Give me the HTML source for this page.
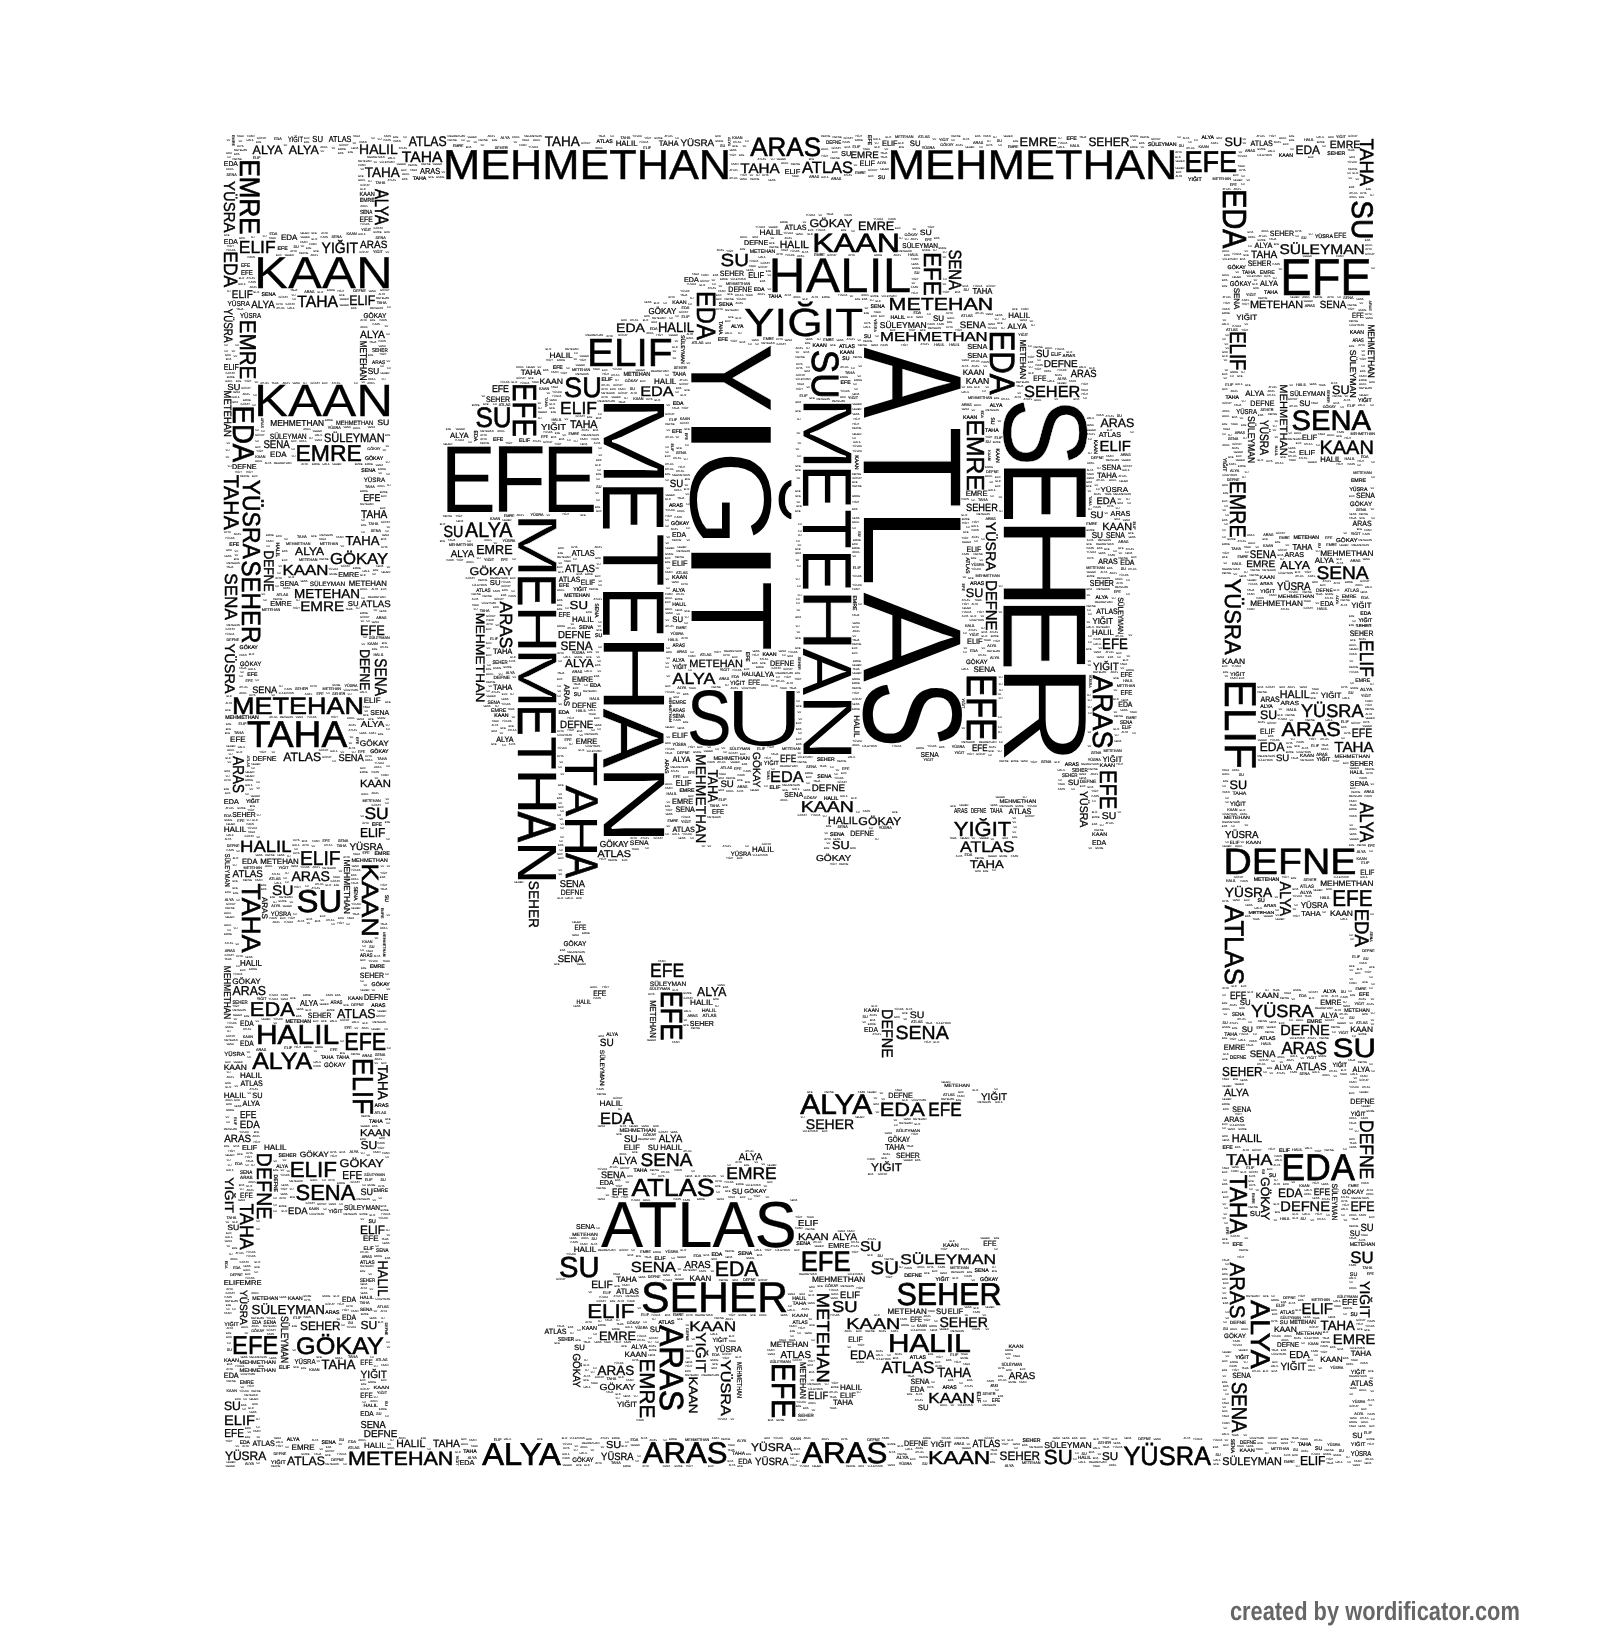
<!DOCTYPE html>
<html><head><meta charset="utf-8"><title>wordcloud</title>
<style>
html,body{margin:0;padding:0;background:#fff}
body{width:1600px;height:1640px;overflow:hidden;position:relative}
svg{position:absolute;left:0;top:0;will-change:transform}
text{font-family:"Liberation Sans",sans-serif;fill:#000;text-rendering:geometricPrecision}
.c{font-family:"Liberation Sans",sans-serif;font-weight:bold;fill:#666}
</style></head><body>
<svg width="1600" height="1640" viewBox="0 0 1600 1640">
<g stroke="#fff" stroke-linejoin="miter">
<text transform="translate(442.9,179.0) scale(1.070,1)" font-size="41.8" stroke="#000" stroke-width="0.46">MEHMETHAN</text>
<text transform="translate(254.1,287.9) scale(1.140,1)" font-size="44.7" stroke="#000" stroke-width="0.25">KAAN</text>
<text transform="translate(254.1,416.1) scale(1.131,1)" font-size="45.1" stroke="#000" stroke-width="0.25">KAAN</text>
<text transform="translate(295.4,461.0) scale(1.009,1)" font-size="22.8" stroke="#000" stroke-width="0.54">EMRE</text>
<text transform="translate(297.3,307.3) scale(0.954,1)" font-size="16.5" stroke="#000" stroke-width="0.40">TAHA</text>
<text transform="translate(238.8,253.0) scale(0.990,1)" font-size="17.6" stroke="#000" stroke-width="0.43">ELIF</text>
<text transform="translate(321.6,253.1) scale(0.928,1)" font-size="15.1" stroke="#000" stroke-width="0.37">YIĞIT</text>
<text transform="translate(360.1,248.1) scale(0.954,1)" font-size="10.5" stroke="#000" stroke-width="0.27">ARAS</text>
<text transform="translate(252.6,153.6) scale(1.009,1)" font-size="12.3" stroke="#000" stroke-width="0.31">ALYA</text>
<text transform="translate(288.8,153.6) scale(1.009,1)" font-size="12.3" stroke="#000" stroke-width="0.31">ALYA</text>
<text transform="translate(359.1,154.3) scale(0.992,1)" font-size="14.0" stroke="#000" stroke-width="0.35">HALIL</text>
<text transform="translate(408.8,146.1) scale(0.872,1)" font-size="14.0" stroke="#000" stroke-width="0.35">ATLAS</text>
<text transform="translate(401.8,161.8) scale(1.037,1)" font-size="15.1" stroke="#000" stroke-width="0.37">TAHA</text>
<text transform="translate(364.8,177.3) scale(0.963,1)" font-size="14.0" stroke="#000" stroke-width="0.35">TAHA</text>
<text transform="translate(544.8,146.1) scale(0.963,1)" font-size="14.0" stroke="#000" stroke-width="0.35">TAHA</text>
<text transform="translate(420.1,173.6) scale(0.849,1)" font-size="8.7" stroke="#000" stroke-width="0.24">ARAS</text>
<text transform="translate(475.4,427.2) scale(0.932,1)" font-size="28.1" stroke="#000" stroke-width="0.65">SU</text>
<text transform="translate(564.1,397.2) scale(0.966,1)" font-size="28.1" stroke="#000" stroke-width="0.65">SU</text>
<text transform="translate(560.1,413.5) scale(0.990,1)" font-size="17.6" stroke="#000" stroke-width="0.43">ELIF</text>
<text transform="translate(349.2,304.8) scale(0.885,1)" font-size="14.0" stroke="#000" stroke-width="0.35">ELIF</text>
<text transform="translate(323.9,442.3) scale(0.898,1)" font-size="12.3" stroke="#000" stroke-width="0.31">SÜLEYMAN</text>
<text transform="translate(263.4,447.9) scale(0.867,1)" font-size="11.2" stroke="#000" stroke-width="0.29">SENA</text>
<text transform="translate(270.2,426.1) scale(0.962,1)" font-size="8.7" stroke="#000" stroke-width="0.24">MEHMETHAN</text>
<text transform="translate(335.9,424.9) scale(0.916,1)" font-size="6.3" stroke="#000" stroke-width="0.18">MEHMETHAN</text>
<text transform="translate(269.8,438.6) scale(0.873,1)" font-size="7.7" stroke="#000" stroke-width="0.21">SÜLEYMAN</text>
<text transform="translate(360.1,338.1) scale(0.981,1)" font-size="10.5" stroke="#000" stroke-width="0.27">ALYA</text>
<text transform="translate(361.1,517.9) scale(0.904,1)" font-size="11.2" stroke="#000" stroke-width="0.29">TAHA</text>
<text transform="translate(363.2,501.1) scale(0.896,1)" font-size="9.8" stroke="#000" stroke-width="0.26">EFE</text>
<text transform="translate(363.7,482.4) scale(0.982,1)" font-size="6.3" stroke="#000" stroke-width="0.18">YÜSRA</text>
<text transform="translate(541.1,429.9) scale(1.104,1)" font-size="8.7" stroke="#000" stroke-width="0.24">YIĞIT</text>
<text transform="translate(569.9,427.9) scale(0.947,1)" font-size="11.2" stroke="#000" stroke-width="0.29">TAHA</text>
<text transform="translate(450.1,437.9) scale(1.005,1)" font-size="7.7" stroke="#000" stroke-width="0.21">ALYA</text>
<text transform="translate(491.9,391.9) scale(0.896,1)" font-size="9.8" stroke="#000" stroke-width="0.26">EFE</text>
<text transform="translate(486.0,401.9) scale(0.874,1)" font-size="8.0" stroke="#000" stroke-width="0.22">SEHER</text>
<text transform="translate(539.4,384.4) scale(1.082,1)" font-size="8.0" stroke="#000" stroke-width="0.22">KAAN</text>
<text transform="translate(520.7,375.4) scale(1.029,1)" font-size="7.7" stroke="#000" stroke-width="0.21">TAHA</text>
<text transform="translate(549.4,357.9) scale(1.086,1)" font-size="7.7" stroke="#000" stroke-width="0.21">HALIL</text>
<text transform="translate(240.3,159.5) rotate(90) scale(0.925,1)" font-size="28.1" stroke="#000" stroke-width="0.65">EMRE</text>
<text transform="translate(223.9,181.1) rotate(90) scale(0.942,1)" font-size="15.8" stroke="#000" stroke-width="0.39">YÜSRA</text>
<text transform="translate(224.0,251.3) rotate(90) scale(0.907,1)" font-size="19.3" stroke="#000" stroke-width="0.46">EDA</text>
<text transform="translate(240.3,319.8) rotate(90) scale(0.903,1)" font-size="22.8" stroke="#000" stroke-width="0.54">EMRE</text>
<text transform="translate(223.9,308.6) rotate(90) scale(0.799,1)" font-size="12.3" stroke="#000" stroke-width="0.31">YÜSRA</text>
<text transform="translate(232.8,405.6) rotate(90) scale(0.921,1)" font-size="29.9" stroke="#000" stroke-width="0.69">EDA</text>
<text transform="translate(223.9,390.6) rotate(90) scale(0.902,1)" font-size="10.5" stroke="#000" stroke-width="0.27">METEHAN</text>
<text transform="translate(375.2,188.9) rotate(90) scale(0.774,1)" font-size="19.3" stroke="#000" stroke-width="0.46">ALYA</text>
<text transform="translate(360.1,340.7) rotate(90) scale(0.832,1)" font-size="9.8" stroke="#000" stroke-width="0.26">METEHAN</text>
<text transform="translate(512.9,383.1) rotate(90) scale(0.830,1)" font-size="33.4" stroke="#000" stroke-width="0.76">EFE</text>
<text transform="translate(231.8,297.9) scale(0.885,1)" font-size="11.2" stroke="#000" stroke-width="0.29">ELIF</text>
<text transform="translate(251.3,307.9) scale(0.932,1)" font-size="10.5" stroke="#000" stroke-width="0.27">ALYA</text>
<text transform="translate(227.4,306.1) scale(0.935,1)" font-size="7.0" stroke="#000" stroke-width="0.20">YÜSRA</text>
<text transform="translate(239.9,317.9) scale(0.883,1)" font-size="7.0" stroke="#000" stroke-width="0.20">YÜSRA</text>
<text transform="translate(312.3,142.4) scale(0.886,1)" font-size="8.7" stroke="#000" stroke-width="0.24">SU</text>
<text transform="translate(287.9,142.4) scale(0.753,1)" font-size="7.7" stroke="#000" stroke-width="0.21">YIĞIT</text>
<text transform="translate(328.8,142.4) scale(0.839,1)" font-size="8.7" stroke="#000" stroke-width="0.24">ATLAS</text>
<text transform="translate(223.8,166.2) scale(0.984,1)" font-size="7.0" stroke="#000" stroke-width="0.20">EDA</text>
<text transform="translate(223.8,243.7) scale(0.984,1)" font-size="7.0" stroke="#000" stroke-width="0.20">EDA</text>
<text transform="translate(223.8,369.9) scale(0.823,1)" font-size="8.7" stroke="#000" stroke-width="0.24">ELIF</text>
<text transform="translate(227.2,389.9) scale(1.107,1)" font-size="8.7" stroke="#000" stroke-width="0.24">SU</text>
<text transform="translate(232.0,469.4) scale(1.034,1)" font-size="7.0" stroke="#000" stroke-width="0.20">DEFNE</text>
<text transform="translate(367.7,373.6) scale(0.952,1)" font-size="8.7" stroke="#000" stroke-width="0.24">SU</text>
<text transform="translate(377.2,425.4) scale(1.133,1)" font-size="7.7" stroke="#000" stroke-width="0.21">SU</text>
<text transform="translate(363.5,317.9) scale(0.938,1)" font-size="7.0" stroke="#000" stroke-width="0.20">GÖKAY</text>
<text transform="translate(359.6,221.9) scale(0.840,1)" font-size="8.0" stroke="#000" stroke-width="0.22">EFE</text>
<text transform="translate(359.6,196.2) scale(0.946,1)" font-size="5.9" stroke="#000" stroke-width="0.18">KAAN</text>
<text transform="translate(359.7,202.4) scale(0.876,1)" font-size="5.9" stroke="#000" stroke-width="0.18">EMRE</text>
<text transform="translate(359.9,214.2) scale(0.781,1)" font-size="5.9" stroke="#000" stroke-width="0.18">SENA</text>
<text transform="translate(371.9,351.9) scale(0.822,1)" font-size="5.6" stroke="#000" stroke-width="0.17">SEHER</text>
<text transform="translate(372.1,363.7) scale(0.923,1)" font-size="5.2" stroke="#000" stroke-width="0.16">ARAS</text>
<text transform="translate(240.9,275.4) scale(0.870,1)" font-size="7.0" stroke="#000" stroke-width="0.20">EFE</text>
<text transform="translate(240.9,267.4) scale(0.904,1)" font-size="5.2" stroke="#000" stroke-width="0.16">EFE</text>
<text transform="translate(750.2,155.9) scale(0.986,1)" font-size="26.4" stroke="#000" stroke-width="0.61">ARAS</text>
<text transform="translate(740.3,172.8) scale(1.087,1)" font-size="14.0" stroke="#000" stroke-width="0.35">TAHA</text>
<text transform="translate(802.1,172.8) scale(0.999,1)" font-size="16.5" stroke="#000" stroke-width="0.40">ATLAS</text>
<text transform="translate(850.6,157.9) scale(1.043,1)" font-size="9.4" stroke="#000" stroke-width="0.25">EMRE</text>
<text transform="translate(841.0,156.2) scale(1.053,1)" font-size="7.0" stroke="#000" stroke-width="0.20">SU</text>
<text transform="translate(784.5,173.7) scale(1.065,1)" font-size="7.0" stroke="#000" stroke-width="0.20">ELIF</text>
<text transform="translate(615.7,146.1) scale(0.980,1)" font-size="8.0" stroke="#000" stroke-width="0.22">HALIL</text>
<text transform="translate(658.7,146.1) scale(0.960,1)" font-size="8.0" stroke="#000" stroke-width="0.22">TAHA</text>
<text transform="translate(680.4,146.1) scale(1.045,1)" font-size="9.4" stroke="#000" stroke-width="0.25">YÜSRA</text>
<text transform="translate(882.0,146.1) scale(0.925,1)" font-size="8.0" stroke="#000" stroke-width="0.22">ELIF</text>
<text transform="translate(909.8,146.1) scale(0.963,1)" font-size="8.0" stroke="#000" stroke-width="0.22">SU</text>
<text transform="translate(859.5,166.1) scale(0.925,1)" font-size="8.0" stroke="#000" stroke-width="0.22">ELIF</text>
<text transform="translate(826.0,143.7) scale(0.873,1)" font-size="5.2" stroke="#000" stroke-width="0.16">DEFNE</text>
<text transform="translate(809.5,227.4) scale(1.104,1)" font-size="11.2" stroke="#000" stroke-width="0.29">GÖKAY</text>
<text transform="translate(857.9,229.8) scale(1.023,1)" font-size="12.3" stroke="#000" stroke-width="0.31">EMRE</text>
<text transform="translate(812.3,252.2) scale(1.219,1)" font-size="26.4" stroke="#000" stroke-width="0.61">KAAN</text>
<text transform="translate(768.6,292.3) scale(1.057,1)" font-size="48.6" stroke="#000" stroke-width="0.31">HALIL</text>
<text transform="translate(744.1,336.1) scale(1.157,1)" font-size="39.4" stroke="#000" stroke-width="0.36">YIĞIT</text>
<text transform="translate(888.6,310.3) scale(1.215,1)" font-size="17.6" stroke="#000" stroke-width="0.43">METEHAN</text>
<text transform="translate(880.1,341.1) scale(1.284,1)" font-size="13.0" stroke="#000" stroke-width="0.33">MEHMETHAN</text>
<text transform="translate(879.7,327.9) scale(1.021,1)" font-size="8.4" stroke="#000" stroke-width="0.23">SÜLEYMAN</text>
<text transform="translate(959.7,327.9) scale(1.029,1)" font-size="9.4" stroke="#000" stroke-width="0.25">SENA</text>
<text transform="translate(720.6,266.0) scale(1.160,1)" font-size="17.6" stroke="#000" stroke-width="0.43">SU</text>
<text transform="translate(719.8,276.1) scale(0.914,1)" font-size="7.7" stroke="#000" stroke-width="0.21">SEHER</text>
<text transform="translate(779.8,247.9) scale(0.998,1)" font-size="10.5" stroke="#000" stroke-width="0.27">HALIL</text>
<text transform="translate(744.0,245.4) scale(1.023,1)" font-size="7.0" stroke="#000" stroke-width="0.20">DEFNE</text>
<text transform="translate(759.4,235.4) scale(1.086,1)" font-size="7.7" stroke="#000" stroke-width="0.21">HALIL</text>
<text transform="translate(784.6,229.9) scale(0.923,1)" font-size="7.7" stroke="#000" stroke-width="0.21">ATLAS</text>
<text transform="translate(748.3,277.9) scale(0.887,1)" font-size="8.4" stroke="#000" stroke-width="0.23">ELIF</text>
<text transform="translate(728.3,291.9) scale(0.879,1)" font-size="8.0" stroke="#000" stroke-width="0.22">DEFNE</text>
<text transform="translate(749.7,253.2) scale(1.008,1)" font-size="5.2" stroke="#000" stroke-width="0.16">METEHAN</text>
<text transform="translate(902.3,247.9) scale(0.928,1)" font-size="7.0" stroke="#000" stroke-width="0.20">SÜLEYMAN</text>
<text transform="translate(919.7,235.4) scale(1.133,1)" font-size="7.7" stroke="#000" stroke-width="0.21">SU</text>
<text transform="translate(924.0,252.2) rotate(90) scale(0.907,1)" font-size="24.6" stroke="#000" stroke-width="0.58">EFE</text>
<text transform="translate(949.0,249.5) rotate(90) scale(0.844,1)" font-size="17.6" stroke="#000" stroke-width="0.43">SENA</text>
<text transform="translate(696.6,290.9) rotate(90) scale(0.902,1)" font-size="26.4" stroke="#000" stroke-width="0.61">EDA</text>
<text transform="translate(616.1,332.3) scale(1.141,1)" font-size="12.3" stroke="#000" stroke-width="0.31">EDA</text>
<text transform="translate(657.9,331.8) scale(0.926,1)" font-size="14.0" stroke="#000" stroke-width="0.35">HALIL</text>
<text transform="translate(587.1,366.0) scale(1.036,1)" font-size="39.1" stroke="#000" stroke-width="0.58">ELIF</text>
<text transform="translate(640.2,396.1) scale(1.159,1)" font-size="14.0" stroke="#000" stroke-width="0.35">EDA</text>
<text transform="translate(648.5,313.6) scale(0.916,1)" font-size="8.7" stroke="#000" stroke-width="0.24">GÖKAY</text>
<text transform="translate(684.0,281.9) scale(1.019,1)" font-size="7.0" stroke="#000" stroke-width="0.20">EDA</text>
<text transform="translate(623.4,376.2) scale(0.933,1)" font-size="5.9" stroke="#000" stroke-width="0.18">METEHAN</text>
<text transform="translate(672.4,376.2) scale(0.895,1)" font-size="5.9" stroke="#000" stroke-width="0.18">TAHA</text>
<text transform="translate(672.2,303.7) scale(1.018,1)" font-size="5.2" stroke="#000" stroke-width="0.16">KAAN</text>
<text transform="translate(972.4,294.1) scale(0.883,1)" font-size="8.7" stroke="#000" stroke-width="0.24">TAHA</text>
<text transform="translate(965.7,384.4) scale(0.995,1)" font-size="8.7" stroke="#000" stroke-width="0.24">KAAN</text>
<text transform="translate(967.3,349.4) scale(1.009,1)" font-size="7.3" stroke="#000" stroke-width="0.21">SENA</text>
<text transform="translate(967.3,357.6) scale(1.009,1)" font-size="7.3" stroke="#000" stroke-width="0.21">SENA</text>
<text transform="translate(966.5,419.6) rotate(90) scale(1.002,1)" font-size="24.6" stroke="#000" stroke-width="0.58">EMRE</text>
<text transform="translate(966.0,511.1) scale(0.880,1)" font-size="10.5" stroke="#000" stroke-width="0.27">SEHER</text>
<text transform="translate(965.7,496.1) scale(0.990,1)" font-size="7.7" stroke="#000" stroke-width="0.21">EMRE</text>
<text transform="translate(669.7,487.4) scale(0.922,1)" font-size="10.5" stroke="#000" stroke-width="0.27">SU</text>
<text transform="translate(1184.4,172.2) scale(0.905,1)" font-size="29.9" stroke="#000" stroke-width="0.69">EFE</text>
<text transform="translate(1019.6,146.1) scale(1.045,1)" font-size="12.3" stroke="#000" stroke-width="0.31">EMRE</text>
<text transform="translate(1088.4,146.1) scale(0.965,1)" font-size="12.3" stroke="#000" stroke-width="0.31">SEHER</text>
<text transform="translate(1224.6,146.1) scale(1.027,1)" font-size="12.3" stroke="#000" stroke-width="0.31">SU</text>
<text transform="translate(1250.6,146.1) scale(0.893,1)" font-size="8.0" stroke="#000" stroke-width="0.22">ATLAS</text>
<text transform="translate(1295.5,153.6) scale(0.968,1)" font-size="12.3" stroke="#000" stroke-width="0.31">EDA</text>
<text transform="translate(1329.8,147.9) scale(1.006,1)" font-size="10.5" stroke="#000" stroke-width="0.27">EMRE</text>
<text transform="translate(1360.2,138.5) rotate(90) scale(0.950,1)" font-size="19.3" stroke="#000" stroke-width="0.46">TAHA</text>
<text transform="translate(1351.6,200.3) rotate(90) scale(0.942,1)" font-size="29.9" stroke="#000" stroke-width="0.69">SU</text>
<text transform="translate(1222.9,189.3) rotate(90) scale(0.861,1)" font-size="33.4" stroke="#000" stroke-width="0.76">EDA</text>
<text transform="translate(1230.3,331.2) rotate(90) scale(0.815,1)" font-size="22.8" stroke="#000" stroke-width="0.54">ELIF</text>
<text transform="translate(1269.8,236.1) scale(0.914,1)" font-size="7.7" stroke="#000" stroke-width="0.21">SEHER</text>
<text transform="translate(1334.1,237.9) scale(0.825,1)" font-size="7.7" stroke="#000" stroke-width="0.21">EFE</text>
<text transform="translate(1254.6,247.9) scale(0.965,1)" font-size="7.7" stroke="#000" stroke-width="0.21">ALYA</text>
<text transform="translate(1251.1,257.9) scale(0.965,1)" font-size="10.5" stroke="#000" stroke-width="0.27">TAHA</text>
<text transform="translate(1279.5,253.6) scale(1.106,1)" font-size="14.0" stroke="#000" stroke-width="0.35">SÜLEYMAN</text>
<text transform="translate(1280.3,294.7) scale(0.906,1)" font-size="51.9" stroke="#000" stroke-width="0.58">EFE</text>
<text transform="translate(1247.8,266.1) scale(0.855,1)" font-size="8.0" stroke="#000" stroke-width="0.22">SEHER</text>
<text transform="translate(1242.0,273.7) scale(0.997,1)" font-size="5.2" stroke="#000" stroke-width="0.16">TAHA</text>
<text transform="translate(1259.7,273.7) scale(0.994,1)" font-size="5.2" stroke="#000" stroke-width="0.16">EMRE</text>
<text transform="translate(1229.8,286.1) scale(0.886,1)" font-size="7.0" stroke="#000" stroke-width="0.20">GÖKAY</text>
<text transform="translate(1260.1,286.1) scale(0.923,1)" font-size="8.0" stroke="#000" stroke-width="0.22">ALYA</text>
<text transform="translate(1250.0,307.9) scale(1.037,1)" font-size="10.5" stroke="#000" stroke-width="0.27">METEHAN</text>
<text transform="translate(1319.7,307.9) scale(0.925,1)" font-size="10.5" stroke="#000" stroke-width="0.27">SENA</text>
<text transform="translate(1236.2,319.9) scale(1.042,1)" font-size="7.7" stroke="#000" stroke-width="0.21">YIĞIT</text>
<text transform="translate(1352.1,317.9) scale(0.790,1)" font-size="7.7" stroke="#000" stroke-width="0.21">EFE</text>
<text transform="translate(1367.6,324.4) rotate(90) scale(0.881,1)" font-size="9.4" stroke="#000" stroke-width="0.25">MEHMETHAN</text>
<text transform="translate(1350.1,349.7) rotate(90) scale(1.006,1)" font-size="8.7" stroke="#000" stroke-width="0.24">SÜLEYMAN</text>
<text transform="translate(1332.1,393.6) scale(1.027,1)" font-size="12.3" stroke="#000" stroke-width="0.31">SU</text>
<text transform="translate(1289.8,396.1) scale(0.928,1)" font-size="7.0" stroke="#000" stroke-width="0.20">SÜLEYMAN</text>
<text transform="translate(1250.3,406.1) scale(0.888,1)" font-size="8.0" stroke="#000" stroke-width="0.22">DEFNE</text>
<text transform="translate(1299.2,406.1) scale(1.011,1)" font-size="8.0" stroke="#000" stroke-width="0.22">SU</text>
<text transform="translate(1279.6,384.3) rotate(90) scale(1.057,1)" font-size="10.5" stroke="#000" stroke-width="0.27">MEHMETHAN</text>
<text transform="translate(1291.5,429.7) scale(1.038,1)" font-size="28.1" stroke="#000" stroke-width="0.65">SENA</text>
<text transform="translate(1319.4,453.5) scale(1.037,1)" font-size="19.3" stroke="#000" stroke-width="0.46">KAAN</text>
<text transform="translate(1320.2,461.9) scale(0.946,1)" font-size="8.0" stroke="#000" stroke-width="0.22">HALIL</text>
<text transform="translate(1302.0,439.9) scale(0.935,1)" font-size="7.7" stroke="#000" stroke-width="0.21">ELIF</text>
<text transform="translate(1299.0,455.4) scale(1.101,1)" font-size="7.0" stroke="#000" stroke-width="0.20">ELIF</text>
<text transform="translate(1247.6,416.0) rotate(90) scale(0.874,1)" font-size="9.8" stroke="#000" stroke-width="0.26">SÜLEYMAN</text>
<text transform="translate(1260.2,419.9) rotate(90) scale(0.828,1)" font-size="12.3" stroke="#000" stroke-width="0.31">YÜSRA</text>
<text transform="translate(1236.2,413.6) scale(0.862,1)" font-size="7.0" stroke="#000" stroke-width="0.20">YÜSRA</text>
<text transform="translate(1356.0,497.9) scale(0.903,1)" font-size="7.7" stroke="#000" stroke-width="0.21">SENA</text>
<text transform="translate(1349.8,505.7) scale(1.020,1)" font-size="6.3" stroke="#000" stroke-width="0.18">GÖKAY</text>
<text transform="translate(1352.6,526.1) scale(0.905,1)" font-size="7.7" stroke="#000" stroke-width="0.21">ARAS</text>
<text transform="translate(1349.7,334.4) scale(0.953,1)" font-size="5.6" stroke="#000" stroke-width="0.17">KAAN</text>
<text transform="translate(1352.5,342.4) scale(0.799,1)" font-size="5.2" stroke="#000" stroke-width="0.16">ARAS</text>
<text transform="translate(1008.2,317.9) scale(1.025,1)" font-size="7.7" stroke="#000" stroke-width="0.21">HALIL</text>
<text transform="translate(990.4,330.4) rotate(90) scale(0.889,1)" font-size="35.2" stroke="#000" stroke-width="0.80">EDA</text>
<text transform="translate(1020.1,339.5) rotate(90) scale(0.933,1)" font-size="8.7" stroke="#000" stroke-width="0.24">METEHAN</text>
<text transform="translate(1035.9,357.4) scale(0.922,1)" font-size="10.5" stroke="#000" stroke-width="0.27">SU</text>
<text transform="translate(1043.8,367.4) scale(1.023,1)" font-size="9.8" stroke="#000" stroke-width="0.26">DEFNE</text>
<text transform="translate(1070.8,377.4) scale(0.901,1)" font-size="10.5" stroke="#000" stroke-width="0.27">ARAS</text>
<text transform="translate(1033.3,381.1) scale(0.840,1)" font-size="8.0" stroke="#000" stroke-width="0.22">EFE</text>
<text transform="translate(1024.0,396.8) scale(1.017,1)" font-size="16.1" stroke="#000" stroke-width="0.39">SEHER</text>
<text transform="translate(1100.6,427.3) scale(1.006,1)" font-size="12.3" stroke="#000" stroke-width="0.31">ARAS</text>
<text transform="translate(1098.8,437.4) scale(1.028,1)" font-size="7.0" stroke="#000" stroke-width="0.20">ATLAS</text>
<text transform="translate(1099.5,451.1) scale(1.011,1)" font-size="14.7" stroke="#000" stroke-width="0.36">ELIF</text>
<text transform="translate(1101.8,469.9) scale(0.927,1)" font-size="7.7" stroke="#000" stroke-width="0.21">SENA</text>
<text transform="translate(1096.9,477.9) scale(1.004,1)" font-size="7.7" stroke="#000" stroke-width="0.21">TAHA</text>
<text transform="translate(1100.4,491.9) scale(1.143,1)" font-size="7.0" stroke="#000" stroke-width="0.20">YÜSRA</text>
<text transform="translate(1096.4,503.6) scale(1.018,1)" font-size="9.4" stroke="#000" stroke-width="0.25">EDA</text>
<text transform="translate(1090.2,517.9) scale(1.025,1)" font-size="9.4" stroke="#000" stroke-width="0.25">SU</text>
<text transform="translate(1110.6,515.6) scale(0.986,1)" font-size="7.3" stroke="#000" stroke-width="0.21">ARAS</text>
<text transform="translate(1102.3,529.9) scale(1.040,1)" font-size="10.5" stroke="#000" stroke-width="0.27">KAAN</text>
<text transform="translate(1050.9,356.2) scale(0.949,1)" font-size="5.2" stroke="#000" stroke-width="0.16">ELIF</text>
<text transform="translate(1062.6,357.4) scale(1.112,1)" font-size="4.2" stroke="#000" stroke-width="0.14">ARAS</text>
<text transform="translate(242.8,479.7) rotate(90) scale(0.933,1)" font-size="24.6" stroke="#000" stroke-width="0.58">YÜSRA</text>
<text transform="translate(224.2,474.7) rotate(90) scale(1.008,1)" font-size="21.1" stroke="#000" stroke-width="0.50">TAHA</text>
<text transform="translate(465.1,537.2) scale(0.930,1)" font-size="21.1" stroke="#000" stroke-width="0.50">ALYA</text>
<text transform="translate(443.5,537.3) scale(0.889,1)" font-size="16.1" stroke="#000" stroke-width="0.39">SU</text>
<text transform="translate(241.6,560.4) rotate(90) scale(0.912,1)" font-size="26.4" stroke="#000" stroke-width="0.61">SEHER</text>
<text transform="translate(225.2,573.2) rotate(90) scale(0.976,1)" font-size="17.6" stroke="#000" stroke-width="0.43">SENA</text>
<text transform="translate(225.2,643.6) rotate(90) scale(1.035,1)" font-size="14.0" stroke="#000" stroke-width="0.35">YÜSRA</text>
<text transform="translate(263.9,550.4) rotate(90) scale(0.867,1)" font-size="14.0" stroke="#000" stroke-width="0.35">DEFNE</text>
<text transform="translate(345.6,545.3) scale(1.005,1)" font-size="13.0" stroke="#000" stroke-width="0.33">TAHA</text>
<text transform="translate(295.1,555.4) scale(1.076,1)" font-size="11.2" stroke="#000" stroke-width="0.29">ALYA</text>
<text transform="translate(329.9,563.6) scale(1.060,1)" font-size="15.8" stroke="#000" stroke-width="0.39">GÖKAY</text>
<text transform="translate(282.6,574.8) scale(1.149,1)" font-size="14.7" stroke="#000" stroke-width="0.36">KAAN</text>
<text transform="translate(338.3,577.4) scale(1.026,1)" font-size="7.0" stroke="#000" stroke-width="0.20">EMRE</text>
<text transform="translate(279.8,585.6) scale(0.994,1)" font-size="7.0" stroke="#000" stroke-width="0.20">SENA</text>
<text transform="translate(309.8,585.7) scale(1.018,1)" font-size="6.3" stroke="#000" stroke-width="0.18">SÜLEYMAN</text>
<text transform="translate(348.7,586.1) scale(1.013,1)" font-size="7.7" stroke="#000" stroke-width="0.21">METEHAN</text>
<text transform="translate(294.1,597.8) scale(1.035,1)" font-size="13.0" stroke="#000" stroke-width="0.33">METEHAN</text>
<text transform="translate(300.2,611.1) scale(1.086,1)" font-size="14.0" stroke="#000" stroke-width="0.35">EMRE</text>
<text transform="translate(270.3,606.1) scale(1.052,1)" font-size="7.0" stroke="#000" stroke-width="0.20">EMRE</text>
<text transform="translate(347.8,605.6) scale(1.108,1)" font-size="7.0" stroke="#000" stroke-width="0.20">SU</text>
<text transform="translate(360.8,607.4) scale(1.027,1)" font-size="9.4" stroke="#000" stroke-width="0.25">ATLAS</text>
<text transform="translate(359.9,634.8) scale(0.915,1)" font-size="14.0" stroke="#000" stroke-width="0.35">EFE</text>
<text transform="translate(360.2,649.2) rotate(90) scale(0.867,1)" font-size="14.0" stroke="#000" stroke-width="0.35">DEFNE</text>
<text transform="translate(375.2,658.3) rotate(90) scale(0.825,1)" font-size="16.8" stroke="#000" stroke-width="0.41">SENA</text>
<text transform="translate(252.2,692.9) scale(0.980,1)" font-size="9.4" stroke="#000" stroke-width="0.25">SENA</text>
<text transform="translate(231.9,714.2) scale(1.130,1)" font-size="23.9" stroke="#000" stroke-width="0.56">METEHAN</text>
<text transform="translate(246.9,747.2) scale(1.040,1)" font-size="37.2" stroke="#000" stroke-width="0.62">TAHA</text>
<text transform="translate(370.3,715.4) scale(0.994,1)" font-size="7.0" stroke="#000" stroke-width="0.20">SENA</text>
<text transform="translate(360.8,727.4) scale(1.120,1)" font-size="8.7" stroke="#000" stroke-width="0.24">ALYA</text>
<text transform="translate(359.7,746.1) scale(1.041,1)" font-size="8.0" stroke="#000" stroke-width="0.22">GÖKAY</text>
<text transform="translate(283.3,761.1) scale(0.997,1)" font-size="12.3" stroke="#000" stroke-width="0.31">ATLAS</text>
<text transform="translate(252.5,761.1) scale(1.012,1)" font-size="7.0" stroke="#000" stroke-width="0.20">DEFNE</text>
<text transform="translate(338.5,761.1) scale(0.945,1)" font-size="9.8" stroke="#000" stroke-width="0.26">SENA</text>
<text transform="translate(232.7,756.3) rotate(90) scale(0.852,1)" font-size="15.8" stroke="#000" stroke-width="0.39">ARAS</text>
<text transform="translate(360.0,787.4) scale(1.077,1)" font-size="10.5" stroke="#000" stroke-width="0.27">KAAN</text>
<text transform="translate(364.4,818.5) scale(1.058,1)" font-size="16.5" stroke="#000" stroke-width="0.40">SU</text>
<text transform="translate(359.9,837.3) scale(0.928,1)" font-size="13.0" stroke="#000" stroke-width="0.33">ELIF</text>
<text transform="translate(349.4,849.9) scale(1.000,1)" font-size="9.8" stroke="#000" stroke-width="0.26">YÜSRA</text>
<text transform="translate(223.8,803.6) scale(1.037,1)" font-size="7.0" stroke="#000" stroke-width="0.20">EDA</text>
<text transform="translate(232.3,817.4) scale(0.974,1)" font-size="7.0" stroke="#000" stroke-width="0.20">SEHER</text>
<text transform="translate(223.7,831.6) scale(1.062,1)" font-size="7.7" stroke="#000" stroke-width="0.21">HALIL</text>
<text transform="translate(240.0,852.3) scale(1.125,1)" font-size="16.5" stroke="#000" stroke-width="0.40">HALIL</text>
<text transform="translate(299.9,864.8) scale(0.961,1)" font-size="20.0" stroke="#000" stroke-width="0.48">ELIF</text>
<text transform="translate(242.0,863.6) scale(0.975,1)" font-size="7.7" stroke="#000" stroke-width="0.21">EDA</text>
<text transform="translate(260.2,863.6) scale(1.027,1)" font-size="7.7" stroke="#000" stroke-width="0.21">METEHAN</text>
<text transform="translate(232.6,877.4) scale(0.999,1)" font-size="9.8" stroke="#000" stroke-width="0.26">ATLAS</text>
<text transform="translate(291.4,881.1) scale(1.012,1)" font-size="14.0" stroke="#000" stroke-width="0.35">ARAS</text>
<text transform="translate(272.0,894.8) scale(1.105,1)" font-size="14.0" stroke="#000" stroke-width="0.35">SU</text>
<text transform="translate(296.4,912.1) scale(1.043,1)" font-size="31.6" stroke="#000" stroke-width="0.72">SU</text>
<text transform="translate(270.7,915.7) scale(0.948,1)" font-size="6.3" stroke="#000" stroke-width="0.18">YÜSRA</text>
<text transform="translate(343.9,859.4) rotate(90) scale(0.975,1)" font-size="8.7" stroke="#000" stroke-width="0.24">MEHMETHAN</text>
<text transform="translate(362.3,863.2) rotate(90) scale(1.151,1)" font-size="23.5" stroke="#000" stroke-width="0.55">KAAN</text>
<text transform="translate(351.4,861.9) scale(1.086,1)" font-size="5.2" stroke="#000" stroke-width="0.16">MEHMETHAN</text>
<text transform="translate(225.1,853.6) rotate(90) scale(0.862,1)" font-size="7.0" stroke="#000" stroke-width="0.20">SÜLEYMAN</text>
<text transform="translate(241.6,883.4) rotate(90) scale(1.008,1)" font-size="26.4" stroke="#000" stroke-width="0.61">TAHA</text>
<text transform="translate(239.8,665.7) scale(0.985,1)" font-size="6.3" stroke="#000" stroke-width="0.18">GÖKAY</text>
<text transform="translate(500.2,601.4) rotate(90) scale(0.978,1)" font-size="17.6" stroke="#000" stroke-width="0.43">ARAS</text>
<text transform="translate(476.4,612.8) rotate(90) scale(1.132,1)" font-size="12.3" stroke="#000" stroke-width="0.31">MEHMETHAN</text>
<text transform="translate(528.9,880.8) rotate(90) scale(0.976,1)" font-size="14.0" stroke="#000" stroke-width="0.35">SEHER</text>
<text transform="translate(476.2,554.1) scale(0.967,1)" font-size="13.0" stroke="#000" stroke-width="0.33">EMRE</text>
<text transform="translate(450.8,557.4) scale(0.999,1)" font-size="9.8" stroke="#000" stroke-width="0.26">ALYA</text>
<text transform="translate(469.5,575.4) scale(1.117,1)" font-size="11.2" stroke="#000" stroke-width="0.29">GÖKAY</text>
<text transform="translate(489.8,585.4) scale(1.108,1)" font-size="7.0" stroke="#000" stroke-width="0.20">SU</text>
<text transform="translate(476.3,591.7) scale(0.890,1)" font-size="5.2" stroke="#000" stroke-width="0.16">ATLAS</text>
<text transform="translate(492.9,653.6) scale(0.936,1)" font-size="8.0" stroke="#000" stroke-width="0.22">TAHA</text>
<text transform="translate(492.9,689.9) scale(0.936,1)" font-size="8.0" stroke="#000" stroke-width="0.22">TAHA</text>
<text transform="translate(496.3,741.9) scale(0.897,1)" font-size="8.0" stroke="#000" stroke-width="0.22">ALYA</text>
<text transform="translate(492.4,663.7) scale(0.850,1)" font-size="5.2" stroke="#000" stroke-width="0.16">SEHER</text>
<text transform="translate(493.4,679.4) scale(1.093,1)" font-size="4.5" stroke="#000" stroke-width="0.15">DEFNE</text>
<text transform="translate(487.4,703.9) scale(0.950,1)" font-size="4.9" stroke="#000" stroke-width="0.15">SENA</text>
<text transform="translate(490.9,711.7) scale(1.029,1)" font-size="5.2" stroke="#000" stroke-width="0.16">EMRE</text>
<text transform="translate(571.8,556.1) scale(0.849,1)" font-size="8.7" stroke="#000" stroke-width="0.24">ATLAS</text>
<text transform="translate(565.1,571.9) scale(0.916,1)" font-size="10.5" stroke="#000" stroke-width="0.27">ATLAS</text>
<text transform="translate(558.8,581.6) scale(0.902,1)" font-size="7.7" stroke="#000" stroke-width="0.21">ATLAS</text>
<text transform="translate(580.8,585.4) scale(0.887,1)" font-size="7.7" stroke="#000" stroke-width="0.21">ELIF</text>
<text transform="translate(569.6,609.4) scale(1.139,1)" font-size="11.6" stroke="#000" stroke-width="0.30">SU</text>
<text transform="translate(558.4,617.4) scale(0.870,1)" font-size="7.0" stroke="#000" stroke-width="0.20">EFE</text>
<text transform="translate(572.0,621.9) scale(0.980,1)" font-size="8.0" stroke="#000" stroke-width="0.22">HALIL</text>
<text transform="translate(558.1,637.9) scale(0.950,1)" font-size="10.1" stroke="#000" stroke-width="0.27">DEFNE</text>
<text transform="translate(560.4,649.8) scale(0.959,1)" font-size="12.3" stroke="#000" stroke-width="0.31">SENA</text>
<text transform="translate(565.1,667.4) scale(1.025,1)" font-size="11.6" stroke="#000" stroke-width="0.30">ALYA</text>
<text transform="translate(572.0,681.9) scale(0.914,1)" font-size="8.0" stroke="#000" stroke-width="0.22">EMRE</text>
<text transform="translate(572.0,707.9) scale(0.939,1)" font-size="7.7" stroke="#000" stroke-width="0.21">DEFNE</text>
<text transform="translate(560.1,727.9) scale(0.933,1)" font-size="10.5" stroke="#000" stroke-width="0.27">DEFNE</text>
<text transform="translate(575.8,743.6) scale(0.925,1)" font-size="8.0" stroke="#000" stroke-width="0.22">EMRE</text>
<text transform="translate(559.7,887.4) scale(0.945,1)" font-size="9.8" stroke="#000" stroke-width="0.26">SENA</text>
<text transform="translate(560.8,895.4) scale(0.889,1)" font-size="7.7" stroke="#000" stroke-width="0.21">DEFNE</text>
<text transform="translate(574.6,929.9) scale(0.790,1)" font-size="7.7" stroke="#000" stroke-width="0.21">EFE</text>
<text transform="translate(812.4,349.8) rotate(90) scale(0.919,1)" font-size="38.1" stroke="#000" stroke-width="0.80">SU</text>
<text transform="translate(986.2,521.8) rotate(90) scale(1.014,1)" font-size="14.0" stroke="#000" stroke-width="0.35">YÜSRA</text>
<text transform="translate(672.6,684.3) scale(1.099,1)" font-size="16.1" stroke="#000" stroke-width="0.39">ALYA</text>
<text transform="translate(689.3,667.4) scale(1.042,1)" font-size="10.5" stroke="#000" stroke-width="0.27">METEHAN</text>
<text transform="translate(770.0,665.6) scale(0.898,1)" font-size="8.0" stroke="#000" stroke-width="0.22">DEFNE</text>
<text transform="translate(755.6,677.4) scale(1.005,1)" font-size="7.7" stroke="#000" stroke-width="0.21">ALYA</text>
<text transform="translate(741.7,676.2) scale(0.892,1)" font-size="5.9" stroke="#000" stroke-width="0.18">HALIL</text>
<text transform="translate(729.9,685.4) scale(0.977,1)" font-size="5.9" stroke="#000" stroke-width="0.18">YIĞIT</text>
<text transform="translate(748.3,685.4) scale(0.790,1)" font-size="7.7" stroke="#000" stroke-width="0.21">EFE</text>
<text transform="translate(672.0,537.4) scale(0.984,1)" font-size="7.0" stroke="#000" stroke-width="0.20">EDA</text>
<text transform="translate(672.0,566.1) scale(0.925,1)" font-size="8.0" stroke="#000" stroke-width="0.22">ELIF</text>
<text transform="translate(672.1,579.4) scale(1.005,1)" font-size="5.6" stroke="#000" stroke-width="0.17">KAAN</text>
<text transform="translate(672.6,591.9) scale(0.924,1)" font-size="5.6" stroke="#000" stroke-width="0.17">ALYA</text>
<text transform="translate(672.2,606.2) scale(0.976,1)" font-size="5.2" stroke="#000" stroke-width="0.16">HALIL</text>
<text transform="translate(672.3,621.9) scale(0.963,1)" font-size="8.0" stroke="#000" stroke-width="0.22">SU</text>
<text transform="translate(672.5,647.4) scale(0.887,1)" font-size="5.2" stroke="#000" stroke-width="0.16">ARAS</text>
<text transform="translate(672.6,661.9) scale(0.887,1)" font-size="5.6" stroke="#000" stroke-width="0.17">ALYA</text>
<text transform="translate(672.4,669.4) scale(0.891,1)" font-size="6.3" stroke="#000" stroke-width="0.18">YIĞIT</text>
<text transform="translate(672.2,703.7) scale(0.943,1)" font-size="5.2" stroke="#000" stroke-width="0.16">EMRE</text>
<text transform="translate(672.5,711.7) scale(0.887,1)" font-size="5.2" stroke="#000" stroke-width="0.16">ARAS</text>
<text transform="translate(672.4,717.9) scale(0.781,1)" font-size="5.9" stroke="#000" stroke-width="0.18">SENA</text>
<text transform="translate(672.0,737.9) scale(0.968,1)" font-size="7.7" stroke="#000" stroke-width="0.21">ELIF</text>
<text transform="translate(672.5,745.7) scale(0.883,1)" font-size="4.5" stroke="#000" stroke-width="0.15">YÜSRA</text>
<text transform="translate(672.6,761.9) scale(0.923,1)" font-size="8.0" stroke="#000" stroke-width="0.22">ALYA</text>
<text transform="translate(966.7,673.9) rotate(90) scale(0.817,1)" font-size="42.3" stroke="#000" stroke-width="0.92">EFE</text>
<text transform="translate(986.4,580.2) rotate(90) scale(0.939,1)" font-size="15.8" stroke="#000" stroke-width="0.39">DEFNE</text>
<text transform="translate(965.8,597.3) scale(1.027,1)" font-size="12.3" stroke="#000" stroke-width="0.31">SU</text>
<text transform="translate(966.5,551.9) scale(0.879,1)" font-size="8.0" stroke="#000" stroke-width="0.22">ELIF</text>
<text transform="translate(967.0,643.6) scale(0.925,1)" font-size="8.0" stroke="#000" stroke-width="0.22">ELIF</text>
<text transform="translate(966.0,663.7) scale(0.985,1)" font-size="6.3" stroke="#000" stroke-width="0.18">GÖKAY</text>
<text transform="translate(972.0,751.1) scale(0.858,1)" font-size="9.4" stroke="#000" stroke-width="0.25">EFE</text>
<text transform="translate(920.5,757.4) scale(0.954,1)" font-size="7.0" stroke="#000" stroke-width="0.20">SENA</text>
<text transform="translate(696.4,754.1) rotate(90) scale(0.989,1)" font-size="14.0" stroke="#000" stroke-width="0.35">MEHMETHAN</text>
<text transform="translate(707.7,769.8) rotate(90) scale(0.895,1)" font-size="14.0" stroke="#000" stroke-width="0.35">TAHA</text>
<text transform="translate(752.6,752.1) rotate(90) scale(0.970,1)" font-size="10.5" stroke="#000" stroke-width="0.27">GÖKAY</text>
<text transform="translate(779.9,761.9) scale(0.810,1)" font-size="10.5" stroke="#000" stroke-width="0.27">EFE</text>
<text transform="translate(770.1,782.3) scale(1.029,1)" font-size="15.8" stroke="#000" stroke-width="0.39">EDA</text>
<text transform="translate(811.8,791.1) scale(1.045,1)" font-size="9.4" stroke="#000" stroke-width="0.25">DEFNE</text>
<text transform="translate(800.7,812.3) scale(1.238,1)" font-size="15.8" stroke="#000" stroke-width="0.39">KAAN</text>
<text transform="translate(784.3,797.4) scale(0.981,1)" font-size="7.0" stroke="#000" stroke-width="0.20">SENA</text>
<text transform="translate(828.0,823.6) scale(1.015,1)" font-size="10.5" stroke="#000" stroke-width="0.27">HALIL</text>
<text transform="translate(858.3,824.9) scale(1.104,1)" font-size="11.2" stroke="#000" stroke-width="0.29">GÖKAY</text>
<text transform="translate(850.3,836.1) scale(0.909,1)" font-size="7.7" stroke="#000" stroke-width="0.21">DEFNE</text>
<text transform="translate(832.1,849.4) scale(1.089,1)" font-size="11.6" stroke="#000" stroke-width="0.30">SU</text>
<text transform="translate(815.9,861.1) scale(1.165,1)" font-size="8.7" stroke="#000" stroke-width="0.24">GÖKAY</text>
<text transform="translate(752.0,851.9) scale(0.980,1)" font-size="8.0" stroke="#000" stroke-width="0.22">HALIL</text>
<text transform="translate(730.7,855.7) scale(0.948,1)" font-size="6.3" stroke="#000" stroke-width="0.18">YÜSRA</text>
<text transform="translate(720.4,787.4) scale(1.025,1)" font-size="9.4" stroke="#000" stroke-width="0.25">SU</text>
<text transform="translate(675.8,786.1) scale(0.851,1)" font-size="8.7" stroke="#000" stroke-width="0.24">ELIF</text>
<text transform="translate(672.0,804.1) scale(0.955,1)" font-size="7.7" stroke="#000" stroke-width="0.21">EMRE</text>
<text transform="translate(675.5,811.9) scale(0.887,1)" font-size="8.0" stroke="#000" stroke-width="0.22">SENA</text>
<text transform="translate(672.6,831.6) scale(0.933,1)" font-size="7.7" stroke="#000" stroke-width="0.21">ATLAS</text>
<text transform="translate(712.1,813.6) scale(0.870,1)" font-size="7.0" stroke="#000" stroke-width="0.20">EFE</text>
<text transform="translate(713.4,759.9) scale(1.086,1)" font-size="5.2" stroke="#000" stroke-width="0.16">MEHMETHAN</text>
<text transform="translate(763.7,765.4) scale(0.977,1)" font-size="5.9" stroke="#000" stroke-width="0.18">YIĞIT</text>
<text transform="translate(599.7,847.4) scale(0.957,1)" font-size="8.7" stroke="#000" stroke-width="0.24">GÖKAY</text>
<text transform="translate(629.8,845.4) scale(1.047,1)" font-size="6.6" stroke="#000" stroke-width="0.19">SENA</text>
<text transform="translate(597.6,856.9) scale(1.098,1)" font-size="9.8" stroke="#000" stroke-width="0.26">ATLAS</text>
<text transform="translate(1230.3,480.7) rotate(90) scale(0.877,1)" font-size="22.5" stroke="#000" stroke-width="0.53">EMRE</text>
<text transform="translate(1092.8,675.2) rotate(90) scale(0.957,1)" font-size="28.1" stroke="#000" stroke-width="0.65">ARAS</text>
<text transform="translate(1100.3,769.9) rotate(90) scale(0.849,1)" font-size="23.9" stroke="#000" stroke-width="0.56">EFE</text>
<text transform="translate(1080.1,791.1) rotate(90) scale(0.939,1)" font-size="11.2" stroke="#000" stroke-width="0.29">YÜSRA</text>
<text transform="translate(1117.6,597.3) rotate(90) scale(0.873,1)" font-size="7.7" stroke="#000" stroke-width="0.21">SÜLEYMAN</text>
<text transform="translate(1091.7,537.9) scale(0.969,1)" font-size="8.4" stroke="#000" stroke-width="0.23">SU</text>
<text transform="translate(1106.0,537.9) scale(0.827,1)" font-size="8.4" stroke="#000" stroke-width="0.23">SENA</text>
<text transform="translate(1098.3,563.6) scale(0.888,1)" font-size="8.0" stroke="#000" stroke-width="0.22">ARAS</text>
<text transform="translate(1120.3,565.4) scale(0.894,1)" font-size="7.7" stroke="#000" stroke-width="0.21">EDA</text>
<text transform="translate(1089.8,586.1) scale(0.804,1)" font-size="8.7" stroke="#000" stroke-width="0.24">SEHER</text>
<text transform="translate(1096.3,613.6) scale(0.862,1)" font-size="8.0" stroke="#000" stroke-width="0.22">ATLAS</text>
<text transform="translate(1092.4,623.6) scale(0.905,1)" font-size="8.7" stroke="#000" stroke-width="0.24">YIĞIT</text>
<text transform="translate(1092.0,635.4) scale(1.025,1)" font-size="7.7" stroke="#000" stroke-width="0.21">HALIL</text>
<text transform="translate(1102.1,649.3) scale(0.878,1)" font-size="15.1" stroke="#000" stroke-width="0.37">EFE</text>
<text transform="translate(1092.9,669.9) scale(0.946,1)" font-size="10.5" stroke="#000" stroke-width="0.27">YIĞIT</text>
<text transform="translate(1120.4,677.4) scale(0.870,1)" font-size="7.0" stroke="#000" stroke-width="0.20">EFE</text>
<text transform="translate(1120.4,695.4) scale(0.870,1)" font-size="7.0" stroke="#000" stroke-width="0.20">EFE</text>
<text transform="translate(1118.3,707.4) scale(0.894,1)" font-size="7.7" stroke="#000" stroke-width="0.21">EDA</text>
<text transform="translate(1119.9,723.7) scale(0.886,1)" font-size="5.2" stroke="#000" stroke-width="0.16">SENA</text>
<text transform="translate(1121.7,729.4) scale(0.878,1)" font-size="5.2" stroke="#000" stroke-width="0.16">ELIF</text>
<text transform="translate(1102.4,761.9) scale(0.960,1)" font-size="8.0" stroke="#000" stroke-width="0.22">YIĞIT</text>
<text transform="translate(1099.6,767.4) scale(1.110,1)" font-size="5.2" stroke="#000" stroke-width="0.16">KAAN</text>
<text transform="translate(1071.9,771.9) scale(0.822,1)" font-size="5.6" stroke="#000" stroke-width="0.17">SEHER</text>
<text transform="translate(1061.9,777.4) scale(0.878,1)" font-size="5.2" stroke="#000" stroke-width="0.16">SEHER</text>
<text transform="translate(1067.7,785.4) scale(1.082,1)" font-size="7.7" stroke="#000" stroke-width="0.21">SU</text>
<text transform="translate(1079.7,783.2) scale(1.093,1)" font-size="4.5" stroke="#000" stroke-width="0.15">DEFNE</text>
<text transform="translate(1101.7,819.4) scale(1.067,1)" font-size="9.8" stroke="#000" stroke-width="0.26">SU</text>
<text transform="translate(1092.1,835.7) scale(1.073,1)" font-size="5.2" stroke="#000" stroke-width="0.16">KAAN</text>
<text transform="translate(1092.0,845.4) scale(0.984,1)" font-size="7.0" stroke="#000" stroke-width="0.20">EDA</text>
<text transform="translate(999.6,803.2) scale(1.102,1)" font-size="5.2" stroke="#000" stroke-width="0.16">MEHMETHAN</text>
<text transform="translate(1008.8,813.6) scale(0.913,1)" font-size="8.0" stroke="#000" stroke-width="0.22">ATLAS</text>
<text transform="translate(1225.3,578.5) rotate(90) scale(0.970,1)" font-size="22.8" stroke="#000" stroke-width="0.54">YÜSRA</text>
<text transform="translate(1225.3,679.4) rotate(90) scale(0.953,1)" font-size="44.5" stroke="#000" stroke-width="0.62">ELIF</text>
<text transform="translate(1221.9,663.6) scale(1.107,1)" font-size="7.7" stroke="#000" stroke-width="0.21">KAAN</text>
<text transform="translate(1229.9,675.7) scale(1.108,1)" font-size="5.2" stroke="#000" stroke-width="0.16">YIĞIT</text>
<text transform="translate(1249.7,557.9) scale(0.867,1)" font-size="11.2" stroke="#000" stroke-width="0.29">SENA</text>
<text transform="translate(1246.3,567.4) scale(1.062,1)" font-size="9.4" stroke="#000" stroke-width="0.25">EMRE</text>
<text transform="translate(1280.1,569.4) scale(1.070,1)" font-size="11.6" stroke="#000" stroke-width="0.30">ALYA</text>
<text transform="translate(1316.4,578.5) scale(1.050,1)" font-size="18.3" stroke="#000" stroke-width="0.44">SENA</text>
<text transform="translate(1292.4,549.9) scale(0.883,1)" font-size="8.7" stroke="#000" stroke-width="0.24">TAHA</text>
<text transform="translate(1284.6,557.4) scale(1.022,1)" font-size="7.0" stroke="#000" stroke-width="0.20">ARAS</text>
<text transform="translate(1320.2,556.1) scale(1.031,1)" font-size="8.0" stroke="#000" stroke-width="0.22">MEHMETHAN</text>
<text transform="translate(1336.0,541.9) scale(1.109,1)" font-size="5.6" stroke="#000" stroke-width="0.17">GÖKAY</text>
<text transform="translate(1276.9,589.9) scale(0.874,1)" font-size="11.2" stroke="#000" stroke-width="0.29">YÜSRA</text>
<text transform="translate(1250.2,606.1) scale(1.021,1)" font-size="8.0" stroke="#000" stroke-width="0.22">MEHMETHAN</text>
<text transform="translate(1277.9,597.9) scale(1.157,1)" font-size="4.9" stroke="#000" stroke-width="0.15">MEHMETHAN</text>
<text transform="translate(1320.3,605.6) scale(0.930,1)" font-size="7.0" stroke="#000" stroke-width="0.20">EDA</text>
<text transform="translate(1351.2,607.9) scale(1.004,1)" font-size="7.7" stroke="#000" stroke-width="0.21">YIĞIT</text>
<text transform="translate(1259.6,579.4) scale(1.073,1)" font-size="5.2" stroke="#000" stroke-width="0.16">KAAN</text>
<text transform="translate(1259.9,592.9) scale(1.108,1)" font-size="5.2" stroke="#000" stroke-width="0.16">YIĞIT</text>
<text transform="translate(1260.1,585.4) scale(1.112,1)" font-size="4.2" stroke="#000" stroke-width="0.14">ARAS</text>
<text transform="translate(1315.9,591.7) scale(1.014,1)" font-size="4.9" stroke="#000" stroke-width="0.15">DEFNE</text>
<text transform="translate(1344.6,591.7) scale(0.954,1)" font-size="4.9" stroke="#000" stroke-width="0.15">ATLAS</text>
<text transform="translate(1341.7,597.9) scale(1.048,1)" font-size="4.9" stroke="#000" stroke-width="0.15">EMRE</text>
<text transform="translate(1349.8,636.1) scale(0.855,1)" font-size="8.0" stroke="#000" stroke-width="0.22">SEHER</text>
<text transform="translate(1355.6,627.4) scale(1.100,1)" font-size="4.2" stroke="#000" stroke-width="0.14">SEHER</text>
<text transform="translate(1360.2,640.1) rotate(90) scale(0.900,1)" font-size="19.3" stroke="#000" stroke-width="0.46">ELIF</text>
<text transform="translate(1355.2,681.9) scale(0.994,1)" font-size="5.2" stroke="#000" stroke-width="0.16">EMRE</text>
<text transform="translate(1360.1,691.2) scale(1.139,1)" font-size="4.5" stroke="#000" stroke-width="0.15">ALYA</text>
<text transform="translate(1279.8,697.9) scale(0.960,1)" font-size="11.2" stroke="#000" stroke-width="0.29">HALIL</text>
<text transform="translate(1320.7,697.9) scale(1.029,1)" font-size="7.7" stroke="#000" stroke-width="0.21">YIĞIT</text>
<text transform="translate(1260.6,701.9) scale(0.877,1)" font-size="8.0" stroke="#000" stroke-width="0.22">ARAS</text>
<text transform="translate(1280.6,704.9) scale(1.142,1)" font-size="5.9" stroke="#000" stroke-width="0.18">ARAS</text>
<text transform="translate(1301.0,717.3) scale(0.994,1)" font-size="18.3" stroke="#000" stroke-width="0.44">YÜSRA</text>
<text transform="translate(1260.1,719.1) scale(0.995,1)" font-size="12.3" stroke="#000" stroke-width="0.31">SU</text>
<text transform="translate(1281.4,736.0) scale(1.089,1)" font-size="20.0" stroke="#000" stroke-width="0.48">ARAS</text>
<text transform="translate(1260.0,733.6) scale(0.903,1)" font-size="7.7" stroke="#000" stroke-width="0.21">ELIF</text>
<text transform="translate(1351.8,737.3) scale(0.859,1)" font-size="12.3" stroke="#000" stroke-width="0.31">EFE</text>
<text transform="translate(1259.7,751.1) scale(0.978,1)" font-size="12.3" stroke="#000" stroke-width="0.31">EDA</text>
<text transform="translate(1334.3,751.6) scale(1.029,1)" font-size="14.7" stroke="#000" stroke-width="0.36">TAHA</text>
<text transform="translate(1275.9,761.1) scale(1.025,1)" font-size="9.4" stroke="#000" stroke-width="0.25">SU</text>
<text transform="translate(1299.7,757.4) scale(1.176,1)" font-size="4.5" stroke="#000" stroke-width="0.15">KAAN</text>
<text transform="translate(1316.3,755.7) scale(0.923,1)" font-size="4.5" stroke="#000" stroke-width="0.15">ARAS</text>
<text transform="translate(1334.6,757.9) scale(1.124,1)" font-size="4.9" stroke="#000" stroke-width="0.15">MEHMETHAN</text>
<text transform="translate(1349.8,765.6) scale(0.938,1)" font-size="7.3" stroke="#000" stroke-width="0.21">SEHER</text>
<text transform="translate(1349.7,774.2) scale(0.976,1)" font-size="5.2" stroke="#000" stroke-width="0.16">HALIL</text>
<text transform="translate(1349.8,785.6) scale(0.994,1)" font-size="7.0" stroke="#000" stroke-width="0.20">SENA</text>
<text transform="translate(1229.6,789.3) scale(1.027,1)" font-size="12.3" stroke="#000" stroke-width="0.31">SU</text>
<text transform="translate(1232.5,795.4) scale(1.089,1)" font-size="4.9" stroke="#000" stroke-width="0.15">TAHA</text>
<text transform="translate(1229.9,805.7) scale(0.953,1)" font-size="6.3" stroke="#000" stroke-width="0.18">YIĞIT</text>
<text transform="translate(1223.9,819.4) scale(1.177,1)" font-size="4.5" stroke="#000" stroke-width="0.15">METEHAN</text>
<text transform="translate(1224.9,837.9) scale(0.965,1)" font-size="10.1" stroke="#000" stroke-width="0.27">YÜSRA</text>
<text transform="translate(1229.7,843.9) scale(1.042,1)" font-size="4.5" stroke="#000" stroke-width="0.15">ELIF</text>
<text transform="translate(1245.9,843.9) scale(1.240,1)" font-size="4.5" stroke="#000" stroke-width="0.15">KAAN</text>
<text transform="translate(1360.2,802.6) rotate(90) scale(0.854,1)" font-size="19.3" stroke="#000" stroke-width="0.46">ALYA</text>
<text transform="translate(1223.4,874.2) scale(1.073,1)" font-size="36.6" stroke="#000" stroke-width="0.59">DEFNE</text>
<text transform="translate(1360.3,874.9) scale(0.871,1)" font-size="7.7" stroke="#000" stroke-width="0.21">ELIF</text>
<text transform="translate(1224.8,896.8) scale(1.035,1)" font-size="13.3" stroke="#000" stroke-width="0.33">YÜSRA</text>
<text transform="translate(1280.2,881.4) rotate(90) scale(0.914,1)" font-size="15.8" stroke="#000" stroke-width="0.39">ALYA</text>
<text transform="translate(1320.2,886.1) scale(1.078,1)" font-size="7.7" stroke="#000" stroke-width="0.21">MEHMETHAN</text>
<text transform="translate(1332.3,906.0) scale(0.906,1)" font-size="22.8" stroke="#000" stroke-width="0.54">EFE</text>
<text transform="translate(1300.7,907.9) scale(0.943,1)" font-size="8.4" stroke="#000" stroke-width="0.23">YÜSRA</text>
<text transform="translate(1301.2,916.1) scale(1.078,1)" font-size="7.0" stroke="#000" stroke-width="0.20">TAHA</text>
<text transform="translate(1329.9,916.1) scale(1.058,1)" font-size="8.0" stroke="#000" stroke-width="0.22">KAAN</text>
<text transform="translate(1300.0,887.9) scale(0.921,1)" font-size="4.9" stroke="#000" stroke-width="0.15">ATLAS</text>
<text transform="translate(1300.1,893.9) scale(1.094,1)" font-size="4.5" stroke="#000" stroke-width="0.15">ALYA</text>
<text transform="translate(1263.8,907.4) scale(1.112,1)" font-size="4.2" stroke="#000" stroke-width="0.14">ARAS</text>
<text transform="translate(1248.4,913.7) scale(1.264,1)" font-size="4.2" stroke="#000" stroke-width="0.14">METEHAN</text>
<text transform="translate(240.0,966.1) scale(0.912,1)" font-size="8.7" stroke="#000" stroke-width="0.24">HALIL</text>
<text transform="translate(224.4,965.7) rotate(90) scale(0.850,1)" font-size="9.8" stroke="#000" stroke-width="0.26">MEHMETHAN</text>
<text transform="translate(232.2,983.6) scale(1.023,1)" font-size="8.0" stroke="#000" stroke-width="0.22">GÖKAY</text>
<text transform="translate(232.6,995.3) scale(0.944,1)" font-size="13.0" stroke="#000" stroke-width="0.33">ARAS</text>
<text transform="translate(249.8,1016.0) scale(1.093,1)" font-size="20.0" stroke="#000" stroke-width="0.48">EDA</text>
<text transform="translate(232.4,1003.7) scale(0.850,1)" font-size="5.2" stroke="#000" stroke-width="0.16">SEHER</text>
<text transform="translate(300.1,1006.1) scale(0.849,1)" font-size="8.7" stroke="#000" stroke-width="0.24">ALYA</text>
<text transform="translate(330.5,1003.7) scale(0.852,1)" font-size="5.2" stroke="#000" stroke-width="0.16">ARAS</text>
<text transform="translate(307.8,1017.9) scale(0.895,1)" font-size="7.7" stroke="#000" stroke-width="0.21">SEHER</text>
<text transform="translate(337.1,1017.8) scale(0.956,1)" font-size="13.0" stroke="#000" stroke-width="0.33">ATLAS</text>
<text transform="translate(364.0,1000.4) scale(0.851,1)" font-size="8.4" stroke="#000" stroke-width="0.23">DEFNE</text>
<text transform="translate(347.9,999.9) scale(1.055,1)" font-size="5.2" stroke="#000" stroke-width="0.16">KAAN</text>
<text transform="translate(359.8,977.9) scale(0.914,1)" font-size="7.7" stroke="#000" stroke-width="0.21">SEHER</text>
<text transform="translate(360.0,957.4) scale(0.887,1)" font-size="5.2" stroke="#000" stroke-width="0.16">ARAS</text>
<text transform="translate(240.1,1026.1) scale(0.823,1)" font-size="8.0" stroke="#000" stroke-width="0.22">EDA</text>
<text transform="translate(240.1,1046.1) scale(0.823,1)" font-size="8.0" stroke="#000" stroke-width="0.22">EDA</text>
<text transform="translate(255.9,1044.2) scale(1.093,1)" font-size="27.4" stroke="#000" stroke-width="0.64">HALIL</text>
<text transform="translate(344.3,1050.2) scale(0.874,1)" font-size="24.6" stroke="#000" stroke-width="0.58">EFE</text>
<text transform="translate(252.2,1068.5) scale(1.060,1)" font-size="23.5" stroke="#000" stroke-width="0.55">ALYA</text>
<text transform="translate(224.2,1056.2) scale(1.016,1)" font-size="5.9" stroke="#000" stroke-width="0.18">YÜSRA</text>
<text transform="translate(223.7,1069.9) scale(1.058,1)" font-size="8.0" stroke="#000" stroke-width="0.22">KAAN</text>
<text transform="translate(240.0,1078.1) scale(0.992,1)" font-size="8.0" stroke="#000" stroke-width="0.22">HALIL</text>
<text transform="translate(240.6,1086.1) scale(0.893,1)" font-size="8.0" stroke="#000" stroke-width="0.22">ATLAS</text>
<text transform="translate(223.7,1097.9) scale(1.037,1)" font-size="7.7" stroke="#000" stroke-width="0.21">HALIL</text>
<text transform="translate(252.3,1097.9) scale(0.956,1)" font-size="7.7" stroke="#000" stroke-width="0.21">SU</text>
<text transform="translate(242.6,1106.1) scale(0.897,1)" font-size="8.0" stroke="#000" stroke-width="0.22">ALYA</text>
<text transform="translate(239.9,1117.9) scale(0.838,1)" font-size="10.1" stroke="#000" stroke-width="0.27">EFE</text>
<text transform="translate(239.8,1127.9) scale(0.928,1)" font-size="10.5" stroke="#000" stroke-width="0.27">EDA</text>
<text transform="translate(224.3,1141.9) scale(0.936,1)" font-size="10.5" stroke="#000" stroke-width="0.27">ARAS</text>
<text transform="translate(242.0,1149.9) scale(1.030,1)" font-size="7.0" stroke="#000" stroke-width="0.20">ELIF</text>
<text transform="translate(264.0,1149.9) scale(1.049,1)" font-size="7.7" stroke="#000" stroke-width="0.21">HALIL</text>
<text transform="translate(320.7,1059.4) scale(0.960,1)" font-size="5.2" stroke="#000" stroke-width="0.16">TAHA</text>
<text transform="translate(336.2,1059.4) scale(0.979,1)" font-size="5.2" stroke="#000" stroke-width="0.16">TAHA</text>
<text transform="translate(324.0,1067.4) scale(0.985,1)" font-size="6.3" stroke="#000" stroke-width="0.18">GÖKAY</text>
<text transform="translate(352.8,1057.7) rotate(90) scale(0.935,1)" font-size="28.8" stroke="#000" stroke-width="0.67">ELIF</text>
<text transform="translate(377.7,1064.8) rotate(90) scale(0.963,1)" font-size="14.0" stroke="#000" stroke-width="0.35">TAHA</text>
<text transform="translate(360.0,1135.6) scale(1.154,1)" font-size="9.8" stroke="#000" stroke-width="0.26">KAAN</text>
<text transform="translate(360.4,1149.4) scale(1.039,1)" font-size="11.6" stroke="#000" stroke-width="0.30">SU</text>
<text transform="translate(299.7,1157.4) scale(1.089,1)" font-size="7.7" stroke="#000" stroke-width="0.21">GÖKAY</text>
<text transform="translate(339.5,1167.4) scale(1.136,1)" font-size="11.2" stroke="#000" stroke-width="0.29">GÖKAY</text>
<text transform="translate(289.7,1176.5) scale(1.026,1)" font-size="21.8" stroke="#000" stroke-width="0.52">ELIF</text>
<text transform="translate(342.3,1179.4) scale(0.888,1)" font-size="11.6" stroke="#000" stroke-width="0.30">EFE</text>
<text transform="translate(276.3,1167.9) scale(0.927,1)" font-size="5.2" stroke="#000" stroke-width="0.16">ALYA</text>
<text transform="translate(257.2,1152.4) rotate(90) scale(0.938,1)" font-size="21.1" stroke="#000" stroke-width="0.50">DEFNE</text>
<text transform="translate(225.2,1177.3) rotate(90) scale(1.102,1)" font-size="12.3" stroke="#000" stroke-width="0.31">YIĞIT</text>
<text transform="translate(240.2,1203.5) rotate(90) scale(0.925,1)" font-size="19.3" stroke="#000" stroke-width="0.46">TAHA</text>
<text transform="translate(240.1,1197.9) scale(0.843,1)" font-size="7.7" stroke="#000" stroke-width="0.21">EFE</text>
<text transform="translate(295.5,1200.2) scale(1.008,1)" font-size="21.8" stroke="#000" stroke-width="0.52">SENA</text>
<text transform="translate(360.5,1195.4) scale(0.963,1)" font-size="9.4" stroke="#000" stroke-width="0.25">SU</text>
<text transform="translate(373.4,1191.9) scale(0.977,1)" font-size="5.2" stroke="#000" stroke-width="0.16">EMRE</text>
<text transform="translate(288.1,1213.6) scale(1.018,1)" font-size="9.4" stroke="#000" stroke-width="0.25">EDA</text>
<text transform="translate(344.0,1209.9) scale(0.935,1)" font-size="7.0" stroke="#000" stroke-width="0.20">SÜLEYMAN</text>
<text transform="translate(328.2,1213.2) scale(1.053,1)" font-size="5.2" stroke="#000" stroke-width="0.16">YIĞIT</text>
<text transform="translate(360.0,1233.6) scale(0.961,1)" font-size="12.3" stroke="#000" stroke-width="0.31">ELIF</text>
<text transform="translate(227.2,1229.9) scale(1.133,1)" font-size="7.7" stroke="#000" stroke-width="0.21">SU</text>
<text transform="translate(223.8,1285.4) scale(1.083,1)" font-size="7.0" stroke="#000" stroke-width="0.20">ELIF</text>
<text transform="translate(239.5,1285.4) scale(1.090,1)" font-size="7.0" stroke="#000" stroke-width="0.20">EMRE</text>
<text transform="translate(377.7,1260.4) rotate(90) scale(0.926,1)" font-size="14.0" stroke="#000" stroke-width="0.35">HALIL</text>
<text transform="translate(240.1,1289.9) rotate(90) scale(0.967,1)" font-size="10.5" stroke="#000" stroke-width="0.27">YÜSRA</text>
<text transform="translate(251.6,1314.1) scale(1.024,1)" font-size="13.0" stroke="#000" stroke-width="0.33">SÜLEYMAN</text>
<text transform="translate(252.2,1299.9) scale(1.028,1)" font-size="5.2" stroke="#000" stroke-width="0.16">METEHAN</text>
<text transform="translate(287.9,1299.9) scale(1.055,1)" font-size="5.2" stroke="#000" stroke-width="0.16">KAAN</text>
<text transform="translate(342.0,1301.6) scale(0.894,1)" font-size="7.7" stroke="#000" stroke-width="0.21">EDA</text>
<text transform="translate(342.0,1319.9) scale(0.855,1)" font-size="8.0" stroke="#000" stroke-width="0.22">EDA</text>
<text transform="translate(300.1,1329.8) scale(0.953,1)" font-size="12.3" stroke="#000" stroke-width="0.31">SEHER</text>
<text transform="translate(360.4,1329.4) scale(1.039,1)" font-size="11.6" stroke="#000" stroke-width="0.30">SU</text>
<text transform="translate(239.9,1173.7) scale(0.886,1)" font-size="5.2" stroke="#000" stroke-width="0.16">SENA</text>
<text transform="translate(240.1,1179.4) scale(1.026,1)" font-size="4.5" stroke="#000" stroke-width="0.15">ARAS</text>
<text transform="translate(376.1,1251.9) scale(0.886,1)" font-size="5.2" stroke="#000" stroke-width="0.16">SENA</text>
<text transform="translate(363.4,1249.9) scale(0.949,1)" font-size="5.2" stroke="#000" stroke-width="0.16">ELIF</text>
<text transform="translate(360.0,1263.7) scale(0.905,1)" font-size="5.2" stroke="#000" stroke-width="0.16">ATLAS</text>
<text transform="translate(359.9,1281.7) scale(0.850,1)" font-size="5.2" stroke="#000" stroke-width="0.16">SEHER</text>
<text transform="translate(359.7,1299.4) scale(1.128,1)" font-size="4.5" stroke="#000" stroke-width="0.15">HALIL</text>
<text transform="translate(359.9,1311.2) scale(1.024,1)" font-size="4.5" stroke="#000" stroke-width="0.15">SENA</text>
<text transform="translate(557.7,961.9) scale(0.973,1)" font-size="9.8" stroke="#000" stroke-width="0.26">SENA</text>
<text transform="translate(563.5,946.1) scale(0.938,1)" font-size="7.0" stroke="#000" stroke-width="0.20">GÖKAY</text>
<text transform="translate(576.0,1229.4) scale(0.994,1)" font-size="7.0" stroke="#000" stroke-width="0.20">SENA</text>
<text transform="translate(572.2,1235.7) scale(1.165,1)" font-size="4.5" stroke="#000" stroke-width="0.15">METEHAN</text>
<text transform="translate(573.7,1251.6) scale(1.062,1)" font-size="7.7" stroke="#000" stroke-width="0.21">HALIL</text>
<text transform="translate(544.6,1333.6) scale(0.923,1)" font-size="7.7" stroke="#000" stroke-width="0.21">ATLAS</text>
<text transform="translate(650.1,977.3) scale(0.910,1)" font-size="19.3" stroke="#000" stroke-width="0.46">EFE</text>
<text transform="translate(661.1,990.7) rotate(90) scale(0.840,1)" font-size="30.6" stroke="#000" stroke-width="0.70">EFE</text>
<text transform="translate(650.1,1000.2) rotate(90) scale(0.885,1)" font-size="8.7" stroke="#000" stroke-width="0.24">METEHAN</text>
<text transform="translate(649.8,985.7) scale(1.055,1)" font-size="6.3" stroke="#000" stroke-width="0.18">SÜLEYMAN</text>
<text transform="translate(697.1,996.1) scale(0.930,1)" font-size="13.0" stroke="#000" stroke-width="0.33">ALYA</text>
<text transform="translate(690.0,1005.4) scale(1.062,1)" font-size="7.7" stroke="#000" stroke-width="0.21">HALIL</text>
<text transform="translate(689.8,1025.6) scale(0.958,1)" font-size="7.3" stroke="#000" stroke-width="0.21">SEHER</text>
<text transform="translate(701.7,1011.7) scale(1.085,1)" font-size="4.9" stroke="#000" stroke-width="0.15">HALIL</text>
<text transform="translate(702.6,1017.4) scale(0.992,1)" font-size="4.5" stroke="#000" stroke-width="0.15">ATLAS</text>
<text transform="translate(599.7,1046.1) scale(0.959,1)" font-size="10.5" stroke="#000" stroke-width="0.27">SU</text>
<text transform="translate(600.1,1049.8) rotate(90) scale(1.033,1)" font-size="6.3" stroke="#000" stroke-width="0.18">SÜLEYMAN</text>
<text transform="translate(599.4,1106.1) scale(1.086,1)" font-size="7.7" stroke="#000" stroke-width="0.21">HALIL</text>
<text transform="translate(600.1,1123.5) scale(0.986,1)" font-size="16.5" stroke="#000" stroke-width="0.40">EDA</text>
<text transform="translate(882.2,1009.0) rotate(90) scale(0.935,1)" font-size="15.4" stroke="#000" stroke-width="0.38">DEFNE</text>
<text transform="translate(895.6,1039.0) scale(1.026,1)" font-size="19.0" stroke="#000" stroke-width="0.45">SENA</text>
<text transform="translate(909.7,1017.9) scale(1.127,1)" font-size="9.4" stroke="#000" stroke-width="0.25">SU</text>
<text transform="translate(864.1,1031.9) scale(0.919,1)" font-size="7.3" stroke="#000" stroke-width="0.21">EDA</text>
<text transform="translate(864.1,1011.7) scale(1.055,1)" font-size="5.2" stroke="#000" stroke-width="0.16">KAAN</text>
<text transform="translate(800.2,1114.2) scale(1.064,1)" font-size="28.1" stroke="#000" stroke-width="0.65">ALYA</text>
<text transform="translate(879.8,1116.0) scale(1.133,1)" font-size="19.3" stroke="#000" stroke-width="0.46">EDA</text>
<text transform="translate(928.3,1116.0) scale(0.889,1)" font-size="19.3" stroke="#000" stroke-width="0.46">EFE</text>
<text transform="translate(805.8,1128.6) scale(1.002,1)" font-size="14.0" stroke="#000" stroke-width="0.35">SEHER</text>
<text transform="translate(888.3,1097.9) scale(0.939,1)" font-size="7.7" stroke="#000" stroke-width="0.21">DEFNE</text>
<text transform="translate(944.2,1087.4) scale(1.165,1)" font-size="4.5" stroke="#000" stroke-width="0.15">METEHAN</text>
<text transform="translate(887.8,1142.4) scale(0.833,1)" font-size="7.7" stroke="#000" stroke-width="0.21">GÖKAY</text>
<text transform="translate(884.9,1150.4) scale(0.920,1)" font-size="8.4" stroke="#000" stroke-width="0.23">TAHA</text>
<text transform="translate(896.0,1157.9) scale(0.895,1)" font-size="7.7" stroke="#000" stroke-width="0.21">SEHER</text>
<text transform="translate(871.1,1171.1) scale(1.059,1)" font-size="11.2" stroke="#000" stroke-width="0.29">YIĞIT</text>
<text transform="translate(896.1,1131.9) scale(1.154,1)" font-size="3.8" stroke="#000" stroke-width="0.13">SÜLEYMAN</text>
<text transform="translate(619.6,1131.9) scale(1.079,1)" font-size="5.2" stroke="#000" stroke-width="0.16">MEHMETHAN</text>
<text transform="translate(623.9,1141.9) scale(1.008,1)" font-size="9.8" stroke="#000" stroke-width="0.26">SU</text>
<text transform="translate(658.8,1141.9) scale(0.932,1)" font-size="10.5" stroke="#000" stroke-width="0.27">ALYA</text>
<text transform="translate(623.8,1149.9) scale(0.984,1)" font-size="7.7" stroke="#000" stroke-width="0.21">ELIF</text>
<text transform="translate(647.8,1149.9) scale(1.007,1)" font-size="7.7" stroke="#000" stroke-width="0.21">SU</text>
<text transform="translate(660.2,1149.9) scale(1.025,1)" font-size="7.7" stroke="#000" stroke-width="0.21">HALIL</text>
<text transform="translate(612.6,1163.6) scale(0.962,1)" font-size="10.5" stroke="#000" stroke-width="0.27">ALYA</text>
<text transform="translate(640.6,1166.0) scale(1.040,1)" font-size="18.3" stroke="#000" stroke-width="0.44">SENA</text>
<text transform="translate(738.8,1159.9) scale(0.999,1)" font-size="9.8" stroke="#000" stroke-width="0.26">ALYA</text>
<text transform="translate(601.0,1177.9) scale(0.960,1)" font-size="9.4" stroke="#000" stroke-width="0.25">SENA</text>
<text transform="translate(726.3,1179.3) scale(1.037,1)" font-size="16.8" stroke="#000" stroke-width="0.41">EMRE</text>
<text transform="translate(631.4,1196.0) scale(1.095,1)" font-size="24.6" stroke="#000" stroke-width="0.58">ATLAS</text>
<text transform="translate(611.9,1194.9) scale(0.886,1)" font-size="9.4" stroke="#000" stroke-width="0.25">EFE</text>
<text transform="translate(599.5,1185.4) scale(0.984,1)" font-size="7.0" stroke="#000" stroke-width="0.20">EDA</text>
<text transform="translate(731.8,1193.6) scale(1.007,1)" font-size="7.7" stroke="#000" stroke-width="0.21">SU</text>
<text transform="translate(744.3,1193.2) scale(1.136,1)" font-size="5.6" stroke="#000" stroke-width="0.17">GÖKAY</text>
<text transform="translate(601.0,1247.4) scale(0.971,1)" font-size="65.2" stroke="#000" stroke-width="0.15">ATLAS</text>
<text transform="translate(798.1,1225.6) scale(1.106,1)" font-size="8.7" stroke="#000" stroke-width="0.24">ELIF</text>
<text transform="translate(798.0,1239.9) scale(1.154,1)" font-size="9.8" stroke="#000" stroke-width="0.26">KAAN</text>
<text transform="translate(832.6,1239.9) scale(1.031,1)" font-size="9.8" stroke="#000" stroke-width="0.26">ALYA</text>
<text transform="translate(860.0,1251.1) scale(1.105,1)" font-size="14.0" stroke="#000" stroke-width="0.35">SU</text>
<text transform="translate(828.3,1247.9) scale(1.052,1)" font-size="7.0" stroke="#000" stroke-width="0.20">EMRE</text>
<text transform="translate(800.7,1270.9) scale(0.914,1)" font-size="28.1" stroke="#000" stroke-width="0.65">EFE</text>
<text transform="translate(870.6,1274.0) scale(1.115,1)" font-size="18.3" stroke="#000" stroke-width="0.44">SU</text>
<text transform="translate(900.2,1264.3) scale(1.244,1)" font-size="14.0" stroke="#000" stroke-width="0.35">SÜLEYMAN</text>
<text transform="translate(983.3,1246.1) scale(0.878,1)" font-size="7.7" stroke="#000" stroke-width="0.21">EFE</text>
<text transform="translate(630.7,1272.3) scale(1.131,1)" font-size="14.7" stroke="#000" stroke-width="0.36">SENA</text>
<text transform="translate(684.6,1267.9) scale(0.950,1)" font-size="10.1" stroke="#000" stroke-width="0.27">ARAS</text>
<text transform="translate(714.8,1276.0) scale(1.009,1)" font-size="21.1" stroke="#000" stroke-width="0.50">EDA</text>
<text transform="translate(640.9,1312.2) scale(0.998,1)" font-size="42.8" stroke="#000" stroke-width="0.57">SEHER</text>
<text transform="translate(616.2,1282.4) scale(0.996,1)" font-size="8.0" stroke="#000" stroke-width="0.22">TAHA</text>
<text transform="translate(616.3,1293.6) scale(0.913,1)" font-size="8.0" stroke="#000" stroke-width="0.22">ATLAS</text>
<text transform="translate(587.2,1317.8) scale(1.116,1)" font-size="20.0" stroke="#000" stroke-width="0.48">ELIF</text>
<text transform="translate(811.9,1281.9) scale(1.036,1)" font-size="8.0" stroke="#000" stroke-width="0.22">MEHMETHAN</text>
<text transform="translate(840.1,1297.9) scale(1.011,1)" font-size="9.4" stroke="#000" stroke-width="0.25">ELIF</text>
<text transform="translate(831.9,1312.3) scale(1.167,1)" font-size="15.8" stroke="#000" stroke-width="0.39">SU</text>
<text transform="translate(887.5,1313.6) scale(1.002,1)" font-size="8.0" stroke="#000" stroke-width="0.22">METEHAN</text>
<text transform="translate(936.0,1313.6) scale(0.963,1)" font-size="8.0" stroke="#000" stroke-width="0.22">SU</text>
<text transform="translate(947.8,1313.6) scale(0.910,1)" font-size="8.0" stroke="#000" stroke-width="0.22">ELIF</text>
<text transform="translate(846.2,1328.6) scale(1.256,1)" font-size="15.8" stroke="#000" stroke-width="0.39">KAAN</text>
<text transform="translate(910.3,1321.6) scale(0.790,1)" font-size="7.7" stroke="#000" stroke-width="0.21">EFE</text>
<text transform="translate(939.5,1326.8) scale(1.002,1)" font-size="14.0" stroke="#000" stroke-width="0.35">SEHER</text>
<text transform="translate(689.3,1331.1) scale(1.227,1)" font-size="14.0" stroke="#000" stroke-width="0.35">KAAN</text>
<text transform="translate(599.1,1339.8) scale(1.037,1)" font-size="12.3" stroke="#000" stroke-width="0.31">EMRE</text>
<text transform="translate(649.8,1331.9) scale(0.963,1)" font-size="8.0" stroke="#000" stroke-width="0.22">SU</text>
<text transform="translate(848.3,1341.6) scale(0.887,1)" font-size="7.7" stroke="#000" stroke-width="0.21">ELIF</text>
<text transform="translate(770.2,1347.4) scale(1.020,1)" font-size="7.7" stroke="#000" stroke-width="0.21">METEHAN</text>
<text transform="translate(712.4,1341.7) scale(0.977,1)" font-size="5.9" stroke="#000" stroke-width="0.18">YIĞIT</text>
<text transform="translate(792.2,1299.9) scale(0.976,1)" font-size="5.2" stroke="#000" stroke-width="0.16">HALIL</text>
<text transform="translate(792.5,1305.4) scale(1.089,1)" font-size="4.9" stroke="#000" stroke-width="0.15">TAHA</text>
<text transform="translate(792.1,1317.4) scale(1.283,1)" font-size="4.5" stroke="#000" stroke-width="0.15">KAAN</text>
<text transform="translate(792.6,1323.7) scale(0.937,1)" font-size="5.2" stroke="#000" stroke-width="0.16">ATLAS</text>
<text transform="translate(1225.3,905.2) rotate(90) scale(0.965,1)" font-size="26.7" stroke="#000" stroke-width="0.62">ATLAS</text>
<text transform="translate(1355.2,908.7) rotate(90) scale(0.941,1)" font-size="19.7" stroke="#000" stroke-width="0.47">EDA</text>
<text transform="translate(980.9,1099.9) scale(1.024,1)" font-size="9.8" stroke="#000" stroke-width="0.26">YIĞIT</text>
<text transform="translate(1229.9,998.6) scale(0.810,1)" font-size="10.5" stroke="#000" stroke-width="0.27">EFE</text>
<text transform="translate(1255.7,997.9) scale(1.107,1)" font-size="7.7" stroke="#000" stroke-width="0.21">KAAN</text>
<text transform="translate(1251.0,1017.3) scale(1.034,1)" font-size="17.6" stroke="#000" stroke-width="0.43">YÜSRA</text>
<text transform="translate(1320.3,1005.4) scale(0.955,1)" font-size="7.7" stroke="#000" stroke-width="0.21">EMRE</text>
<text transform="translate(1320.8,1017.9) scale(0.925,1)" font-size="7.7" stroke="#000" stroke-width="0.21">ALYA</text>
<text transform="translate(1344.2,1011.9) scale(1.008,1)" font-size="5.2" stroke="#000" stroke-width="0.16">METEHAN</text>
<text transform="translate(1239.8,1005.4) scale(1.007,1)" font-size="7.7" stroke="#000" stroke-width="0.21">SU</text>
<text transform="translate(1231.9,1016.2) scale(0.886,1)" font-size="5.2" stroke="#000" stroke-width="0.16">SENA</text>
<text transform="translate(1280.3,1035.3) scale(0.996,1)" font-size="14.7" stroke="#000" stroke-width="0.36">DEFNE</text>
<text transform="translate(1350.2,1031.9) scale(1.046,1)" font-size="8.0" stroke="#000" stroke-width="0.22">KAAN</text>
<text transform="translate(1241.7,1031.9) scale(1.011,1)" font-size="8.0" stroke="#000" stroke-width="0.22">SU</text>
<text transform="translate(1224.2,1035.7) scale(0.979,1)" font-size="5.2" stroke="#000" stroke-width="0.16">TAHA</text>
<text transform="translate(1223.8,1049.9) scale(0.925,1)" font-size="8.0" stroke="#000" stroke-width="0.22">EMRE</text>
<text transform="translate(1249.7,1057.4) scale(1.009,1)" font-size="9.4" stroke="#000" stroke-width="0.25">SENA</text>
<text transform="translate(1281.4,1053.5) scale(0.952,1)" font-size="17.6" stroke="#000" stroke-width="0.43">ARAS</text>
<text transform="translate(1332.7,1057.2) scale(1.178,1)" font-size="26.4" stroke="#000" stroke-width="0.61">SU</text>
<text transform="translate(1229.7,1059.2) scale(0.945,1)" font-size="5.2" stroke="#000" stroke-width="0.16">DEFNE</text>
<text transform="translate(1222.1,1076.1) scale(0.901,1)" font-size="13.0" stroke="#000" stroke-width="0.33">SEHER</text>
<text transform="translate(1274.6,1069.9) scale(0.897,1)" font-size="8.0" stroke="#000" stroke-width="0.22">ALYA</text>
<text transform="translate(1296.3,1069.9) scale(0.932,1)" font-size="10.5" stroke="#000" stroke-width="0.27">ATLAS</text>
<text transform="translate(1332.4,1067.4) scale(0.891,1)" font-size="6.3" stroke="#000" stroke-width="0.18">YIĞIT</text>
<text transform="translate(1352.6,1071.9) scale(0.897,1)" font-size="8.0" stroke="#000" stroke-width="0.22">ALYA</text>
<text transform="translate(1224.3,1096.1) scale(0.962,1)" font-size="10.5" stroke="#000" stroke-width="0.27">ALYA</text>
<text transform="translate(1232.3,1111.9) scale(0.864,1)" font-size="8.0" stroke="#000" stroke-width="0.22">SENA</text>
<text transform="translate(1224.3,1121.6) scale(0.941,1)" font-size="7.7" stroke="#000" stroke-width="0.21">ARAS</text>
<text transform="translate(1231.8,1142.4) scale(0.976,1)" font-size="11.2" stroke="#000" stroke-width="0.29">HALIL</text>
<text transform="translate(1350.3,1103.6) scale(0.929,1)" font-size="7.7" stroke="#000" stroke-width="0.21">DEFNE</text>
<text transform="translate(1350.7,1115.7) scale(0.906,1)" font-size="6.3" stroke="#000" stroke-width="0.18">YIĞIT</text>
<text transform="translate(1360.2,1120.1) rotate(90) scale(0.905,1)" font-size="19.3" stroke="#000" stroke-width="0.46">DEFNE</text>
<text transform="translate(1226.0,1164.8) scale(1.131,1)" font-size="15.8" stroke="#000" stroke-width="0.39">TAHA</text>
<text transform="translate(1281.3,1179.6) scale(0.963,1)" font-size="37.1" stroke="#000" stroke-width="0.75">EDA</text>
<text transform="translate(1230.3,1174.7) rotate(90) scale(0.923,1)" font-size="24.6" stroke="#000" stroke-width="0.58">TAHA</text>
<text transform="translate(1261.4,1177.0) rotate(90) scale(1.009,1)" font-size="12.3" stroke="#000" stroke-width="0.31">GÖKAY</text>
<text transform="translate(1278.0,1197.3) scale(0.968,1)" font-size="12.3" stroke="#000" stroke-width="0.31">EDA</text>
<text transform="translate(1313.7,1195.4) scale(0.901,1)" font-size="9.4" stroke="#000" stroke-width="0.25">EFE</text>
<text transform="translate(1280.3,1211.1) scale(1.046,1)" font-size="14.0" stroke="#000" stroke-width="0.35">DEFNE</text>
<text transform="translate(1332.1,1183.5) rotate(90) scale(0.873,1)" font-size="7.7" stroke="#000" stroke-width="0.21">SÜLEYMAN</text>
<text transform="translate(1341.8,1193.7) scale(1.008,1)" font-size="6.3" stroke="#000" stroke-width="0.18">GÖKAY</text>
<text transform="translate(1350.4,1211.1) scale(0.886,1)" font-size="14.0" stroke="#000" stroke-width="0.35">EFE</text>
<text transform="translate(1249.8,1215.6) scale(1.055,1)" font-size="7.3" stroke="#000" stroke-width="0.21">SU</text>
<text transform="translate(1360.4,1231.1) scale(0.903,1)" font-size="10.5" stroke="#000" stroke-width="0.27">SU</text>
<text transform="translate(1349.8,1235.6) scale(0.915,1)" font-size="8.0" stroke="#000" stroke-width="0.22">SU</text>
<text transform="translate(1349.7,1246.2) scale(1.008,1)" font-size="5.2" stroke="#000" stroke-width="0.16">METEHAN</text>
<text transform="translate(1350.2,1262.8) scale(1.023,1)" font-size="16.5" stroke="#000" stroke-width="0.40">SU</text>
<text transform="translate(1349.8,1275.7) scale(1.036,1)" font-size="5.2" stroke="#000" stroke-width="0.16">SU</text>
<text transform="translate(1360.2,1281.1) rotate(90) scale(0.998,1)" font-size="14.0" stroke="#000" stroke-width="0.35">YIĞIT</text>
<text transform="translate(1230.2,1262.6) rotate(90) scale(0.969,1)" font-size="21.1" stroke="#000" stroke-width="0.50">ARAS</text>
<text transform="translate(1301.5,1313.6) scale(0.943,1)" font-size="15.8" stroke="#000" stroke-width="0.39">ELIF</text>
<text transform="translate(1342.0,1305.4) scale(0.927,1)" font-size="8.7" stroke="#000" stroke-width="0.24">EFE</text>
<text transform="translate(1320.6,1329.8) scale(0.993,1)" font-size="13.3" stroke="#000" stroke-width="0.33">TAHA</text>
<text transform="translate(1332.8,1343.6) scale(1.054,1)" font-size="14.0" stroke="#000" stroke-width="0.35">EMRE</text>
<text transform="translate(1273.9,1331.9) scale(1.046,1)" font-size="8.0" stroke="#000" stroke-width="0.22">KAAN</text>
<text transform="translate(1279.8,1323.7) scale(1.110,1)" font-size="5.2" stroke="#000" stroke-width="0.16">SU</text>
<text transform="translate(1289.7,1324.2) scale(0.906,1)" font-size="5.9" stroke="#000" stroke-width="0.18">METEHAN</text>
<text transform="translate(1277.1,1347.4) scale(0.925,1)" font-size="7.0" stroke="#000" stroke-width="0.20">DEFNE</text>
<text transform="translate(1224.0,1338.2) scale(0.997,1)" font-size="6.3" stroke="#000" stroke-width="0.18">GÖKAY</text>
<text transform="translate(1229.7,1323.7) scale(1.093,1)" font-size="4.5" stroke="#000" stroke-width="0.15">DEFNE</text>
<text transform="translate(1280.0,1313.7) scale(0.905,1)" font-size="5.2" stroke="#000" stroke-width="0.16">ATLAS</text>
<text transform="translate(1276.0,1307.4) scale(0.959,1)" font-size="4.5" stroke="#000" stroke-width="0.15">ELIF</text>
<text transform="translate(1295.9,1335.4) scale(1.081,1)" font-size="4.9" stroke="#000" stroke-width="0.15">METEHAN</text>
<text transform="translate(281.4,1316.0) rotate(90) scale(0.815,1)" font-size="10.5" stroke="#000" stroke-width="0.27">SÜLEYMAN</text>
<text transform="translate(232.1,1354.2) scale(0.923,1)" font-size="25.7" stroke="#000" stroke-width="0.60">EFE</text>
<text transform="translate(296.0,1354.2) scale(1.057,1)" font-size="23.9" stroke="#000" stroke-width="0.56">GÖKAY</text>
<text transform="translate(321.6,1369.3) scale(0.978,1)" font-size="13.3" stroke="#000" stroke-width="0.33">TAHA</text>
<text transform="translate(294.4,1364.2) scale(0.873,1)" font-size="7.0" stroke="#000" stroke-width="0.20">YÜSRA</text>
<text transform="translate(360.3,1365.4) scale(0.825,1)" font-size="7.7" stroke="#000" stroke-width="0.21">EFE</text>
<text transform="translate(360.6,1377.9) scale(0.965,1)" font-size="10.5" stroke="#000" stroke-width="0.27">YIĞIT</text>
<text transform="translate(239.6,1363.7) scale(1.086,1)" font-size="5.2" stroke="#000" stroke-width="0.16">MEHMETHAN</text>
<text transform="translate(239.6,1371.9) scale(1.086,1)" font-size="5.2" stroke="#000" stroke-width="0.16">MEHMETHAN</text>
<text transform="translate(223.8,1377.9) scale(0.942,1)" font-size="7.7" stroke="#000" stroke-width="0.21">EDA</text>
<text transform="translate(239.7,1383.7) scale(0.943,1)" font-size="5.2" stroke="#000" stroke-width="0.16">EMRE</text>
<text transform="translate(223.9,1361.9) scale(1.073,1)" font-size="5.2" stroke="#000" stroke-width="0.16">KAAN</text>
<text transform="translate(223.9,1409.8) scale(0.995,1)" font-size="12.3" stroke="#000" stroke-width="0.31">SU</text>
<text transform="translate(224.0,1424.8) scale(1.044,1)" font-size="14.0" stroke="#000" stroke-width="0.35">ELIF</text>
<text transform="translate(224.3,1436.9) scale(0.876,1)" font-size="11.6" stroke="#000" stroke-width="0.30">EFE</text>
<text transform="translate(252.6,1446.1) scale(0.893,1)" font-size="8.0" stroke="#000" stroke-width="0.22">ATLAS</text>
<text transform="translate(239.7,1443.7) scale(0.956,1)" font-size="5.2" stroke="#000" stroke-width="0.16">EDA</text>
<text transform="translate(224.9,1459.8) scale(0.976,1)" font-size="12.3" stroke="#000" stroke-width="0.31">YÜSRA</text>
<text transform="translate(287.1,1465.3) scale(0.991,1)" font-size="12.3" stroke="#000" stroke-width="0.31">ATLAS</text>
<text transform="translate(270.7,1463.7) scale(1.108,1)" font-size="5.2" stroke="#000" stroke-width="0.16">YIĞIT</text>
<text transform="translate(348.0,1464.8) scale(1.118,1)" font-size="19.3" stroke="#000" stroke-width="0.46">METEHAN</text>
<text transform="translate(364.0,1447.9) scale(1.025,1)" font-size="7.7" stroke="#000" stroke-width="0.21">HALIL</text>
<text transform="translate(396.3,1447.4) scale(0.989,1)" font-size="10.5" stroke="#000" stroke-width="0.27">HALIL</text>
<text transform="translate(432.9,1447.4) scale(0.992,1)" font-size="10.5" stroke="#000" stroke-width="0.27">TAHA</text>
<text transform="translate(363.8,1437.4) scale(1.008,1)" font-size="9.8" stroke="#000" stroke-width="0.26">DEFNE</text>
<text transform="translate(360.5,1427.9) scale(0.912,1)" font-size="10.1" stroke="#000" stroke-width="0.27">SENA</text>
<text transform="translate(360.3,1415.7) scale(0.930,1)" font-size="7.0" stroke="#000" stroke-width="0.20">EDA</text>
<text transform="translate(360.3,1397.9) scale(0.825,1)" font-size="7.7" stroke="#000" stroke-width="0.21">EFE</text>
<text transform="translate(373.4,1389.4) scale(1.283,1)" font-size="4.5" stroke="#000" stroke-width="0.15">KAAN</text>
<text transform="translate(363.4,1407.4) scale(1.169,1)" font-size="4.5" stroke="#000" stroke-width="0.15">HALIL</text>
<text transform="translate(482.2,1464.6) scale(1.033,1)" font-size="31.6" stroke="#000" stroke-width="0.72">ALYA</text>
<text transform="translate(459.5,1465.4) scale(1.037,1)" font-size="7.0" stroke="#000" stroke-width="0.20">EDA</text>
<text transform="translate(572.3,1461.7) scale(0.933,1)" font-size="6.6" stroke="#000" stroke-width="0.19">GÖKAY</text>
<text transform="translate(572.6,1353.4) rotate(90) scale(0.935,1)" font-size="10.5" stroke="#000" stroke-width="0.27">GÖKAY</text>
<text transform="translate(574.0,1349.9) scale(1.007,1)" font-size="7.7" stroke="#000" stroke-width="0.21">SU</text>
<text transform="translate(224.2,1325.7) scale(1.071,1)" font-size="5.2" stroke="#000" stroke-width="0.16">YIĞIT</text>
<text transform="translate(252.2,1323.7) scale(0.836,1)" font-size="5.2" stroke="#000" stroke-width="0.16">EDA</text>
<text transform="translate(263.6,1323.7) scale(0.886,1)" font-size="5.2" stroke="#000" stroke-width="0.16">SENA</text>
<text transform="translate(660.4,1325.2) rotate(90) scale(0.945,1)" font-size="33.4" stroke="#000" stroke-width="0.76">ARAS</text>
<text transform="translate(640.2,1358.6) rotate(90) scale(0.978,1)" font-size="21.1" stroke="#000" stroke-width="0.50">EMRE</text>
<text transform="translate(696.4,1332.3) rotate(90) scale(1.101,1)" font-size="14.0" stroke="#000" stroke-width="0.35">YIĞIT</text>
<text transform="translate(688.9,1376.6) rotate(90) scale(1.104,1)" font-size="12.3" stroke="#000" stroke-width="0.31">KAAN</text>
<text transform="translate(721.4,1359.8) rotate(90) scale(1.164,1)" font-size="14.0" stroke="#000" stroke-width="0.35">YÜSRA</text>
<text transform="translate(737.1,1362.1) rotate(90) scale(0.795,1)" font-size="7.0" stroke="#000" stroke-width="0.20">MEHMETHAN</text>
<text transform="translate(771.6,1363.1) rotate(90) scale(0.850,1)" font-size="33.4" stroke="#000" stroke-width="0.76">EFE</text>
<text transform="translate(816.5,1292.8) rotate(90) scale(1.047,1)" font-size="17.6" stroke="#000" stroke-width="0.43">METEHAN</text>
<text transform="translate(800.1,1362.0) rotate(90) scale(0.873,1)" font-size="8.7" stroke="#000" stroke-width="0.24">METEHAN</text>
<text transform="translate(631.3,1349.2) scale(1.010,1)" font-size="6.6" stroke="#000" stroke-width="0.19">ALYA</text>
<text transform="translate(624.5,1357.4) scale(1.069,1)" font-size="7.7" stroke="#000" stroke-width="0.21">KAAN</text>
<text transform="translate(597.6,1374.8) scale(1.010,1)" font-size="13.3" stroke="#000" stroke-width="0.33">ARAS</text>
<text transform="translate(599.6,1389.9) scale(1.182,1)" font-size="8.7" stroke="#000" stroke-width="0.24">GÖKAY</text>
<text transform="translate(616.9,1407.4) scale(1.004,1)" font-size="7.7" stroke="#000" stroke-width="0.21">YIĞIT</text>
<text transform="translate(714.4,1351.6) scale(0.951,1)" font-size="8.4" stroke="#000" stroke-width="0.23">YÜSRA</text>
<text transform="translate(780.6,1357.9) scale(0.972,1)" font-size="10.1" stroke="#000" stroke-width="0.27">ATLAS</text>
<text transform="translate(850.0,1359.3) scale(0.968,1)" font-size="12.3" stroke="#000" stroke-width="0.31">EDA</text>
<text transform="translate(888.0,1351.7) scale(1.158,1)" font-size="25.7" stroke="#000" stroke-width="0.60">HALIL</text>
<text transform="translate(881.4,1372.8) scale(1.039,1)" font-size="16.5" stroke="#000" stroke-width="0.40">ATLAS</text>
<text transform="translate(937.3,1377.3) scale(0.978,1)" font-size="13.3" stroke="#000" stroke-width="0.33">TAHA</text>
<text transform="translate(910.5,1383.6) scale(0.903,1)" font-size="7.7" stroke="#000" stroke-width="0.21">SENA</text>
<text transform="translate(910.3,1391.6) scale(0.877,1)" font-size="7.7" stroke="#000" stroke-width="0.21">EDA</text>
<text transform="translate(928.3,1402.8) scale(1.162,1)" font-size="14.7" stroke="#000" stroke-width="0.36">KAAN</text>
<text transform="translate(917.8,1409.9) scale(1.007,1)" font-size="7.7" stroke="#000" stroke-width="0.21">SU</text>
<text transform="translate(840.0,1389.9) scale(1.037,1)" font-size="7.7" stroke="#000" stroke-width="0.21">HALIL</text>
<text transform="translate(808.1,1399.4) scale(0.909,1)" font-size="10.5" stroke="#000" stroke-width="0.27">ELIF</text>
<text transform="translate(840.0,1397.9) scale(0.968,1)" font-size="7.7" stroke="#000" stroke-width="0.21">ELIF</text>
<text transform="translate(832.9,1405.4) scale(1.004,1)" font-size="7.7" stroke="#000" stroke-width="0.21">TAHA</text>
<text transform="translate(798.1,1417.4) scale(1.015,1)" font-size="4.5" stroke="#000" stroke-width="0.15">SEHER</text>
<text transform="translate(642.7,1463.4) scale(1.041,1)" font-size="29.9" stroke="#000" stroke-width="0.69">ARAS</text>
<text transform="translate(802.2,1463.4) scale(1.047,1)" font-size="29.9" stroke="#000" stroke-width="0.69">ARAS</text>
<text transform="translate(751.1,1451.1) scale(1.068,1)" font-size="11.2" stroke="#000" stroke-width="0.29">YÜSRA</text>
<text transform="translate(754.9,1465.4) scale(0.933,1)" font-size="10.5" stroke="#000" stroke-width="0.27">YÜSRA</text>
<text transform="translate(738.3,1463.6) scale(0.861,1)" font-size="7.7" stroke="#000" stroke-width="0.21">EDA</text>
<text transform="translate(732.0,1455.4) scale(1.030,1)" font-size="4.9" stroke="#000" stroke-width="0.15">TAHA</text>
<text transform="translate(605.9,1447.9) scale(1.087,1)" font-size="10.1" stroke="#000" stroke-width="0.27">SU</text>
<text transform="translate(601.1,1459.9) scale(0.898,1)" font-size="10.5" stroke="#000" stroke-width="0.27">YÜSRA</text>
<text transform="translate(927.9,1464.3) scale(1.232,1)" font-size="18.6" stroke="#000" stroke-width="0.45">KAAN</text>
<text transform="translate(904.0,1445.6) scale(0.888,1)" font-size="8.0" stroke="#000" stroke-width="0.22">DEFNE</text>
<text transform="translate(930.4,1447.4) scale(1.042,1)" font-size="7.7" stroke="#000" stroke-width="0.21">YIĞIT</text>
<text transform="translate(972.6,1447.4) scale(0.854,1)" font-size="10.5" stroke="#000" stroke-width="0.27">ATLAS</text>
<text transform="translate(896.3,1459.4) scale(1.139,1)" font-size="4.5" stroke="#000" stroke-width="0.15">ALYA</text>
<text transform="translate(1251.1,1300.2) rotate(90) scale(1.048,1)" font-size="27.1" stroke="#000" stroke-width="0.63">ALYA</text>
<text transform="translate(1231.5,1381.9) rotate(90) scale(0.879,1)" font-size="21.1" stroke="#000" stroke-width="0.50">SENA</text>
<text transform="translate(1232.3,1377.9) scale(0.879,1)" font-size="7.7" stroke="#000" stroke-width="0.21">SENA</text>
<text transform="translate(1289.3,1357.9) scale(0.985,1)" font-size="10.1" stroke="#000" stroke-width="0.27">EDA</text>
<text transform="translate(1280.4,1369.9) scale(0.946,1)" font-size="10.5" stroke="#000" stroke-width="0.27">YIĞIT</text>
<text transform="translate(1320.2,1361.6) scale(1.069,1)" font-size="7.7" stroke="#000" stroke-width="0.21">KAAN</text>
<text transform="translate(1350.7,1356.1) scale(1.029,1)" font-size="7.7" stroke="#000" stroke-width="0.21">TAHA</text>
<text transform="translate(1350.8,1385.6) scale(0.903,1)" font-size="8.0" stroke="#000" stroke-width="0.22">ATLAS</text>
<text transform="translate(1350.7,1373.7) scale(0.960,1)" font-size="5.9" stroke="#000" stroke-width="0.18">YIĞIT</text>
<text transform="translate(1352.3,1437.9) scale(0.956,1)" font-size="7.7" stroke="#000" stroke-width="0.21">SU</text>
<text transform="translate(1350.7,1445.7) scale(1.090,1)" font-size="5.2" stroke="#000" stroke-width="0.16">YIĞIT</text>
<text transform="translate(1350.7,1456.2) scale(0.852,1)" font-size="7.0" stroke="#000" stroke-width="0.20">YÜSRA</text>
<text transform="translate(1008.8,1379.4) scale(0.994,1)" font-size="9.8" stroke="#000" stroke-width="0.26">ARAS</text>
<text transform="translate(1008.4,1347.9) scale(1.131,1)" font-size="4.9" stroke="#000" stroke-width="0.15">KAAN</text>
<text transform="translate(1123.4,1464.7) scale(0.964,1)" font-size="26.4" stroke="#000" stroke-width="0.61">YÜSRA</text>
<text transform="translate(1043.8,1464.3) scale(1.019,1)" font-size="20.4" stroke="#000" stroke-width="0.48">SU</text>
<text transform="translate(999.6,1459.8) scale(0.953,1)" font-size="12.3" stroke="#000" stroke-width="0.31">SEHER</text>
<text transform="translate(1044.2,1447.9) scale(1.032,1)" font-size="8.4" stroke="#000" stroke-width="0.23">SÜLEYMAN</text>
<text transform="translate(1102.1,1459.9) scale(1.037,1)" font-size="11.2" stroke="#000" stroke-width="0.29">SU</text>
<text transform="translate(1222.2,1465.4) scale(0.971,1)" font-size="11.2" stroke="#000" stroke-width="0.29">SÜLEYMAN</text>
<text transform="translate(1299.9,1465.3) scale(0.928,1)" font-size="13.0" stroke="#000" stroke-width="0.33">ELIF</text>
<text transform="translate(1239.7,1443.7) scale(0.945,1)" font-size="5.2" stroke="#000" stroke-width="0.16">DEFNE</text>
<text transform="translate(1239.6,1451.7) scale(1.151,1)" font-size="4.9" stroke="#000" stroke-width="0.15">KAAN</text>
<text transform="translate(1077.7,1459.4) scale(1.087,1)" font-size="4.5" stroke="#000" stroke-width="0.15">HALIL</text>
<text transform="translate(953.7,835.8) scale(1.081,1)" font-size="20.4" stroke="#000" stroke-width="0.48">YIĞIT</text>
<text transform="translate(960.1,852.3) scale(1.142,1)" font-size="15.4" stroke="#000" stroke-width="0.38">ATLAS</text>
<text transform="translate(969.8,867.9) scale(1.171,1)" font-size="11.2" stroke="#000" stroke-width="0.29">TAHA</text>
<text transform="translate(954.0,813.4) scale(0.717,1)" font-size="7.0" stroke="#000" stroke-width="0.20">ARAS</text>
<text transform="translate(970.7,813.4) scale(0.653,1)" font-size="7.0" stroke="#000" stroke-width="0.20">DEFNE</text>
<text transform="translate(989.9,813.4) scale(0.691,1)" font-size="7.0" stroke="#000" stroke-width="0.20">TAHA</text>
<text transform="translate(559.0,1276.5) scale(1.004,1)" font-size="29.0" stroke="#000" stroke-width="0.67">SU</text>
<text transform="translate(896.5,1304.6) scale(0.965,1)" font-size="31.6" stroke="#000" stroke-width="0.72">SEHER</text>
<text transform="translate(593.3,995.5) scale(0.850,1)" font-size="7.9" stroke="#000" stroke-width="0.22">EFE</text>
<text transform="translate(576.5,1003.8) scale(0.842,1)" font-size="6.3" stroke="#000" stroke-width="0.18">HALIL</text>
<text transform="translate(591.2,1288.0) scale(0.974,1)" font-size="10.5" stroke="#000" stroke-width="0.27">ELIF</text>
<text transform="translate(582.1,1329.7) scale(0.958,1)" font-size="5.7" stroke="#000" stroke-width="0.17">KAAN</text>
<text transform="translate(558.0,1340.9) scale(0.829,1)" font-size="5.7" stroke="#000" stroke-width="0.17">SEHER</text>
<text transform="translate(606.2,1035.7) scale(0.947,1)" font-size="5.2" stroke="#000" stroke-width="0.16">ALYA</text>
<text transform="translate(942.9,1246.8) scale(1.110,1)" font-size="5.2" stroke="#000" stroke-width="0.16">KAAN</text>
<text transform="translate(1001.6,1365.7) scale(0.799,1)" font-size="4.7" stroke="#000" stroke-width="0.15">SÜLEYMAN</text>
<text transform="translate(990.5,1386.7) scale(0.667,1)" font-size="4.2" stroke="#000" stroke-width="0.14">ARAS</text>
<text transform="translate(991.7,1402.4) scale(0.852,1)" font-size="5.2" stroke="#000" stroke-width="0.16">EFE</text>
<text transform="translate(887.6,178.8) scale(1.084,1)" font-size="41.5" stroke="#000" stroke-width="0.44">MEHMETHAN</text>
<text transform="translate(863.9,347.2) rotate(90) scale(0.755,1)" font-size="140.5" stroke-width="0.09">A</text>
<text transform="translate(863.2,425.3) rotate(90) scale(0.967,1)" font-size="142.4" stroke-width="1.37">T</text>
<text transform="translate(863.0,504.7) rotate(90) scale(1.048,1)" font-size="143.1" stroke-width="1.82">L</text>
<text transform="translate(863.2,591.3) rotate(90) scale(0.966,1)" font-size="142.4" stroke-width="1.38">A</text>
<text transform="translate(864.0,680.2) rotate(90) scale(0.723,1)" font-size="140.3" stroke="#000" stroke-width="0.11">S</text>
<text transform="translate(1003.6,397.3) rotate(90) scale(0.874,1)" font-size="119.4" stroke-width="0.45">S</text>
<text transform="translate(1003.8,460.9) rotate(90) scale(0.782,1)" font-size="118.7" stroke="#000" stroke-width="0.02">E</text>
<text transform="translate(1003.0,515.1) rotate(90) scale(1.097,1)" font-size="121.1" stroke-width="1.59">H</text>
<text transform="translate(1003.4,596.3) rotate(90) scale(0.943,1)" font-size="119.9" stroke-width="0.81">E</text>
<text transform="translate(1002.7,661.5) rotate(90) scale(1.197,1)" font-size="121.8" stroke-width="2.11">R</text>
<text transform="translate(802.6,395.7) rotate(90) scale(1.276,1)" font-size="71.0" stroke-width="0.87">M</text>
<text transform="translate(803.1,464.3) rotate(90) scale(0.954,1)" font-size="69.6" stroke="#000" stroke-width="0.10">E</text>
<text transform="translate(803.1,509.6) rotate(90) scale(0.920,1)" font-size="69.5" stroke="#000" stroke-width="0.21">T</text>
<text transform="translate(803.1,548.8) rotate(90) scale(0.919,1)" font-size="69.5" stroke="#000" stroke-width="0.21">E</text>
<text transform="translate(802.6,587.6) rotate(90) scale(1.267,1)" font-size="71.0" stroke-width="0.83">H</text>
<text transform="translate(803.0,648.1) rotate(90) scale(1.012,1)" font-size="69.9" stroke-width="0.07">A</text>
<text transform="translate(802.5,692.3) rotate(90) scale(1.372,1)" font-size="71.1" stroke-width="0.95">N</text>
<text transform="translate(602.6,394.1) rotate(90) scale(1.255,1)" font-size="89.8" stroke-width="1.41">M</text>
<text transform="translate(603.3,481.1) rotate(90) scale(0.869,1)" font-size="87.7" stroke="#000" stroke-width="0.07">E</text>
<text transform="translate(603.1,533.1) rotate(90) scale(1.002,1)" font-size="88.4" stroke-width="0.43">T</text>
<text transform="translate(603.3,585.5) rotate(90) scale(0.899,1)" font-size="87.9" stroke-width="0.04">E</text>
<text transform="translate(602.6,632.8) rotate(90) scale(1.262,1)" font-size="89.8" stroke-width="1.41">H</text>
<text transform="translate(603.0,707.9) rotate(90) scale(1.019,1)" font-size="88.5" stroke-width="0.50">A</text>
<text transform="translate(602.5,762.7) rotate(90) scale(1.289,1)" font-size="90.0" stroke-width="1.51">N</text>
<text transform="translate(690.8,343.1) rotate(90) scale(0.901,1)" font-size="116.3" stroke-width="0.54">Y</text>
<text transform="translate(689.8,404.8) rotate(90) scale(1.819,1)" font-size="119.3" stroke-width="2.56">I</text>
<text transform="translate(690.4,449.6) rotate(90) scale(1.078,1)" font-size="117.6" stroke-width="1.43">Ğ</text>
<text transform="translate(689.8,530.5) rotate(90) scale(1.819,1)" font-size="119.3" stroke-width="2.56">I</text>
<text transform="translate(690.6,580.0) rotate(90) scale(1.006,1)" font-size="117.1" stroke-width="1.06">T</text>
<text transform="translate(517.6,512.4) rotate(90) scale(1.410,1)" font-size="56.0" stroke-width="0.45">M</text>
<text transform="translate(518.1,573.6) rotate(90) scale(0.901,1)" font-size="54.6" stroke="#000" stroke-width="0.51">E</text>
<text transform="translate(517.7,605.2) rotate(90) scale(1.188,1)" font-size="55.6" stroke-width="0.17">H</text>
<text transform="translate(517.6,647.2) rotate(90) scale(1.313,1)" font-size="56.0" stroke-width="0.45">M</text>
<text transform="translate(518.1,704.6) rotate(90) scale(0.861,1)" font-size="54.5" stroke="#000" stroke-width="0.61">E</text>
<text transform="translate(518.0,736.6) rotate(90) scale(0.986,1)" font-size="54.9" stroke="#000" stroke-width="0.31">T</text>
<text transform="translate(517.8,768.3) rotate(90) scale(1.152,1)" font-size="55.5" stroke-width="0.08">H</text>
<text transform="translate(518.1,811.5) rotate(90) scale(0.845,1)" font-size="54.4" stroke="#000" stroke-width="0.65">A</text>
<text transform="translate(517.9,841.3) rotate(90) scale(1.073,1)" font-size="55.2" stroke="#000" stroke-width="0.10">N</text>
<text transform="translate(565.4,751.9) rotate(90) scale(1.217,1)" font-size="46.6" stroke="#000" stroke-width="0.03">T</text>
<text transform="translate(565.6,785.4) rotate(90) scale(1.003,1)" font-size="46.0" stroke="#000" stroke-width="0.47">A</text>
<text transform="translate(565.4,815.3) rotate(90) scale(1.229,1)" font-size="46.6" stroke="#000" stroke-width="0.01">H</text>
<text transform="translate(565.8,853.3) rotate(90) scale(0.811,1)" font-size="45.4" stroke="#000" stroke-width="0.86">A</text>
<text transform="translate(440.5,512.0) scale(0.872,1)" font-size="95.4" stroke-width="0.06">E</text>
<text transform="translate(491.4,512.2) scale(0.938,1)" font-size="95.8" stroke-width="0.33">F</text>
<text transform="translate(542.1,512.0) scale(0.871,1)" font-size="95.4" stroke-width="0.06">E</text>
<text transform="translate(687.1,744.9) scale(0.848,1)" font-size="78.7" stroke="#000" stroke-width="0.28">S</text>
<text transform="translate(724.7,745.6) scale(1.356,1)" font-size="80.9" stroke-width="1.28">U</text>
</g>
<g font-size="7.99" stroke="#000" stroke-width="0.22">
<text x="973.5" y="671.8">SENA</text><text x="932.9" y="320.7">SU</text><text x="291.6" y="1450.4">EMRE</text><text x="363.0" y="1240.6">EFE</text><text x="1007.6" y="329.2">ALYA</text><text x="689.6" y="1281.4">KAAN</text><text x="363.8" y="703.3">ELIF</text><text x="962.8" y="375.1">KAAN</text><text x="281.0" y="240.1">EDA</text><text x="270.1" y="457.0">EDA</text><text x="1314.7" y="563.1">ALYA</text><text x="654.1" y="384.1">HALIL</text><text x="1245.2" y="396.4">ALYA</text><text x="230.1" y="742.3">EFE</text>
</g>
<g font-size="5.23" stroke="#000" stroke-width="0.22">
<text x="1259.4" y="1040.0">ATLAS</text><text x="261.5" y="295.9">SENA</text><text x="278.6" y="1157.0">SEHER</text><text x="321.6" y="1444.1">SENA</text><text x="1232.5" y="1246.1">EFE</text><text x="711.6" y="1255.7">EDA</text><text x="229.2" y="545.9">EFE</text><text x="552.7" y="368.9">EFE</text><text x="817.3" y="777.8">SENA</text><text x="823.8" y="799.7">HALIL</text><text x="493.1" y="441.4">EFE</text><text x="671.1" y="525.2">GÖKAY</text><text x="1358.1" y="402.1">YIĞIT</text><text x="1225.5" y="399.2">TAHA</text><text x="1278.8" y="157.0">KAAN</text><text x="1350.4" y="1315.6">SU</text><text x="559.1" y="587.0">EFE</text><text x="796.2" y="1245.3">SENA</text><text x="1201.4" y="139.2">ALYA</text><text x="374.5" y="1107.0">ARAS</text><text x="558.5" y="713.9">EDA</text><text x="279.0" y="1369.0">ELIF</text><text x="1315.0" y="1450.1">SU</text><text x="679.4" y="792.2">EMRE</text><text x="840.6" y="384.4">EFE</text><text x="1257.6" y="901.7">SU</text><text x="816.9" y="761.4">SEHER</text><text x="974.6" y="1272.3">SENA</text><text x="935.6" y="1281.0">YIĞIT</text><text x="730.9" y="327.7">ALYA</text><text x="839.7" y="354.2">KAAN</text><text x="370.3" y="752.5">GÖKAY</text><text x="1264.1" y="294.3">TAHA</text><text x="1316.5" y="760.9">YIĞIT</text><text x="672.0" y="432.9">EFE</text><text x="904.3" y="1277.3">DEFNE</text><text x="325.2" y="1314.0">ARAS</text><text x="369.7" y="968.2">EMRE</text><text x="286.8" y="1441.0">ALYA</text><text x="1188.1" y="181.2">YIĞIT</text><text x="1293.5" y="539.1">METEHAN</text><text x="1227.6" y="268.8">GÖKAY</text><text x="277.6" y="249.6">EFE</text><text x="668.9" y="506.8">ARAS</text><text x="463.2" y="1453.0">TAHA</text><text x="718.8" y="305.8">SENA</text><text x="361.3" y="471.8">SENA</text><text x="1022.6" y="1442.1">SEHER</text><text x="1297.7" y="1445.8">TAHA</text><text x="1360.3" y="614.9">EDA</text><text x="368.5" y="1222.5">SU</text><text x="1095.5" y="598.6">ALYA</text><text x="371.6" y="985.7">GÖKAY</text><text x="830.1" y="836.0">SENA</text><text x="942.5" y="1389.1">ARAS</text><text x="980.1" y="1280.6">GÖKAY</text><text x="1268.9" y="1176.5">SU</text><text x="1064.8" y="766.3">ARAS</text><text x="225.2" y="719.3">MEHMETHAN</text><text x="595.0" y="636.6">SU</text><text x="633.6" y="1172.3">TAHA</text><text x="985.1" y="431.5">TAHA</text><text x="1066.5" y="139.9">EFE</text><text x="870.6" y="308.3">SENA</text><text x="573.7" y="696.4">SU</text><text x="519.1" y="441.7">ELIF</text><text x="247.3" y="675.9">EFE</text><text x="863.9" y="337.7">SU</text><text x="762.4" y="655.7">KAAN</text><text x="890.6" y="318.9">HALIL</text><text x="717.8" y="341.3">EFE</text><text x="1327.3" y="155.4">SEHER</text><text x="812.6" y="346.9">KAAN</text><text x="1349.4" y="490.9">YÜSRA</text><text x="589.9" y="686.7">EDA</text><text x="1350.9" y="481.8">EMRE</text><text x="878.0" y="179.1">SU</text><text x="365.0" y="459.6">GÖKAY</text><text x="753.8" y="291.1">EDA</text><text x="1260.2" y="707.7">ALYA</text><text x="494.2" y="716.7">KAAN</text><text x="369.1" y="1122.8">TAHA</text><text x="601.5" y="381.4">ELIF</text><text x="1314.9" y="238.0">YÜSRA</text><text x="970.0" y="584.5">ARAS</text><text x="738.0" y="1254.5">SENA</text><text x="1358.6" y="621.9">YIĞIT</text><text x="564.3" y="596.7">METEHAN</text><text x="596.6" y="143.2">ATLAS</text><text x="654.6" y="1260.3">ELIF</text><text x="371.8" y="825.9">EFE</text><text x="1147.9" y="145.5">SÜLEYMAN</text><text x="672.7" y="404.5">EDA</text><text x="769.4" y="789.4">ELIF</text><text x="1323.3" y="993.1">ALYA</text><text x="838.9" y="347.9">ATLAS</text><text x="374.6" y="854.8">EMRE</text><text x="963.1" y="418.7">KAAN</text><text x="1253.7" y="880.8">METEHAN</text><text x="1235.2" y="1359.1">YIĞIT</text><text x="412.7" y="180.2">TAHA</text><text x="658.4" y="1323.6">ATLAS</text><text x="579.0" y="628.6">SENA</text><text x="1306.9" y="1023.1">EMRE</text><text x="768.2" y="297.7">TAHA</text><text x="1279.0" y="1152.3">ELIF</text><text x="909.8" y="1359.1">ATLAS</text><text x="245.9" y="802.6">YIĞIT</text><text x="1359.1" y="996.1">EFE</text><text x="573.2" y="590.9">YIĞIT</text><text x="989.8" y="407.1">ALYA</text><text x="239.6" y="649.4">GÖKAY</text><text x="842.3" y="360.3">SU</text><text x="371.3" y="1006.7">ARAS</text><text x="285.5" y="1022.6">METEHAN</text><text x="1222.5" y="1148.8">EFE</text>
</g>
<g font-size="3.78" stroke="#000" stroke-width="0.12">
<text x="1308.2" y="1345.2">KAAN</text><text x="338.9" y="1440.9">SU</text><text x="1229.8" y="186.2">EFE</text><text x="338.1" y="842.2">SENA</text><text x="1225.7" y="882.3">HALIL</text><text x="226.5" y="641.1">DEFNE</text><text x="681.6" y="318.0">ELIF</text><text x="1260.4" y="410.9">SEHER</text><text x="1098.1" y="1444.2">SEHER</text><text x="261.8" y="611.0">METEHAN</text><text x="687.4" y="1016.6">ARAS</text><text x="377.2" y="759.8">TAHA</text><text x="551.4" y="421.0">HALIL</text><text x="369.0" y="638.9">SÜLEYMAN</text><text x="1228.0" y="440.3">SENA</text><text x="376.3" y="1415.3">SU</text><text x="347.9" y="1358.1">TAHA</text><text x="1293.1" y="1450.7">SU</text><text x="226.6" y="1392.0">KAAN</text><text x="286.1" y="545.3">MEHMETHAN</text><text x="1298.7" y="996.8">EDA</text><text x="327.7" y="428.7">YÜSRA</text><text x="1263.3" y="536.2">ARAS</text><text x="1301.2" y="238.9">SU</text><text x="676.8" y="653.0">ARAS</text><text x="367.4" y="645.4">KAAN</text><text x="1231.8" y="564.9">HALIL</text><text x="848.1" y="399.4">YIĞIT</text><text x="711.8" y="1356.4">EDA</text><text x="1263.0" y="547.1">KAAN</text><text x="1356.4" y="859.7">KAAN</text><text x="1326.2" y="546.2">EMRE</text><text x="1057.4" y="380.2">ALYA</text><text x="502.4" y="541.5">YÜSRA</text><text x="269.0" y="880.1">ATLAS</text><text x="852.4" y="147.9">ELIF</text><text x="921.8" y="148.7">YÜSRA</text><text x="1225.3" y="385.7">ELIF</text><text x="898.8" y="1464.5">YÜSRA</text><text x="1303.6" y="881.2">SEHER</text><text x="1116.7" y="686.8">METEHAN</text><text x="479.8" y="612.2">TAHA</text><text x="987.2" y="646.5">ALYA</text><text x="1086.3" y="568.5">METEHAN</text><text x="226.4" y="176.1">SENA</text><text x="629.8" y="389.7">SU</text><text x="940.3" y="145.5">GÖKAY</text><text x="916.7" y="1327.0">KAAN</text><text x="1354.4" y="1004.7">YIĞIT</text><text x="1317.2" y="610.0">HALIL</text><text x="358.0" y="752.9">EFE</text><text x="734.1" y="770.4">EFE</text><text x="970.1" y="651.6">EDA</text><text x="1350.6" y="434.5">MEHMETHAN</text><text x="731.4" y="677.5">EDA</text><text x="985.6" y="519.8">ARAS</text><text x="1348.2" y="694.2">SU</text><text x="814.0" y="256.4">EMRE</text><text x="490.1" y="640.0">ELIF</text><text x="964.7" y="626.6">HALIL</text><text x="362.2" y="942.5">KAAN</text><text x="1198.4" y="147.9">KAAN</text><text x="757.1" y="750.3">ELIF</text><text x="1120.8" y="570.1">SU</text><text x="895.0" y="137.6">METEHAN</text><text x="914.2" y="273.9">SU</text><text x="603.0" y="1294.3">ELIF</text><text x="297.1" y="538.4">TAHA</text><text x="500.7" y="561.0">EFE</text><text x="344.4" y="1028.7">EFE</text><text x="1245.1" y="151.7">ARAS</text><text x="986.1" y="472.9">DEFNE</text><text x="1363.3" y="959.9">SU</text><text x="633.2" y="400.3">KAAN</text><text x="1327.2" y="1445.7">YÜSRA</text><text x="1362.5" y="1268.6">TAHA</text><text x="1311.1" y="746.5">ELIF</text><text x="336.8" y="846.8">TAHA</text><text x="233.9" y="733.9">TAHA</text><text x="331.2" y="1461.2">DEFNE</text><text x="718.6" y="800.7">ELIF</text><text x="1304.8" y="307.0">ARAS</text><text x="1270.9" y="1450.4">METEHAN</text><text x="973.1" y="144.2">ARAS</text><text x="867.2" y="1440.8">DEFNE</text><text x="494.8" y="149.0">SEHER</text><text x="252.7" y="158.8">ELIF</text><text x="564.4" y="740.5">EFE</text><text x="369.3" y="947.5">SU</text><text x="376.3" y="619.1">ARAS</text><text x="1330.3" y="1368.6">YÜSRA</text><text x="308.8" y="1209.8">KAAN</text><text x="1363.8" y="1434.1">ELIF</text><text x="1103.4" y="751.7">METEHAN</text><text x="224.8" y="952.0">ARAS</text><text x="274.0" y="140.3">EDA</text><text x="852.8" y="568.6">ELIF</text><text x="790.6" y="1439.7">KAAN</text><text x="677.1" y="753.5">DEFNE</text><text x="665.2" y="1253.0">YÜSRA</text><text x="226.8" y="846.7">DEFNE</text><text x="319.7" y="545.1">METEHAN</text><text x="1230.1" y="471.9">ALYA</text><text x="232.9" y="1269.0">EDA</text><text x="349.4" y="1152.9">ALYA</text><text x="737.2" y="788.1">ARAS</text><text x="904.6" y="236.2">GÖKAY</text><text x="364.7" y="1181.2">ELIF</text><text x="961.5" y="405.6">ARAS</text><text x="949.3" y="346.0">HALIL</text><text x="452.7" y="146.6">EMRE</text><text x="295.0" y="689.8">SEHER</text><text x="951.7" y="747.7">YÜSRA</text><text x="1361.1" y="696.9">YIĞIT</text><text x="1279.0" y="539.3">EMRE</text><text x="1352.1" y="957.7">ELIF</text><text x="954.4" y="754.1">YIĞIT</text><text x="1226.1" y="331.4">ATLAS</text><text x="990.1" y="659.0">ALYA</text><text x="256.0" y="1051.0">ARAS</text><text x="699.9" y="655.8">ATLAS</text><text x="1354.2" y="1415.4">ALYA</text><text x="505.8" y="673.6">ALYA</text><text x="226.8" y="1350.8">SU</text><text x="806.3" y="767.6">SENA</text><text x="1344.6" y="460.1">HALIL</text><text x="673.3" y="777.6">EFE</text><text x="571.8" y="653.6">YÜSRA</text><text x="361.2" y="230.5">YIĞIT</text><text x="831.1" y="179.6">ARAS</text><text x="467.8" y="1458.7">ALYA</text><text x="844.9" y="373.8">TAHA</text><text x="743.1" y="1281.0">DEFNE</text><text x="725.9" y="284.5">MEHMETHAN</text><text x="640.2" y="1253.4">EMRE</text><text x="1280.2" y="1318.5">SÜLEYMAN</text><text x="964.5" y="856.2">EDA</text><text x="672.8" y="1316.3">EMRE</text><text x="641.0" y="1316.1">ELIF</text><text x="878.7" y="829.2">YÜSRA</text><text x="374.9" y="1055.9">SENA</text><text x="908.2" y="256.3">HALIL</text><text x="293.4" y="248.0">SU</text><text x="244.9" y="1464.9">ALYA</text><text x="911.0" y="1022.6">ATLAS</text><text x="709.8" y="806.5">TAHA</text><text x="1256.4" y="1029.4">EFE</text><text x="353.3" y="291.6">DEFNE</text><text x="634.9" y="1328.8">YÜSRA</text><text x="1087.7" y="760.9">YÜSRA</text><text x="344.5" y="687.3">YÜSRA</text><text x="362.5" y="854.3">EFE</text><text x="1350.3" y="562.2">ARAS</text><text x="647.8" y="1277.8">DEFNE</text><text x="223.7" y="816.6">EDA</text><text x="362.4" y="801.6">METEHAN</text><text x="370.8" y="531.9">SENA</text><text x="1340.8" y="722.5">ELIF</text><text x="719.9" y="147.4">SU</text><text x="913.4" y="314.4">EDA</text><text x="361.7" y="1257.6">ARAS</text><text x="649.6" y="990.2">SÜLEYMAN</text><text x="1352.3" y="1402.7">YÜSRA</text><text x="769.9" y="1363.1">SÜLEYMAN</text><text x="503.7" y="516.7">EMRE</text><text x="1311.6" y="1300.7">METEHAN</text><text x="373.4" y="655.7">HALIL</text><text x="1347.3" y="407.3">ELIF</text><text x="1125.8" y="718.9">EMRE</text><text x="271.2" y="907.4">ALYA</text><text x="681.1" y="823.1">YIĞIT</text><text x="224.7" y="900.6">ALYA</text><text x="1069.7" y="146.8">HALIL</text><text x="681.5" y="309.3">EDA</text><text x="1231.3" y="549.8">TAHA</text><text x="1296.1" y="386.0">HALIL</text><text x="1086.3" y="524.6">EMRE</text><text x="596.2" y="487.9">SU</text><text x="1361.3" y="864.2">ELIF</text><text x="1320.0" y="898.6">HALIL</text><text x="500.6" y="138.8">ALYA</text><text x="1091.1" y="459.2">DEFNE</text><text x="331.5" y="237.7">SENA</text><text x="1004.7" y="1466.8">ALYA</text><text x="934.2" y="346.1">HALIL</text><text x="969.2" y="636.2">YIĞIT</text><text x="668.1" y="641.0">HALIL</text><text x="842.1" y="770.0">EFE</text><text x="1234.7" y="433.6">ARAS</text><text x="620.6" y="139.4">TAHA</text><text x="1337.0" y="1297.8">SÜLEYMAN</text><text x="1353.3" y="474.2">METEHAN</text><text x="1227.2" y="811.1">KAAN</text><text x="666.6" y="794.6">HALIL</text><text x="359.8" y="1304.1">TAHA</text><text x="975.5" y="577.4">MEHMETHAN</text><text x="679.8" y="420.2">KAAN</text><text x="1280.0" y="1219.9">HALIL</text><text x="611.0" y="1464.2">TAHA</text><text x="251.2" y="1331.6">GÖKAY</text><text x="1120.4" y="456.0">ARAS</text><text x="1118.2" y="543.3">ARAS</text><text x="685.0" y="1441.2">MEHMETHAN</text><text x="1261.2" y="1045.3">HALIL</text><text x="375.8" y="1361.4">ATLAS</text><text x="375.5" y="183.9">TAHA</text><text x="238.6" y="725.3">ELIF</text><text x="1299.5" y="1075.2">SENA</text><text x="1299.3" y="1186.6">KAAN</text><text x="950.3" y="1355.9">ELIF</text><text x="720.5" y="768.9">ATLAS</text><text x="1286.6" y="710.5">HALIL</text><text x="823.2" y="341.0">EMRE</text><text x="643.1" y="1136.0">GÖKAY</text><text x="630.6" y="1440.6">EDA</text><text x="918.0" y="138.2">ATLAS</text><text x="367.3" y="449.7">GÖKAY</text><text x="1022.0" y="1464.0">METEHAN</text><text x="273.6" y="1454.7">DEFNE</text><text x="576.1" y="712.0">HALIL</text><text x="718.9" y="679.9">ARAS</text><text x="1007.7" y="147.6">EMRE</text><text x="943.1" y="1096.2">ATLAS</text><text x="1363.9" y="792.8">ARAS</text><text x="284.2" y="1049.3">ELIF</text><text x="669.2" y="421.3">ELIF</text><text x="825.1" y="1286.8">GÖKAY</text><text x="1300.6" y="1219.5">SU</text><text x="375.5" y="239.1">SENA</text><text x="803.8" y="799.0">GÖKAY</text><text x="1246.1" y="295.6">YIĞIT</text><text x="234.8" y="1164.6">EDA</text><text x="624.8" y="382.1">GÖKAY</text><text x="530.6" y="515.7">YÜSRA</text><text x="364.9" y="488.2">TAHA</text><text x="330.3" y="1051.2">EFE</text><text x="373.0" y="252.7">YIĞIT</text><text x="493.7" y="1440.9">ELIF</text><text x="1356.1" y="510.7">SENA</text><text x="484.1" y="560.8">YIĞIT</text><text x="994.5" y="439.1">ELIF</text><text x="1212.5" y="179.5">METEHAN</text><text x="1226.8" y="480.6">DEFNE</text><text x="1350.7" y="534.5">YIĞIT</text><text x="1040.9" y="762.6">SENA</text><text x="1292.2" y="1150.7">HALIL</text><text x="691.8" y="344.1">ATLAS</text><text x="1338.4" y="1033.5">YIĞIT</text><text x="376.7" y="303.5">TAHA</text><text x="687.8" y="773.5">EFE</text><text x="1306.6" y="1058.8">YIĞIT</text><text x="643.2" y="149.0">ELIF</text><text x="922.2" y="1464.8">SU</text><text x="693.6" y="1256.6">EDA</text><text x="977.9" y="501.0">TAHA</text><text x="996.8" y="142.2">SU</text><text x="1283.8" y="1462.5">EMRE</text><text x="1222.4" y="1023.9">SU</text><text x="677.3" y="688.5">ALYA</text><text x="670.5" y="634.9">YÜSRA</text><text x="256.7" y="1000.0">YIĞIT</text><text x="809.0" y="177.8">ARAS</text><text x="729.6" y="750.3">SÜLEYMAN</text><text x="498.8" y="406.0">ATLAS</text><text x="322.5" y="690.4">METEHAN</text><text x="1018.3" y="335.6">YIĞIT</text><text x="1178.8" y="146.6">SU</text><text x="377.1" y="1393.7">YIĞIT</text><text x="1360.7" y="599.4">EDA</text><text x="243.5" y="869.1">METEHAN</text><text x="322.6" y="841.8">EFE</text><text x="1138.3" y="1439.9">DEFNE</text><text x="961.1" y="316.9">ATLAS</text><text x="269.5" y="235.0">EDA</text><text x="237.2" y="821.5">EFE</text><text x="309.3" y="1371.2">KAAN</text><text x="676.0" y="454.4">SENA</text><text x="950.3" y="1268.6">METEHAN</text><text x="541.0" y="438.3">EFE</text><text x="538.9" y="390.2">KAAN</text><text x="368.6" y="524.9">TAHA</text><text x="1360.7" y="458.1">EDA</text><text x="347.9" y="1448.5">ATLAS</text><text x="626.8" y="1323.7">GÖKAY</text><text x="1348.2" y="1186.5">EMRE</text><text x="571.9" y="371.3">METEHAN</text><text x="299.0" y="560.8">METEHAN</text><text x="377.2" y="1307.5">ATLAS</text><text x="837.5" y="827.9">SENA</text><text x="1282.9" y="1298.6">DEFNE</text><text x="1338.7" y="1452.1">SU</text><text x="763.2" y="340.1">EMRE</text><text x="489.9" y="520.1">KAAN</text><text x="1113.8" y="593.1">EFE</text><text x="877.5" y="1257.4">SU</text><text x="971.2" y="565.9">YÜSRA</text><text x="1356.0" y="1024.0">ATLAS</text><text x="304.3" y="292.6">ARAS</text><text x="276.5" y="596.1">ATLAS</text><text x="293.3" y="1318.5">ELIF</text><text x="1238.7" y="775.5">SU</text><text x="673.8" y="369.1">SEHER</text><text x="923.4" y="761.4">YIĞIT</text><text x="1367.8" y="846.6">EFE</text><text x="362.1" y="1057.3">ARAS</text><text x="1322.7" y="408.4">GÖKAY</text><text x="854.9" y="174.0">EMRE</text><text x="351.2" y="1006.1">DEFNE</text><text x="799.6" y="396.8">ELIF</text><text x="332.3" y="695.3">SEHER</text><text x="1116.7" y="416.6">SU</text><text x="953.9" y="1445.4">ARAS</text><text x="1366.7" y="1274.6">EFE</text><text x="985.4" y="442.6">SU</text><text x="1356.8" y="852.5">ALYA</text><text x="737.1" y="1442.3">ALYA</text><text x="1081.4" y="1454.6">SU</text><text x="568.4" y="434.7">EMRE</text><text x="1246.3" y="1168.9">ELIF</text><text x="589.6" y="699.8">HALIL</text><text x="364.2" y="1175.8">SÜLEYMAN</text><text x="732.2" y="138.6">KAAN</text><text x="348.2" y="1443.1">EDA</text><text x="862.5" y="1018.4">SU</text><text x="939.0" y="140.6">YIĞIT</text><text x="1303.9" y="141.1">HALIL</text><text x="572.1" y="673.3">ARAS</text><text x="982.5" y="1395.4">SEHER</text><text x="1349.3" y="1019.2">SU</text><text x="675.8" y="628.5">EMRE</text><text x="877.2" y="164.0">ALYA</text><text x="242.7" y="1038.3">KAAN</text><text x="667.5" y="821.8">EMRE</text><text x="1091.1" y="753.6">SENA</text><text x="245.6" y="682.4">EFE</text><text x="1237.5" y="557.6">EMRE</text><text x="346.4" y="235.4">KAAN</text><text x="278.6" y="869.3">YIĞIT</text><text x="649.7" y="329.9">EDA</text><text x="1355.6" y="990.0">EMRE</text><text x="1343.3" y="298.8">SENA</text><text x="316.4" y="694.8">EFE</text><text x="1122.9" y="682.3">HALIL</text><text x="1336.0" y="137.9">YIĞIT</text><text x="719.8" y="671.3">YIĞIT</text><text x="676.0" y="574.0">ATLAS</text><text x="380.4" y="1180.9">SU</text><text x="967.9" y="398.7">MEHMETHAN</text><text x="374.6" y="1114.3">ATLAS</text><text x="230.0" y="1275.6">DEFNE</text><text x="1325.1" y="538.9">EFE</text><text x="226.6" y="1218.7">TAHA</text><text x="1340.7" y="992.6">SU</text><text x="255.3" y="457.7">KAAN</text><text x="1215.6" y="1456.1">SU</text><text x="448.7" y="546.3">MEHMETHAN</text><text x="606.5" y="1380.4">TAHA</text><text x="924.8" y="240.5">EFE</text><text x="963.6" y="291.3">SU</text><text x="1222.9" y="1330.3">SU</text><text x="591.6" y="1240.4">SU</text><text x="1361.9" y="951.8">DEFNE</text><text x="348.1" y="1324.1">SU</text><text x="782.0" y="750.0">METEHAN</text>
</g>
<g font-size="2.76" stroke="#000" stroke-width="0.03">
<text x="236.8" y="136.9">TAHA</text><text x="247.1" y="136.9">KAAN</text><text x="352.9" y="136.9">TAHA</text><text x="383.7" y="136.9">KAAN</text><text x="447.6" y="136.9">MEHMETHAN</text><text x="487.5" y="136.9">ARAS</text><text x="524.3" y="136.9">MEHMETHAN</text><text x="598.3" y="136.9">TAHA</text><text x="610.1" y="136.9">SU</text><text x="632.4" y="136.9">YÜSRA</text><text x="664.4" y="136.9">ATLAS</text><text x="715.3" y="136.9">EDA</text><text x="821.0" y="136.9">DEFNE</text><text x="855.0" y="136.9">YIĞIT</text><text x="951.2" y="136.9">DEFNE</text><text x="974.9" y="136.9">EDA</text><text x="983.2" y="136.9">KAAN</text><text x="1003.2" y="136.9">SEHER</text><text x="1130.3" y="136.9">EMRE</text><text x="1256.4" y="136.9">ATLAS</text><text x="1268.8" y="136.9">YIĞIT</text><text x="1289.1" y="136.9">EFE</text><text x="1348.1" y="136.9">GÖKAY</text><text x="393.1" y="137.9">EFE</text><text x="403.0" y="137.9">SU</text><text x="467.3" y="137.9">SEHER</text><text x="512.1" y="137.9">ARAS</text><text x="832.4" y="137.9">DEFNE</text><text x="885.6" y="137.9">ELIF</text><text x="992.7" y="137.9">SU</text><text x="1079.2" y="137.9">TAHA</text><text x="1139.9" y="137.9">DEFNE</text><text x="1177.0" y="137.9">SU</text><text x="1316.6" y="137.9">HALIL</text><text x="1328.2" y="137.9">EDA</text><text x="256.8" y="138.9">GÖKAY</text><text x="304.0" y="138.9">ELIF</text><text x="371.0" y="138.9">SU</text><text x="644.2" y="138.9">YIĞIT</text><text x="654.6" y="138.9">EMRE</text><text x="675.1" y="138.9">SU</text><text x="843.4" y="138.9">GÖKAY</text><text x="1057.7" y="138.9">SU</text><text x="1182.7" y="138.9">ALYA</text><text x="1216.4" y="138.9">EDA</text><text x="1279.1" y="138.9">HALIL</text><text x="377.6" y="139.9">SU</text><text x="873.3" y="139.9">HALIL</text><text x="932.3" y="139.9">SU</text><text x="962.7" y="139.9">ALYA</text><text x="1150.9" y="139.9">GÖKAY</text><text x="1242.4" y="139.9">SU</text><text x="226.4" y="140.9">SU</text><text x="246.4" y="140.9">HALIL</text><text x="383.5" y="140.9">KAAN</text><text x="447.4" y="140.9">DEFNE</text><text x="460.9" y="140.9">SU</text><text x="478.6" y="140.9">DEFNE</text><text x="492.1" y="140.9">EFE</text><text x="521.9" y="140.9">TAHA</text><text x="533.0" y="140.9">HALIL</text><text x="854.9" y="140.9">EMRE</text><text x="951.0" y="140.9">SU</text><text x="1132.2" y="140.9">SU</text><text x="1193.8" y="140.9">SU</text><text x="1289.1" y="140.9">EFE</text><text x="238.4" y="141.9">SU</text><text x="393.2" y="141.9">KAAN</text><text x="466.5" y="141.9">SU</text><text x="715.4" y="141.9">EMRE</text><text x="744.8" y="141.9">SU</text><text x="986.7" y="141.9">SU</text><text x="1013.1" y="141.9">EFE</text><text x="256.1" y="142.9">EFE</text><text x="304.0" y="142.9">EFE</text><text x="359.2" y="142.9">KAAN</text><text x="473.4" y="142.9">SU</text><text x="513.4" y="142.9">SU</text><text x="638.9" y="142.9">YÜSRA</text><text x="732.9" y="142.9">ATLAS</text><text x="842.5" y="142.9">KAAN</text><text x="1187.9" y="142.9">SU</text><text x="1273.7" y="142.9">ARAS</text><text x="1316.7" y="142.9">EMRE</text><text x="352.5" y="143.9">SU</text><text x="581.0" y="143.9">GÖKAY</text><text x="874.6" y="143.9">SU</text><text x="898.3" y="143.9">ELIF</text><text x="1057.8" y="143.9">YÜSRA</text><text x="1139.0" y="143.9">EDA</text><text x="1210.8" y="143.9">ARAS</text><text x="1242.5" y="143.9">SU</text><text x="1283.1" y="144.9">ELIF</text><text x="283.4" y="145.9">SU</text><text x="339.0" y="145.9">GÖKAY</text><text x="480.4" y="145.9">SU</text><text x="519.1" y="145.9">KAAN</text><text x="955.6" y="145.9">ARAS</text><text x="985.9" y="145.9">ALYA</text><text x="998.1" y="145.9">SU</text><text x="236.9" y="146.9">ALYA</text><text x="732.5" y="146.9">EFE</text><text x="742.5" y="146.9">SU</text><text x="1321.9" y="146.9">SU</text><text x="320.2" y="147.9">ARAS</text><text x="465.7" y="147.9">EDA</text><text x="528.6" y="147.9">YÜSRA</text><text x="844.6" y="147.9">EDA</text><text x="874.4" y="147.9">ELIF</text><text x="898.7" y="147.9">EFE</text><text x="965.0" y="147.9">SEHER</text><text x="978.9" y="147.9">SU</text><text x="1057.4" y="147.9">HALIL</text><text x="1129.9" y="147.9">EMRE</text><text x="1140.4" y="147.9">SU</text><text x="331.5" y="148.9">SU</text><text x="350.8" y="148.9">SENA</text><text x="398.7" y="148.9">ATLAS</text><text x="595.2" y="148.9">ARAS</text><text x="831.4" y="148.9">GÖKAY</text><text x="1186.2" y="148.9">ATLAS</text><text x="337.9" y="149.9">EMRE</text><text x="821.1" y="149.9">HALIL</text><text x="862.8" y="149.9">TAHA</text><text x="884.3" y="149.9">SU</text><text x="1257.6" y="149.9">EMRE</text><text x="1289.9" y="149.9">SU</text><text x="233.9" y="150.9">METEHAN</text><text x="729.2" y="150.9">SENA</text><text x="1347.4" y="150.9">TAHA</text><text x="320.3" y="151.9">SU</text><text x="1267.7" y="151.9">HALIL</text><text x="347.8" y="152.9">EFE</text><text x="832.1" y="152.9">ELIF</text><text x="1175.2" y="152.9">ALYA</text><text x="1238.5" y="152.9">SU</text><text x="226.2" y="153.9">EDA</text><text x="338.0" y="153.9">EDA</text><text x="880.3" y="153.9">TAHA</text><text x="233.9" y="154.9">EDA</text><text x="729.3" y="155.9">YIĞIT</text><text x="738.9" y="155.9">EFE</text><text x="1256.8" y="155.9">SÜLEYMAN</text><text x="821.1" y="156.9">YIĞIT</text><text x="1237.5" y="156.9">YÜSRA</text><text x="227.0" y="157.9">SU</text><text x="366.9" y="157.9">MEHMETHAN</text><text x="880.3" y="157.9">TAHA</text><text x="1175.3" y="157.9">ELIF</text><text x="1307.9" y="157.9">ELIF</text><text x="1349.4" y="157.9">EDA</text><text x="387.8" y="158.9">HALIL</text><text x="830.4" y="158.9">DEFNE</text><text x="232.5" y="159.9">DEFNE</text><text x="757.6" y="159.9">ATLAS</text><text x="770.6" y="159.9">SU</text><text x="776.5" y="159.9">SEHER</text><text x="808.7" y="159.9">EFE</text><text x="358.0" y="161.9">METEHAN</text><text x="1175.2" y="161.9">SEHER</text><text x="373.5" y="162.9">SU</text><text x="379.3" y="162.9">SÜLEYMAN</text><text x="1347.4" y="162.9">YÜSRA</text><text x="781.1" y="163.9">HALIL</text><text x="396.6" y="164.9">SEHER</text><text x="421.2" y="164.9">DEFNE</text><text x="432.6" y="164.9">SEHER</text><text x="730.9" y="164.9">KAAN</text><text x="790.8" y="164.9">DEFNE</text><text x="358.1" y="165.9">KAAN</text><text x="408.1" y="165.9">DEFNE</text><text x="853.5" y="165.9">SU</text><text x="1237.7" y="166.9">TAHA</text><text x="1175.1" y="168.9">SEHER</text><text x="226.1" y="169.9">ARAS</text><text x="360.2" y="169.9">SU</text><text x="879.8" y="169.9">SEHER</text><text x="1348.1" y="169.9">DEFNE</text><text x="401.2" y="170.9">ELIF</text><text x="410.0" y="170.9">TAHA</text><text x="729.4" y="170.9">ATLAS</text><text x="868.0" y="170.9">GÖKAY</text><text x="1239.0" y="170.9">ALYA</text><text x="441.2" y="172.9">SU</text><text x="1175.9" y="172.9">ELIF</text><text x="1346.9" y="173.9">SU</text><text x="1352.6" y="173.9">ELIF</text><text x="402.1" y="174.9">HALIL</text><text x="740.1" y="175.9">YIĞIT</text><text x="749.5" y="175.9">SU</text><text x="755.7" y="175.9">SU</text><text x="762.0" y="175.9">ALYA</text><text x="843.7" y="175.9">ATLAS</text><text x="1233.0" y="175.9">ELIF</text><text x="358.3" y="176.9">EFE</text><text x="791.8" y="176.9">TAHA</text><text x="868.2" y="176.9">ELIF</text><text x="1175.5" y="176.9">ALYA</text><text x="1240.9" y="176.9">SU</text><text x="428.4" y="177.9">EFE</text><text x="436.3" y="177.9">EMRE</text><text x="821.3" y="177.9">HALIL</text><text x="729.2" y="178.9">ATLAS</text><text x="1348.3" y="178.9">SU</text><text x="401.9" y="179.9">EDA</text><text x="739.4" y="179.9">SENA</text><text x="750.1" y="179.9">DEFNE</text><text x="1355.2" y="179.9">SU</text><text x="357.9" y="180.9">HALIL</text><text x="387.6" y="180.9">ATLAS</text><text x="768.0" y="180.9">SENA</text><text x="1233.0" y="180.9">SEHER</text><text x="1246.2" y="180.9">SU</text><text x="367.7" y="181.9">SU</text><text x="1240.8" y="184.9">SU</text><text x="360.3" y="185.9">GÖKAY</text><text x="1348.8" y="187.9">EDA</text><text x="360.3" y="189.9">ELIF</text><text x="1222.4" y="189.9">ATLAS</text><text x="1233.5" y="189.9">ARAS</text><text x="1365.8" y="189.9">EFE</text><text x="1349.2" y="193.9">ATLAS</text><text x="1360.0" y="193.9">ALYA</text><text x="1369.7" y="195.9">SU</text><text x="1349.3" y="197.9">ARAS</text><text x="1359.0" y="197.9">EFE</text><text x="360.3" y="206.9">ARAS</text><text x="826.2" y="214.9">TAHA</text><text x="805.7" y="215.9">YÜSRA</text><text x="818.2" y="215.9">SU</text><text x="844.5" y="215.9">KAAN</text><text x="873.6" y="219.9">YÜSRA</text><text x="888.3" y="219.9">KAAN</text><text x="780.0" y="222.9">EMRE</text><text x="802.4" y="222.9">SU</text><text x="360.1" y="224.9">YÜSRA</text><text x="755.6" y="227.9">YÜSRA</text><text x="768.3" y="227.9">SEHER</text><text x="927.4" y="227.9">YIĞIT</text><text x="373.6" y="228.9">GÖKAY</text><text x="895.1" y="228.9">ELIF</text><text x="912.5" y="229.9">SU</text><text x="807.8" y="230.9">ELIF</text><text x="815.8" y="230.9">YÜSRA</text><text x="840.9" y="230.9">EFE</text><text x="850.9" y="231.9">SU</text><text x="1261.2" y="231.9">ARAS</text><text x="1295.0" y="231.9">ALYA</text><text x="373.6" y="232.9">EMRE</text><text x="384.3" y="232.9">EDA</text><text x="1247.6" y="232.9">EDA</text><text x="299.9" y="233.9">SEHER</text><text x="311.5" y="233.9">EFE</text><text x="321.3" y="233.9">ALYA</text><text x="783.5" y="233.9">YÜSRA</text><text x="358.3" y="234.9">HALIL</text><text x="795.4" y="234.9">SENA</text><text x="807.4" y="234.9">ELIF</text><text x="1308.6" y="234.9">SU</text><text x="224.3" y="235.9">EFE</text><text x="262.6" y="236.9">SU</text><text x="1258.4" y="236.9">ATLAS</text><text x="1294.9" y="236.9">SU</text><text x="250.7" y="237.9">SU</text><text x="300.3" y="237.9">SEHER</text><text x="320.6" y="237.9">KAAN</text><text x="740.0" y="237.9">HALIL</text><text x="752.5" y="237.9">EDA</text><text x="1247.9" y="237.9">ARAS</text><text x="239.2" y="238.9">EDA</text><text x="268.8" y="238.9">TAHA</text><text x="770.5" y="238.9">SU</text><text x="784.6" y="238.9">ARAS</text><text x="898.7" y="238.9">SU</text><text x="933.9" y="238.9">EDA</text><text x="311.5" y="239.9">ELIF</text><text x="904.6" y="239.9">SU</text><text x="910.5" y="239.9">ARAS</text><text x="1269.1" y="239.9">TAHA</text><text x="1257.6" y="240.9">EMRE</text><text x="1364.8" y="240.9">EDA</text><text x="299.9" y="242.9">KAAN</text><text x="769.2" y="243.9">EFE</text><text x="309.1" y="244.9">KAAN</text><text x="1273.7" y="244.9">EFE</text><text x="1365.1" y="245.9">HALIL</text><text x="226.7" y="246.9">YIĞIT</text><text x="300.4" y="246.9">SU</text><text x="1247.8" y="246.9">SU</text><text x="769.2" y="247.9">DEFNE</text><text x="306.1" y="248.9">EFE</text><text x="938.4" y="248.9">EMRE</text><text x="740.1" y="249.9">EFE</text><text x="1365.2" y="249.9">ALYA</text><text x="226.0" y="250.9">YÜSRA</text><text x="716.7" y="250.9">ARAS</text><text x="780.9" y="250.9">TAHA</text><text x="922.3" y="250.9">EMRE</text><text x="932.7" y="250.9">SU</text><text x="290.2" y="251.9">ALYA</text><text x="313.6" y="251.9">EFE</text><text x="726.3" y="251.9">YIĞIT</text><text x="790.1" y="251.9">YÜSRA</text><text x="898.4" y="251.9">METEHAN</text><text x="1222.1" y="251.9">HALIL</text><text x="1244.3" y="251.9">SU</text><text x="359.3" y="252.9">GÖKAY</text><text x="385.3" y="252.9">SU</text><text x="801.7" y="252.9">ALYA</text><text x="942.6" y="252.9">SU</text><text x="298.9" y="253.9">DEFNE</text><text x="776.2" y="254.9">ALYA</text><text x="1231.9" y="254.9">YÜSRA</text><text x="1365.1" y="254.9">GÖKAY</text><text x="276.0" y="255.9">ELIF</text><text x="284.4" y="255.9">SEHER</text><text x="310.5" y="255.9">ARAS</text><text x="785.0" y="255.9">YÜSRA</text><text x="827.1" y="255.9">GÖKAY</text><text x="848.2" y="255.9">ALYA</text><text x="874.2" y="255.9">EMRE</text><text x="893.5" y="255.9">ARAS</text><text x="1224.1" y="255.9">EDA</text><text x="1243.6" y="255.9">EFE</text><text x="796.9" y="256.9">ARAS</text><text x="1302.6" y="256.9">SEHER</text><text x="1336.1" y="256.9">KAAN</text><text x="247.4" y="257.9">KAAN</text><text x="758.5" y="257.9">HALIL</text><text x="942.5" y="257.9">SU</text><text x="911.1" y="259.9">KAAN</text><text x="1222.3" y="259.9">SÜLEYMAN</text><text x="1239.7" y="259.9">EDA</text><text x="748.9" y="261.9">YÜSRA</text><text x="760.5" y="263.9">GÖKAY</text><text x="911.1" y="264.9">SENA</text><text x="1272.6" y="264.9">KAAN</text><text x="748.7" y="266.9">TAHA</text><text x="758.1" y="267.9">GÖKAY</text><text x="912.3" y="268.9">EMRE</text><text x="1370.9" y="268.9">SU</text><text x="1278.5" y="269.9">SU</text><text x="746.0" y="270.9">SENA</text><text x="765.8" y="271.9">EFE</text><text x="1235.2" y="272.9">SU</text><text x="692.0" y="274.9">TAHA</text><text x="701.1" y="275.9">KAAN</text><text x="712.8" y="275.9">EDA</text><text x="767.3" y="275.9">SU</text><text x="1222.0" y="275.9">HALIL</text><text x="1246.4" y="276.9">SÜLEYMAN</text><text x="1263.9" y="276.9">ALYA</text><text x="1231.8" y="277.9">SEHER</text><text x="238.7" y="278.9">ELIF</text><text x="246.6" y="278.9">ATLAS</text><text x="1272.6" y="278.9">SU</text><text x="719.9" y="279.9">EMRE</text><text x="730.5" y="279.9">SÜLEYMAN</text><text x="911.4" y="279.9">YIĞIT</text><text x="942.8" y="279.9">SU</text><text x="711.4" y="280.9">SU</text><text x="1221.9" y="280.9">EDA</text><text x="1253.4" y="280.9">SU</text><text x="699.9" y="281.9">GÖKAY</text><text x="759.8" y="281.9">EDA</text><text x="248.6" y="282.9">KAAN</text><text x="911.4" y="283.9">SU</text><text x="238.3" y="284.9">HALIL</text><text x="686.7" y="284.9">YÜSRA</text><text x="711.8" y="284.9">SU</text><text x="942.5" y="284.9">SU</text><text x="1252.3" y="284.9">ELIF</text><text x="699.5" y="285.9">ELIF</text><text x="718.5" y="286.9">SU</text><text x="962.6" y="286.9">EDA</text><text x="972.8" y="286.9">YÜSRA</text><text x="986.0" y="286.9">GÖKAY</text><text x="1221.9" y="286.9">EFE</text><text x="249.4" y="287.9">ARAS</text><text x="910.8" y="287.9">KAAN</text><text x="707.7" y="288.9">ATLAS</text><text x="1253.3" y="288.9">EDA</text><text x="767.3" y="289.9">SU</text><text x="290.3" y="290.9">TAHA</text><text x="327.1" y="290.9">EMRE</text><text x="379.9" y="290.9">GÖKAY</text><text x="226.7" y="291.9">SU</text><text x="337.0" y="291.9">YIĞIT</text><text x="368.4" y="291.9">SENA</text><text x="680.2" y="291.9">YÜSRA</text><text x="718.0" y="291.9">KAAN</text><text x="253.6" y="292.9">ELIF</text><text x="317.5" y="292.9">ELIF</text><text x="942.6" y="292.9">YIĞIT</text><text x="954.7" y="292.9">EDA</text><text x="911.0" y="293.9">YIĞIT</text><text x="378.5" y="294.9">ALYA</text><text x="727.4" y="294.9">EFE</text><text x="757.5" y="294.9">ARAS</text><text x="291.6" y="295.9">SU</text><text x="339.3" y="295.9">EFE</text><text x="680.3" y="295.9">TAHA</text><text x="716.1" y="295.9">ELIF</text><text x="735.0" y="295.9">ATLAS</text><text x="745.6" y="295.9">TAHA</text><text x="784.4" y="295.9">ALYA</text><text x="837.8" y="295.9">YÜSRA</text><text x="861.3" y="295.9">ARAS</text><text x="849.4" y="296.9">SU</text><text x="870.6" y="296.9">EMRE</text><text x="881.3" y="296.9">SÜLEYMAN</text><text x="278.4" y="297.9">GÖKAY</text><text x="668.2" y="297.9">ALYA</text><text x="793.2" y="297.9">ARAS</text><text x="811.5" y="297.9">ALYA</text><text x="821.8" y="297.9">EMRE</text><text x="1222.4" y="297.9">ATLAS</text><text x="1290.0" y="297.9">SEHER</text><text x="1302.3" y="297.9">ARAS</text><text x="1313.0" y="297.9">DEFNE</text><text x="1327.2" y="297.9">ALYA</text><text x="1337.1" y="297.9">SU</text><text x="375.9" y="298.9">METEHAN</text><text x="689.7" y="298.9">SU</text><text x="1257.9" y="298.9">DEFNE</text><text x="292.1" y="299.9">SU</text><text x="339.4" y="299.9">SEHER</text><text x="716.2" y="299.9">ELIF</text><text x="724.5" y="299.9">DEFNE</text><text x="736.3" y="299.9">YÜSRA</text><text x="802.4" y="299.9">ELIF</text><text x="854.9" y="299.9">EFE</text><text x="861.8" y="299.9">EDA</text><text x="1356.1" y="299.9">SENA</text><text x="869.6" y="300.9">SU</text><text x="1241.8" y="300.9">ARAS</text><text x="875.4" y="301.9">ELIF</text><text x="1303.5" y="301.9">SEHER</text><text x="644.0" y="302.9">SENA</text><text x="653.7" y="303.9">ELIF</text><text x="663.1" y="303.9">SU</text><text x="735.6" y="303.9">ARAS</text><text x="1223.1" y="303.9">YIĞIT</text><text x="1359.3" y="303.9">SU</text><text x="276.1" y="304.9">ALYA</text><text x="285.6" y="304.9">GÖKAY</text><text x="687.8" y="304.9">SU</text><text x="1241.7" y="304.9">YIĞIT</text><text x="339.5" y="305.9">SEHER</text><text x="1347.4" y="305.9">DEFNE</text><text x="386.8" y="307.9">SU</text><text x="276.2" y="308.9">ATLAS</text><text x="287.5" y="308.9">HALIL</text><text x="351.0" y="308.9">EDA</text><text x="369.7" y="308.9">METEHAN</text><text x="864.5" y="308.9">SU</text><text x="236.3" y="309.9">TAHA</text><text x="716.1" y="309.9">ALYA</text><text x="1012.2" y="309.9">EFE</text><text x="1021.1" y="309.9">KAAN</text><text x="1222.2" y="309.9">KAAN</text><text x="1347.5" y="309.9">YIĞIT</text><text x="725.1" y="310.9">METEHAN</text><text x="1358.4" y="310.9">EMRE</text><text x="678.7" y="312.9">GÖKAY</text><text x="873.8" y="312.9">TAHA</text><text x="863.8" y="313.9">EFE</text><text x="946.1" y="313.9">ALYA</text><text x="975.3" y="313.9">ATLAS</text><text x="1222.0" y="313.9">EMRE</text><text x="926.8" y="314.9">SU</text><text x="985.6" y="314.9">SENA</text><text x="1365.1" y="314.9">ALYA</text><text x="995.0" y="315.9">SENA</text><text x="644.2" y="316.9">EDA</text><text x="675.0" y="316.9">SU</text><text x="871.1" y="316.9">EDA</text><text x="879.0" y="316.9">ELIF</text><text x="728.3" y="317.9">EFE</text><text x="907.3" y="317.9">ELIF</text><text x="915.7" y="317.9">SENA</text><text x="652.0" y="318.9">METEHAN</text><text x="668.9" y="318.9">SU</text><text x="735.6" y="318.9">ELIF</text><text x="947.2" y="318.9">HALIL</text><text x="1365.3" y="318.9">SENA</text><text x="994.6" y="319.9">SU</text><text x="1001.7" y="319.9">SU</text><text x="360.3" y="320.9">ALYA</text><text x="370.0" y="320.9">EFE</text><text x="379.4" y="320.9">KAAN</text><text x="621.3" y="320.9">EDA</text><text x="629.9" y="320.9">ATLAS</text><text x="642.7" y="320.9">ELIF</text><text x="1019.5" y="320.9">SENA</text><text x="1222.4" y="320.9">SU</text><text x="725.0" y="321.9">ELIF</text><text x="1029.4" y="321.9">SU</text><text x="1348.8" y="321.9">DEFNE</text><text x="651.4" y="322.9">EDA</text><text x="947.0" y="322.9">EFE</text><text x="863.9" y="323.9">ALYA</text><text x="997.2" y="323.9">EFE</text><text x="372.6" y="324.9">KAAN</text><text x="927.4" y="324.9">KAAN</text><text x="936.8" y="324.9">KAAN</text><text x="987.7" y="324.9">SENA</text><text x="1221.8" y="324.9">HALIL</text><text x="1244.3" y="324.9">SU</text><text x="1030.7" y="325.9">SU</text><text x="1349.1" y="325.9">SÜLEYMAN</text><text x="384.4" y="326.9">SU</text><text x="1231.7" y="326.9">YÜSRA</text><text x="360.2" y="327.9">ARAS</text><text x="863.5" y="327.9">HALIL</text><text x="946.1" y="327.9">ALYA</text><text x="927.7" y="328.9">METEHAN</text><text x="987.5" y="328.9">YÜSRA</text><text x="1000.7" y="328.9">SU</text><text x="889.9" y="330.9">ELIF</text><text x="908.6" y="330.9">YIĞIT</text><text x="920.2" y="330.9">EFE</text><text x="955.1" y="330.9">YIĞIT</text><text x="1241.2" y="330.9">YIĞIT</text><text x="646.2" y="333.9">ARAS</text><text x="724.8" y="333.9">HALIL</text><text x="737.7" y="333.9">SU</text><text x="385.9" y="334.9">SU</text><text x="686.5" y="334.9">ALYA</text><text x="585.6" y="335.9">MEHMETHAN</text><text x="618.1" y="335.9">GÖKAY</text><text x="655.8" y="335.9">YIĞIT</text><text x="668.6" y="335.9">SEHER</text><text x="1224.9" y="335.9">SU</text><text x="606.3" y="336.9">ALYA</text><text x="874.9" y="336.9">SU</text><text x="686.2" y="338.9">HALIL</text><text x="776.1" y="339.9">ALYA</text><text x="805.2" y="339.9">SENA</text><text x="816.7" y="339.9">SU</text><text x="846.5" y="339.9">ATLAS</text><text x="1221.9" y="339.9">SU</text><text x="751.4" y="340.9">SENA</text><text x="784.5" y="340.9">SENA</text><text x="836.2" y="340.9">SENA</text><text x="857.2" y="340.9">SU</text><text x="378.4" y="341.9">KAAN</text><text x="674.4" y="341.9">SU</text><text x="730.3" y="341.9">YIĞIT</text><text x="863.1" y="341.9">DEFNE</text><text x="369.3" y="342.9">TAHA</text><text x="739.6" y="342.9">EDA</text><text x="705.4" y="343.9">EDA</text><text x="761.2" y="343.9">METEHAN</text><text x="804.9" y="343.9">EFE</text><text x="747.8" y="344.9">SU</text><text x="754.9" y="344.9">SU</text><text x="776.5" y="344.9">GÖKAY</text><text x="920.5" y="344.9">ATLAS</text><text x="1224.3" y="344.9">SU</text><text x="223.9" y="345.9">SU</text><text x="234.9" y="345.9">SU</text><text x="830.2" y="345.9">EFE</text><text x="857.7" y="345.9">DEFNE</text><text x="870.7" y="345.9">SENA</text><text x="880.5" y="345.9">KAAN</text><text x="900.8" y="345.9">YIĞIT</text><text x="1358.2" y="345.9">ALYA</text><text x="378.3" y="346.9">SENA</text><text x="1027.8" y="346.9">SU</text><text x="1349.0" y="346.9">EFE</text><text x="672.3" y="347.9">ELIF</text><text x="1033.6" y="347.9">DEFNE</text><text x="795.6" y="348.9">ARAS</text><text x="805.7" y="348.9">SU</text><text x="1044.9" y="348.9">HALIL</text><text x="1225.3" y="348.9">SU</text><text x="545.5" y="349.9">ELIF</text><text x="565.0" y="349.9">METEHAN</text><text x="1054.8" y="349.9">YÜSRA</text><text x="224.1" y="351.9">SU</text><text x="231.4" y="351.9">SU</text><text x="672.5" y="351.9">SU</text><text x="1361.2" y="351.9">SU</text><text x="795.4" y="352.9">SU</text><text x="803.6" y="352.9">EDA</text><text x="1066.5" y="352.9">ELIF</text><text x="1222.3" y="352.9">EDA</text><text x="573.8" y="353.9">SU</text><text x="379.4" y="354.9">YIĞIT</text><text x="225.2" y="355.9">EDA</text><text x="368.1" y="355.9">EFE</text><text x="1361.4" y="355.9">SU</text><text x="233.3" y="356.9">SU</text><text x="579.6" y="356.9">SEHER</text><text x="1222.3" y="356.9">ELIF</text><text x="795.6" y="357.9">DEFNE</text><text x="852.7" y="357.9">DEFNE</text><text x="1027.6" y="357.9">YIĞIT</text><text x="672.5" y="358.9">SU</text><text x="225.7" y="359.9">EDA</text><text x="573.5" y="359.9">SU</text><text x="1359.3" y="359.9">YIĞIT</text><text x="545.7" y="360.9">YIĞIT</text><text x="557.1" y="360.9">EMRE</text><text x="579.2" y="360.9">YIĞIT</text><text x="961.6" y="360.9">SENA</text><text x="1037.0" y="360.9">SU</text><text x="1223.4" y="360.9">SU</text><text x="386.3" y="361.9">SU</text><text x="971.1" y="361.9">ATLAS</text><text x="981.4" y="362.9">KAAN</text><text x="1027.8" y="362.9">EDA</text><text x="686.3" y="363.9">SU</text><text x="795.9" y="364.9">ALYA</text><text x="575.6" y="365.9">SEHER</text><text x="1035.5" y="365.9">KAAN</text><text x="379.9" y="366.9">SU</text><text x="858.2" y="366.9">SU</text><text x="961.7" y="366.9">ALYA</text><text x="971.6" y="366.9">ARAS</text><text x="983.3" y="366.9">SU</text><text x="1361.1" y="366.9">SU</text><text x="516.1" y="367.9">ARAS</text><text x="525.8" y="367.9">SEHER</text><text x="537.3" y="367.9">SU</text><text x="805.8" y="367.9">SU</text><text x="840.2" y="367.9">ATLAS</text><text x="1028.6" y="367.9">SU</text><text x="1078.7" y="367.9">HALIL</text><text x="386.8" y="368.9">SU</text><text x="566.0" y="368.9">SU</text><text x="796.0" y="368.9">ALYA</text><text x="850.8" y="368.9">SU</text><text x="1089.3" y="368.9">ELIF</text><text x="592.8" y="369.9">TAHA</text><text x="612.3" y="369.9">YÜSRA</text><text x="1034.3" y="369.9">YIĞIT</text><text x="543.0" y="370.9">EDA</text><text x="602.1" y="370.9">ELIF</text><text x="635.6" y="370.9">SEHER</text><text x="1057.0" y="370.9">YÜSRA</text><text x="1224.4" y="370.9">SU</text><text x="650.8" y="371.9">MEHMETHAN</text><text x="804.4" y="371.9">EDA</text><text x="1043.9" y="371.9">ARAS</text><text x="1359.9" y="371.9">EDA</text><text x="550.9" y="372.9">KAAN</text><text x="1230.2" y="372.9">EMRE</text><text x="1240.7" y="372.9">SU</text><text x="225.6" y="373.9">GÖKAY</text><text x="380.1" y="373.9">SEHER</text><text x="560.3" y="373.9">YIĞIT</text><text x="1028.4" y="373.9">ELIF</text><text x="575.4" y="374.9">METEHAN</text><text x="601.9" y="374.9">YIĞIT</text><text x="1221.9" y="374.9">ELIF</text><text x="611.0" y="375.9">ATLAS</text><text x="665.0" y="375.9">SU</text><text x="795.8" y="375.9">GÖKAY</text><text x="1054.7" y="375.9">ARAS</text><text x="857.2" y="376.9">SU</text><text x="1229.8" y="376.9">SU</text><text x="1237.3" y="376.9">EFE</text><text x="1358.9" y="376.9">KAAN</text><text x="226.7" y="377.9">EMRE</text><text x="840.1" y="377.9">EMRE</text><text x="516.2" y="378.9">GÖKAY</text><text x="528.2" y="378.9">EFE</text><text x="1223.2" y="378.9">SU</text><text x="368.0" y="379.9">ARAS</text><text x="381.6" y="379.9">SU</text><text x="795.4" y="379.9">SÜLEYMAN</text><text x="614.7" y="380.9">SU</text><text x="679.4" y="380.9">ATLAS</text><text x="854.1" y="380.9">EMRE</text><text x="1358.8" y="380.9">EMRE</text><text x="225.2" y="381.9">HALIL</text><text x="235.9" y="381.9">EFE</text><text x="244.3" y="381.9">YIĞIT</text><text x="640.0" y="381.9">ELIF</text><text x="1047.4" y="381.9">HALIL</text><text x="1068.7" y="381.9">KAAN</text><text x="254.5" y="382.9">SU</text><text x="361.2" y="382.9">SU</text><text x="500.0" y="382.9">YÜSRA</text><text x="511.5" y="382.9">ELIF</text><text x="531.7" y="382.9">TAHA</text><text x="1015.9" y="382.9">METEHAN</text><text x="1369.3" y="382.9">EDA</text><text x="260.3" y="383.9">ATLAS</text><text x="271.4" y="383.9">TAHA</text><text x="282.5" y="383.9">ARAS</text><text x="292.3" y="383.9">SENA</text><text x="302.7" y="383.9">SU</text><text x="310.4" y="383.9">GÖKAY</text><text x="322.1" y="383.9">ELIF</text><text x="331.8" y="383.9">ATLAS</text><text x="353.8" y="383.9">SU</text><text x="367.3" y="383.9">ARAS</text><text x="519.9" y="383.9">YÜSRA</text><text x="1057.0" y="383.9">SEHER</text><text x="1330.7" y="383.9">ALYA</text><text x="679.0" y="384.9">GÖKAY</text><text x="796.9" y="384.9">TAHA</text><text x="852.9" y="384.9">SU</text><text x="1081.1" y="384.9">YIĞIT</text><text x="1235.3" y="384.9">HALIL</text><text x="1309.2" y="384.9">SENA</text><text x="1359.1" y="384.9">HALIL</text><text x="601.3" y="385.9">ATLAS</text><text x="613.2" y="385.9">GÖKAY</text><text x="1245.2" y="385.9">EFE</text><text x="1289.2" y="385.9">SU</text><text x="1318.5" y="385.9">TAHA</text><text x="1016.2" y="386.9">TAHA</text><text x="551.0" y="387.9">TAHA</text><text x="806.2" y="387.9">SU</text><text x="961.5" y="387.9">SU</text><text x="966.9" y="387.9">EFE</text><text x="974.3" y="387.9">ELIF</text><text x="985.2" y="387.9">SU</text><text x="1268.4" y="387.9">ATLAS</text><text x="241.2" y="388.9">GÖKAY</text><text x="676.0" y="388.9">EDA</text><text x="1358.9" y="388.9">METEHAN</text><text x="601.2" y="389.9">ALYA</text><text x="610.1" y="389.9">EDA</text><text x="617.9" y="389.9">KAAN</text><text x="795.7" y="389.9">YIĞIT</text><text x="854.0" y="389.9">SU</text><text x="1222.2" y="389.9">ELIF</text><text x="684.6" y="390.9">EFE</text><text x="1080.9" y="390.9">TAHA</text><text x="840.2" y="391.9">YÜSRA</text><text x="981.8" y="391.9">SU</text><text x="1230.4" y="391.9">ARAS</text><text x="1267.4" y="391.9">ARAS</text><text x="232.7" y="392.9">SENA</text><text x="552.3" y="392.9">YÜSRA</text><text x="675.0" y="392.9">SU</text><text x="961.6" y="392.9">HALIL</text><text x="546.4" y="393.9">SU</text><text x="601.3" y="393.9">METEHAN</text><text x="618.1" y="393.9">GÖKAY</text><text x="630.5" y="393.9">ALYA</text><text x="1017.3" y="393.9">SU</text><text x="242.4" y="394.9">ARAS</text><text x="851.9" y="394.9">SENA</text><text x="1080.9" y="394.9">YIĞIT</text><text x="252.9" y="395.9">SU</text><text x="680.6" y="395.9">ELIF</text><text x="1267.0" y="395.9">ATLAS</text><text x="1358.9" y="395.9">SEHER</text><text x="481.4" y="396.9">SU</text><text x="551.9" y="396.9">YÜSRA</text><text x="1332.6" y="396.9">DEFNE</text><text x="1344.4" y="396.9">SU</text><text x="232.3" y="397.9">HALIL</text><text x="601.3" y="397.9">ALYA</text><text x="611.3" y="397.9">SEHER</text><text x="840.2" y="397.9">EDA</text><text x="1014.4" y="397.9">ALYA</text><text x="623.7" y="398.9">SU</text><text x="809.4" y="398.9">EFE</text><text x="993.9" y="398.9">EFE</text><text x="1083.1" y="398.9">SU</text><text x="645.9" y="399.9">ALYA</text><text x="816.5" y="399.9">METEHAN</text><text x="1001.0" y="399.9">ATLAS</text><text x="1023.5" y="399.9">ATLAS</text><text x="1054.3" y="399.9">SU</text><text x="1073.6" y="399.9">EDA</text><text x="1287.9" y="399.9">GÖKAY</text><text x="243.0" y="400.9">EMRE</text><text x="549.4" y="400.9">SENA</text><text x="654.6" y="400.9">ELIF</text><text x="1034.0" y="400.9">HALIL</text><text x="1343.6" y="400.9">ALYA</text><text x="597.5" y="401.9">MEHMETHAN</text><text x="831.8" y="401.9">METEHAN</text><text x="1241.6" y="401.9">SU</text><text x="232.5" y="402.9">EDA</text><text x="618.2" y="402.9">TAHA</text><text x="795.4" y="402.9">EDA</text><text x="537.4" y="403.9">SU</text><text x="1222.2" y="403.9">GÖKAY</text><text x="1311.0" y="403.9">TAHA</text><text x="1333.6" y="403.9">EDA</text><text x="240.5" y="404.9">GÖKAY</text><text x="483.3" y="404.9">EFE</text><text x="492.8" y="404.9">SU</text><text x="549.5" y="404.9">ELIF</text><text x="852.3" y="404.9">SEHER</text><text x="252.0" y="405.9">SU</text><text x="471.7" y="405.9">EMRE</text><text x="666.2" y="405.9">SU</text><text x="973.9" y="405.9">HALIL</text><text x="1234.1" y="405.9">TAHA</text><text x="1357.7" y="405.9">HALIL</text><text x="1370.0" y="405.9">SU</text><text x="1289.2" y="406.9">ATLAS</text><text x="1340.1" y="407.9">SU</text><text x="537.7" y="408.9">SU</text><text x="549.4" y="408.9">EFE</text><text x="672.1" y="408.9">TAHA</text><text x="681.6" y="408.9">YIĞIT</text><text x="852.1" y="409.9">SEHER</text><text x="961.5" y="409.9">SENA</text><text x="971.3" y="410.9">SU</text><text x="985.5" y="410.9">METEHAN</text><text x="795.4" y="411.9">EFE</text><text x="1222.2" y="411.9">ARAS</text><text x="537.7" y="412.9">SEHER</text><text x="550.8" y="412.9">EFE</text><text x="597.8" y="414.9">SU</text><text x="665.1" y="414.9">GÖKAY</text><text x="852.2" y="414.9">SENA</text><text x="1267.7" y="414.9">DEFNE</text><text x="1096.2" y="415.9">KAAN</text><text x="1257.8" y="415.9">EDA</text><text x="575.4" y="416.9">GÖKAY</text><text x="1105.6" y="416.9">ATLAS</text><text x="1222.0" y="416.9">HALIL</text><text x="587.0" y="417.9">EFE</text><text x="1231.7" y="417.9">EDA</text><text x="537.7" y="418.9">SU</text><text x="595.7" y="418.9">EDA</text><text x="1086.7" y="418.9">HALIL</text><text x="1239.5" y="418.9">SU</text><text x="564.3" y="419.9">SU</text><text x="796.7" y="419.9">SU</text><text x="853.0" y="419.9">YIĞIT</text><text x="324.9" y="420.9">EMRE</text><text x="997.5" y="421.9">SU</text><text x="1274.4" y="421.9">SU</text><text x="679.7" y="423.9">GÖKAY</text><text x="665.2" y="424.9">DEFNE</text><text x="852.0" y="424.9">YIĞIT</text><text x="1222.0" y="424.9">EFE</text><text x="1230.7" y="424.9">TAHA</text><text x="1086.4" y="425.9">SENA</text><text x="1241.1" y="425.9">EFE</text><text x="1272.6" y="426.9">SU</text><text x="343.3" y="427.9">SENA</text><text x="367.5" y="427.9">SENA</text><text x="353.0" y="428.9">HALIL</text><text x="852.1" y="428.9">DEFNE</text><text x="303.3" y="429.9">ARAS</text><text x="445.8" y="429.9">EFE</text><text x="455.5" y="429.9">SEHER</text><text x="684.4" y="429.9">EFE</text><text x="1222.9" y="429.9">TAHA</text><text x="255.0" y="430.9">SU</text><text x="581.6" y="430.9">ARAS</text><text x="592.7" y="430.9">EDA</text><text x="666.3" y="430.9">SU</text><text x="1086.6" y="430.9">SEHER</text><text x="1106.7" y="430.9">ELIF</text><text x="1272.4" y="430.9">SU</text><text x="260.8" y="431.9">SU</text><text x="312.6" y="431.9">SEHER</text><text x="480.2" y="431.9">METEHAN</text><text x="497.2" y="431.9">ARAS</text><text x="543.1" y="432.9">YÜSRA</text><text x="1130.0" y="432.9">SU</text><text x="1336.8" y="432.9">KAAN</text><text x="554.8" y="433.9">EFE</text><text x="796.5" y="433.9">SU</text><text x="1288.2" y="433.9">SU</text><text x="1293.9" y="433.9">HALIL</text><text x="851.9" y="434.9">SEHER</text><text x="1086.5" y="434.9">ATLAS</text><text x="1222.0" y="434.9">SU</text><text x="1318.0" y="434.9">TAHA</text><text x="254.9" y="435.9">GÖKAY</text><text x="314.8" y="435.9">HALIL</text><text x="385.0" y="435.9">EFE</text><text x="480.3" y="435.9">ALYA</text><text x="562.2" y="435.9">SU</text><text x="581.4" y="435.9">MEHMETHAN</text><text x="1227.7" y="435.9">SU</text><text x="1327.1" y="435.9">HALIL</text><text x="1336.5" y="436.9">EFE</text><text x="550.7" y="437.9">EDA</text><text x="665.2" y="437.9">ATLAS</text><text x="675.5" y="437.9">SU</text><text x="985.3" y="437.9">YIĞIT</text><text x="1274.4" y="437.9">SU</text><text x="308.7" y="438.9">SU</text><text x="852.1" y="438.9">SU</text><text x="1242.7" y="438.9">SU</text><text x="1344.0" y="438.9">YIĞIT</text><text x="480.2" y="439.9">ALYA</text><text x="558.7" y="439.9">EDA</text><text x="579.9" y="439.9">KAAN</text><text x="591.4" y="439.9">KAAN</text><text x="1087.8" y="439.9">SU</text><text x="1288.0" y="439.9">METEHAN</text><text x="314.6" y="440.9">SENA</text><text x="454.7" y="440.9">YÜSRA</text><text x="566.8" y="440.9">SU</text><text x="255.0" y="441.9">SU</text><text x="291.2" y="441.9">ELIF</text><text x="299.0" y="441.9">ARAS</text><text x="532.7" y="441.9">ATLAS</text><text x="573.6" y="441.9">SU</text><text x="468.0" y="442.9">SU</text><text x="543.1" y="442.9">GÖKAY</text><text x="853.3" y="442.9">HALIL</text><text x="992.7" y="442.9">EMRE</text><text x="226.3" y="443.9">SU</text><text x="479.9" y="443.9">DEFNE</text><text x="505.4" y="443.9">YIĞIT</text><text x="593.8" y="443.9">ALYA</text><text x="797.5" y="443.9">SU</text><text x="1295.8" y="443.9">ELIF</text><text x="442.9" y="444.9">SEHER</text><text x="554.6" y="444.9">YIĞIT</text><text x="579.8" y="444.9">SENA</text><text x="1232.2" y="444.9">GÖKAY</text><text x="1304.0" y="444.9">ATLAS</text><text x="684.8" y="445.9">SU</text><text x="1222.2" y="445.9">ARAS</text><text x="1315.8" y="445.9">SU</text><text x="385.5" y="446.9">SU</text><text x="852.4" y="446.9">YÜSRA</text><text x="255.2" y="447.9">ELIF</text><text x="665.1" y="447.9">SU</text><text x="598.0" y="448.9">SU</text><text x="676.5" y="448.9">EFE</text><text x="1231.7" y="448.9">ARAS</text><text x="1288.1" y="448.9">SENA</text><text x="291.1" y="449.9">SU</text><text x="795.4" y="449.9">SU</text><text x="225.6" y="450.9">SU</text><text x="382.4" y="450.9">SU</text><text x="256.3" y="451.9">YIĞIT</text><text x="852.4" y="451.9">YÜSRA</text><text x="664.9" y="452.9">SU</text><text x="1233.5" y="452.9">SEHER</text><text x="1288.2" y="452.9">TAHA</text><text x="1087.7" y="453.9">SU</text><text x="598.3" y="455.9">SU</text><text x="291.6" y="456.9">SU</text><text x="664.8" y="456.9">ELIF</text><text x="796.8" y="456.9">SU</text><text x="1105.9" y="456.9">KAAN</text><text x="1236.1" y="456.9">ELIF</text><text x="1288.1" y="456.9">ATLAS</text><text x="225.5" y="457.9">SU</text><text x="1228.3" y="457.9">EFE</text><text x="1280.4" y="457.9">EFE</text><text x="672.9" y="458.9">ATLAS</text><text x="1298.8" y="458.9">ATLAS</text><text x="683.6" y="459.9">SU</text><text x="596.0" y="460.9">EDA</text><text x="1105.8" y="460.9">METEHAN</text><text x="1121.3" y="460.9">SEHER</text><text x="1235.4" y="460.9">SEHER</text><text x="1257.5" y="460.9">ELIF</text><text x="1288.7" y="460.9">TAHA</text><text x="255.0" y="461.9">HALIL</text><text x="1265.9" y="461.9">ALYA</text><text x="1357.0" y="461.9">YIĞIT</text><text x="385.6" y="462.9">SU</text><text x="1307.4" y="462.9">SEHER</text><text x="1371.0" y="462.9">SU</text><text x="264.7" y="463.9">ALYA</text><text x="273.8" y="463.9">MEHMETHAN</text><text x="1086.9" y="463.9">ARAS</text><text x="1275.0" y="463.9">ATLAS</text><text x="301.3" y="464.9">ALYA</text><text x="311.9" y="464.9">EMRE</text><text x="322.4" y="464.9">HALIL</text><text x="332.1" y="464.9">SEHER</text><text x="354.7" y="464.9">EMRE</text><text x="364.8" y="464.9">EMRE</text><text x="665.1" y="464.9">ATLAS</text><text x="1228.8" y="464.9">ARAS</text><text x="1336.0" y="464.9">YIĞIT</text><text x="1347.5" y="464.9">KAAN</text><text x="375.6" y="465.9">SENA</text><text x="595.3" y="465.9">ELIF</text><text x="1356.9" y="465.9">SU</text><text x="227.6" y="466.9">SU</text><text x="795.6" y="466.9">EFE</text><text x="1122.7" y="466.9">GÖKAY</text><text x="1237.8" y="466.9">EMRE</text><text x="677.9" y="467.9">YIĞIT</text><text x="985.1" y="467.9">EMRE</text><text x="1096.7" y="468.9">SU</text><text x="378.1" y="469.9">EMRE</text><text x="665.1" y="469.9">ATLAS</text><text x="596.9" y="470.9">SU</text><text x="795.6" y="470.9">EFE</text><text x="1086.7" y="470.9">ALYA</text><text x="1122.3" y="470.9">HALIL</text><text x="675.9" y="471.9">ATLAS</text><text x="234.7" y="472.9">YIĞIT</text><text x="245.7" y="472.9">YIĞIT</text><text x="1244.6" y="472.9">SU</text><text x="378.2" y="473.9">SU</text><text x="386.0" y="474.9">SU</text><text x="596.0" y="474.9">EFE</text><text x="664.9" y="474.9">EFE</text><text x="851.8" y="474.9">DEFNE</text><text x="1086.8" y="474.9">TAHA</text><text x="672.2" y="475.9">MEHMETHAN</text><text x="1222.0" y="475.9">SÜLEYMAN</text><text x="240.0" y="476.9">DEFNE</text><text x="252.0" y="476.9">ELIF</text><text x="985.1" y="476.9">HALIL</text><text x="1118.4" y="476.9">ATLAS</text><text x="995.0" y="477.9">ELIF</text><text x="1241.7" y="477.9">SU</text><text x="1371.0" y="477.9">SU</text><text x="796.4" y="478.9">SU</text><text x="852.2" y="478.9">GÖKAY</text><text x="1086.6" y="478.9">SENA</text><text x="595.9" y="479.9">SU</text><text x="684.7" y="479.9">EFE</text><text x="664.9" y="480.9">SU</text><text x="1096.2" y="480.9">ATLAS</text><text x="1109.0" y="480.9">HALIL</text><text x="995.4" y="481.9">ELIF</text><text x="1118.8" y="481.9">SEHER</text><text x="852.3" y="482.9">EFE</text><text x="989.2" y="482.9">SU</text><text x="1086.4" y="482.9">EDA</text><text x="386.7" y="485.9">SU</text><text x="684.5" y="485.9">SU</text><text x="1094.3" y="485.9">SU</text><text x="1222.2" y="485.9">EDA</text><text x="377.3" y="486.9">ARAS</text><text x="852.2" y="486.9">DEFNE</text><text x="994.9" y="486.9">ELIF</text><text x="1086.3" y="486.9">EFE</text><text x="1370.3" y="488.9">SU</text><text x="683.7" y="489.9">ELIF</text><text x="1095.8" y="489.9">SU</text><text x="674.0" y="490.9">ARAS</text><text x="988.3" y="490.9">HALIL</text><text x="359.9" y="491.9">EMRE</text><text x="795.3" y="491.9">EFE</text><text x="1087.5" y="491.9">SU</text><text x="379.7" y="492.9">EMRE</text><text x="595.3" y="493.9">SU</text><text x="1223.1" y="493.9">EFE</text><text x="685.3" y="494.9">SU</text><text x="1093.7" y="494.9">ARAS</text><text x="1104.5" y="494.9">TAHA</text><text x="1113.3" y="494.9">MEHMETHAN</text><text x="665.3" y="495.9">SEHER</text><text x="381.0" y="496.9">ELIF</text><text x="795.5" y="496.9">EFE</text><text x="852.2" y="496.9">EMRE</text><text x="990.0" y="496.9">SU</text><text x="1349.1" y="496.9">ELIF</text><text x="998.5" y="497.9">SU</text><text x="677.3" y="498.9">TAHA</text><text x="665.3" y="499.9">ELIF</text><text x="961.4" y="499.9">KAAN</text><text x="1117.4" y="499.9">SU</text><text x="1125.7" y="499.9">SU</text><text x="595.9" y="500.9">SU</text><text x="971.0" y="500.9">SU</text><text x="1222.0" y="501.9">ELIF</text><text x="796.4" y="502.9">SU</text><text x="852.1" y="502.9">YIĞIT</text><text x="1117.4" y="503.9">EDA</text><text x="1126.9" y="503.9">SU</text><text x="360.1" y="504.9">METEHAN</text><text x="685.8" y="504.9">SU</text><text x="796.4" y="506.9">EFE</text><text x="1107.0" y="506.9">ALYA</text><text x="1224.1" y="506.9">SU</text><text x="595.0" y="507.9">EFE</text><text x="1093.5" y="507.9">KAAN</text><text x="379.9" y="508.9">ELIF</text><text x="1115.6" y="508.9">SU</text><text x="852.0" y="509.9">EDA</text><text x="1087.7" y="509.9">SU</text><text x="1370.5" y="509.9">SU</text><text x="665.3" y="510.9">YÜSRA</text><text x="1222.2" y="510.9">SU</text><text x="596.2" y="511.9">ELIF</text><text x="677.1" y="511.9">ARAS</text><text x="795.3" y="511.9">EFE</text><text x="998.7" y="511.9">SU</text><text x="1104.2" y="513.9">SU</text><text x="561.9" y="514.9">YIĞIT</text><text x="976.5" y="514.9">METEHAN</text><text x="1349.0" y="514.9">SENA</text><text x="1358.7" y="514.9">DEFNE</text><text x="516.5" y="515.9">ARAS</text><text x="546.3" y="515.9">SU</text><text x="580.5" y="515.9">EFE</text><text x="961.6" y="515.9">ELIF</text><text x="1225.1" y="515.9">SU</text><text x="442.7" y="516.9">DEFNE</text><text x="455.4" y="516.9">YIĞIT</text><text x="665.1" y="516.9">YIĞIT</text><text x="674.6" y="517.9">KAAN</text><text x="852.0" y="518.9">SENA</text><text x="1349.1" y="518.9">TAHA</text><text x="1359.6" y="518.9">EFE</text><text x="1371.0" y="518.9">SU</text><text x="961.7" y="519.9">EMRE</text><text x="1114.5" y="519.9">EDA</text><text x="360.9" y="520.9">SU</text><text x="502.1" y="520.9">SEHER</text><text x="665.1" y="520.9">SU</text><text x="1122.6" y="520.9">SENA</text><text x="1222.0" y="520.9">EDA</text><text x="455.8" y="521.9">SENA</text><text x="380.7" y="522.9">GÖKAY</text><text x="851.9" y="522.9">HALIL</text><text x="971.8" y="522.9">YIĞIT</text><text x="961.7" y="523.9">YIĞIT</text><text x="439.7" y="524.9">ELIF</text><text x="797.8" y="524.9">SU</text><text x="1224.1" y="524.9">SU</text><text x="361.0" y="525.9">EFE</text><text x="664.9" y="526.9">SU</text><text x="971.3" y="526.9">HALIL</text><text x="386.4" y="527.9">SU</text><text x="965.8" y="527.9">SU</text><text x="685.8" y="528.9">SU</text><text x="852.1" y="528.9">SU</text><text x="670.7" y="529.9">ARAS</text><text x="1356.7" y="529.9">EFE</text><text x="971.4" y="530.9">KAAN</text><text x="1086.6" y="530.9">EMRE</text><text x="1221.9" y="530.9">SU</text><text x="1364.1" y="530.9">KAAN</text><text x="384.9" y="531.9">SU</text><text x="797.8" y="531.9">SU</text><text x="224.1" y="532.9">ALYA</text><text x="361.1" y="532.9">SU</text><text x="963.3" y="532.9">EFE</text><text x="1128.2" y="533.9">EFE</text><text x="1275.7" y="533.9">GÖKAY</text><text x="1343.2" y="533.9">SU</text><text x="233.7" y="534.9">ARAS</text><text x="1362.6" y="534.9">KAAN</text><text x="266.0" y="535.9">EMRE</text><text x="319.6" y="535.9">METEHAN</text><text x="381.7" y="535.9">SENA</text><text x="797.7" y="535.9">SU</text><text x="1247.0" y="535.9">ARAS</text><text x="276.1" y="536.9">EDA</text><text x="311.2" y="536.9">EFE</text><text x="336.0" y="537.9">KAAN</text><text x="666.2" y="537.9">SU</text><text x="971.6" y="537.9">ARAS</text><text x="1128.2" y="537.9">SENA</text><text x="1222.1" y="537.9">SU</text><text x="225.1" y="538.9">YÜSRA</text><text x="961.6" y="538.9">YIĞIT</text><text x="283.9" y="539.9">SU</text><text x="318.9" y="539.9">TAHA</text><text x="380.7" y="539.9">EDA</text><text x="980.9" y="539.9">SU</text><text x="1227.6" y="539.9">EMRE</text><text x="1262.6" y="539.9">EFE</text><text x="448.1" y="540.9">TAHA</text><text x="484.3" y="540.9">ARAS</text><text x="671.9" y="540.9">DEFNE</text><text x="686.2" y="540.9">SU</text><text x="853.0" y="540.9">EMRE</text><text x="1086.8" y="540.9">ALYA</text><text x="1097.7" y="540.9">METEHAN</text><text x="1358.5" y="540.9">METEHAN</text><text x="265.9" y="541.9">KAAN</text><text x="439.7" y="541.9">EFE</text><text x="467.0" y="541.9">SU</text><text x="795.8" y="541.9">SU</text><text x="974.1" y="541.9">SU</text><text x="1237.6" y="541.9">ATLAS</text><text x="961.7" y="542.9">SEHER</text><text x="1274.9" y="542.9">EFE</text><text x="493.4" y="543.9">SU</text><text x="665.2" y="543.9">SU</text><text x="1248.0" y="543.9">HALIL</text><text x="852.1" y="544.9">EDA</text><text x="1086.6" y="544.9">EFE</text><text x="1095.9" y="544.9">MEHMETHAN</text><text x="1221.9" y="544.9">EMRE</text><text x="797.5" y="545.9">SU</text><text x="1285.3" y="545.9">SU</text><text x="1339.1" y="545.9">SEHER</text><text x="1351.4" y="545.9">MEHMETHAN</text><text x="266.1" y="546.9">SU</text><text x="340.3" y="546.9">SU</text><text x="381.0" y="547.9">ALYA</text><text x="571.0" y="547.9">ALYA</text><text x="594.5" y="547.9">ARAS</text><text x="677.1" y="547.9">SEHER</text><text x="1243.7" y="547.9">TAHA</text><text x="1255.2" y="547.9">SU</text><text x="558.2" y="548.9">EDA</text><text x="665.1" y="548.9">SEHER</text><text x="852.0" y="548.9">EMRE</text><text x="1086.5" y="548.9">KAAN</text><text x="1097.0" y="548.9">EDA</text><text x="1118.2" y="548.9">EFE</text><text x="795.3" y="549.9">EFE</text><text x="1104.3" y="549.9">EFE</text><text x="1125.7" y="549.9">ATLAS</text><text x="226.2" y="550.9">EDA</text><text x="1277.8" y="550.9">GÖKAY</text><text x="234.3" y="551.9">SU</text><text x="282.0" y="551.9">EDA</text><text x="676.5" y="551.9">METEHAN</text><text x="1112.9" y="551.9">SU</text><text x="1315.6" y="551.9">SU</text><text x="852.2" y="552.9">ARAS</text><text x="1086.6" y="552.9">YÜSRA</text><text x="1244.8" y="552.9">SU</text><text x="557.8" y="553.9">EFE</text><text x="795.4" y="553.9">EDA</text><text x="1098.2" y="553.9">SENA</text><text x="1118.4" y="553.9">SU</text><text x="1124.8" y="553.9">SENA</text><text x="1222.2" y="553.9">YIĞIT</text><text x="665.3" y="554.9">EMRE</text><text x="961.8" y="554.9">KAAN</text><text x="973.4" y="554.9">DEFNE</text><text x="234.5" y="555.9">SU</text><text x="1107.8" y="555.9">KAAN</text><text x="1277.6" y="555.9">EDA</text><text x="224.1" y="556.9">SENA</text><text x="852.2" y="556.9">SU</text><text x="557.0" y="557.9">METEHAN</text><text x="674.8" y="557.9">DEFNE</text><text x="1131.2" y="557.9">ELIF</text><text x="1222.2" y="557.9">EFE</text><text x="476.6" y="558.9">SU</text><text x="595.3" y="558.9">EDA</text><text x="665.1" y="558.9">ELIF</text><text x="970.9" y="558.9">EFE</text><text x="1086.9" y="558.9">ALYA</text><text x="1118.4" y="558.9">DEFNE</text><text x="233.7" y="559.9">EFE</text><text x="319.3" y="559.9">DEFNE</text><text x="512.0" y="559.9">SU</text><text x="572.8" y="559.9">SU</text><text x="1279.7" y="559.9">SU</text><text x="1336.4" y="559.9">ELIF</text><text x="1362.4" y="559.9">SENA</text><text x="281.8" y="560.9">ELIF</text><text x="446.3" y="560.9">KAAN</text><text x="456.6" y="560.9">YIĞIT</text><text x="795.4" y="560.9">SU</text><text x="979.3" y="560.9">SU</text><text x="563.8" y="561.9">TAHA</text><text x="466.3" y="562.9">ARAS</text><text x="665.0" y="562.9">EFE</text><text x="226.4" y="563.9">METEHAN</text><text x="558.2" y="563.9">SU</text><text x="1223.2" y="563.9">SU</text><text x="1336.6" y="563.9">ALYA</text><text x="596.6" y="564.9">SU</text><text x="278.2" y="566.9">SU</text><text x="340.7" y="566.9">GÖKAY</text><text x="375.8" y="566.9">SENA</text><text x="796.8" y="566.9">SU</text><text x="226.2" y="567.9">TAHA</text><text x="386.5" y="567.9">SU</text><text x="557.1" y="567.9">ELIF</text><text x="352.8" y="568.9">EMRE</text><text x="595.5" y="568.9">SU</text><text x="666.3" y="568.9">SU</text><text x="1107.0" y="568.9">EDA</text><text x="328.5" y="569.9">YÜSRA</text><text x="971.3" y="569.9">YÜSRA</text><text x="1128.1" y="569.9">ATLAS</text><text x="1221.9" y="569.9">MEHMETHAN</text><text x="373.0" y="570.9">EFE</text><text x="1250.5" y="570.9">DEFNE</text><text x="1262.3" y="570.9">METEHAN</text><text x="362.4" y="571.9">HALIL</text><text x="380.9" y="572.9">SEHER</text><text x="558.3" y="572.9">ELIF</text><text x="664.9" y="572.9">KAAN</text><text x="1086.5" y="572.9">SEHER</text><text x="1100.6" y="572.9">ALYA</text><text x="1243.7" y="572.9">SU</text><text x="1294.7" y="572.9">ELIF</text><text x="1304.5" y="572.9">YIĞIT</text><text x="277.0" y="573.9">SU</text><text x="1109.5" y="573.9">ARAS</text><text x="1221.8" y="573.9">DEFNE</text><text x="1277.9" y="573.9">SÜLEYMAN</text><text x="329.5" y="574.9">EMRE</text><text x="371.9" y="574.9">SU</text><text x="576.6" y="574.9">EDA</text><text x="584.9" y="574.9">EMRE</text><text x="1233.3" y="574.9">SU</text><text x="360.3" y="575.9">ELIF</text><text x="1119.0" y="575.9">YÜSRA</text><text x="1249.4" y="575.9">DEFNE</text><text x="595.0" y="576.9">ELIF</text><text x="852.2" y="576.9">YÜSRA</text><text x="1086.7" y="576.9">EMRE</text><text x="1238.9" y="576.9">SENA</text><text x="1295.2" y="576.9">ATLAS</text><text x="1307.8" y="576.9">ARAS</text><text x="288.6" y="577.9">ELIF</text><text x="962.4" y="577.9">SU</text><text x="275.3" y="578.9">ALYA</text><text x="465.5" y="578.9">GÖKAY</text><text x="490.0" y="578.9">MEHMETHAN</text><text x="510.0" y="578.9">ELIF</text><text x="968.2" y="578.9">EFE</text><text x="1096.7" y="578.9">METEHAN</text><text x="665.3" y="579.9">SU</text><text x="795.6" y="579.9">SU</text><text x="1115.1" y="579.9">ARAS</text><text x="478.0" y="580.9">DEFNE</text><text x="1125.8" y="580.9">SU</text><text x="1247.1" y="580.9">SEHER</text><text x="300.2" y="581.9">SENA</text><text x="598.2" y="581.9">SU</text><text x="1322.5" y="581.9">ATLAS</text><text x="1360.1" y="581.9">GÖKAY</text><text x="501.1" y="582.9">YÜSRA</text><text x="671.4" y="582.9">SENA</text><text x="1312.2" y="582.9">EDA</text><text x="1344.9" y="582.9">EMRE</text><text x="1116.3" y="583.9">ALYA</text><text x="1333.4" y="583.9">ALYA</text><text x="681.1" y="584.9">ALYA</text><text x="1248.0" y="584.9">YÜSRA</text><text x="471.8" y="585.9">SÜLEYMAN</text><text x="597.9" y="585.9">SU</text><text x="852.3" y="585.9">YÜSRA</text><text x="1320.0" y="585.9">ELIF</text><text x="1355.3" y="585.9">ARAS</text><text x="275.0" y="586.9">SU</text><text x="501.2" y="586.9">GÖKAY</text><text x="796.8" y="586.9">SU</text><text x="998.6" y="586.9">SU</text><text x="1114.8" y="587.9">METEHAN</text><text x="1364.7" y="587.9">HALIL</text><text x="282.9" y="588.9">ARAS</text><text x="665.9" y="588.9">SU</text><text x="360.1" y="589.9">HALIL</text><text x="371.5" y="589.9">ALYA</text><text x="380.8" y="589.9">ELIF</text><text x="588.9" y="589.9">DEFNE</text><text x="852.1" y="589.9">KAAN</text><text x="1086.4" y="589.9">EDA</text><text x="1096.4" y="589.9">METEHAN</text><text x="502.1" y="590.9">EDA</text><text x="556.9" y="590.9">HALIL</text><text x="1247.1" y="590.9">TAHA</text><text x="1333.5" y="590.9">ELIF</text><text x="492.7" y="591.9">KAAN</text><text x="511.0" y="591.9">SU</text><text x="1288.4" y="592.9">YÜSRA</text><text x="1302.4" y="592.9">DEFNE</text><text x="1359.9" y="592.9">SENA</text><text x="261.3" y="594.9">SU</text><text x="471.4" y="594.9">DEFNE</text><text x="665.1" y="594.9">KAAN</text><text x="675.9" y="594.9">ATLAS</text><text x="1125.8" y="594.9">SU</text><text x="1247.0" y="594.9">KAAN</text><text x="1315.4" y="594.9">TAHA</text><text x="1325.3" y="594.9">EMRE</text><text x="500.8" y="595.9">EDA</text><text x="797.6" y="595.9">SU</text><text x="1086.5" y="595.9">SU</text><text x="1268.9" y="595.9">KAAN</text><text x="482.6" y="596.9">DEFNE</text><text x="508.4" y="596.9">KAAN</text><text x="367.8" y="597.9">MEHMETHAN</text><text x="360.9" y="598.9">SU</text><text x="665.1" y="598.9">HALIL</text><text x="1111.6" y="598.9">SU</text><text x="1256.3" y="598.9">KAAN</text><text x="1324.8" y="598.9">ATLAS</text><text x="272.9" y="599.9">DEFNE</text><text x="471.8" y="599.9">ALYA</text><text x="494.2" y="599.9">GÖKAY</text><text x="593.5" y="599.9">ATLAS</text><text x="674.7" y="599.9">EMRE</text><text x="795.8" y="599.9">SU</text><text x="262.9" y="600.9">SU</text><text x="295.7" y="600.9">SU</text><text x="557.0" y="600.9">EDA</text><text x="961.7" y="600.9">ATLAS</text><text x="974.5" y="600.9">TAHA</text><text x="1340.5" y="600.9">DEFNE</text><text x="1303.6" y="601.9">TAHA</text><text x="665.1" y="602.9">ELIF</text><text x="1094.8" y="602.9">MEHMETHAN</text><text x="481.2" y="603.9">SÜLEYMAN</text><text x="795.8" y="603.9">SU</text><text x="1315.3" y="603.9">SU</text><text x="857.9" y="604.9">SU</text><text x="961.8" y="604.9">YIĞIT</text><text x="971.5" y="604.9">ALYA</text><text x="471.7" y="605.9">TAHA</text><text x="557.0" y="605.9">EFE</text><text x="1340.6" y="605.9">ALYA</text><text x="1086.4" y="606.9">DEFNE</text><text x="493.1" y="607.9">EDA</text><text x="292.7" y="608.9">YIĞIT</text><text x="355.7" y="608.9">SU</text><text x="564.8" y="608.9">SU</text><text x="961.8" y="608.9">SEHER</text><text x="1303.5" y="608.9">GÖKAY</text><text x="345.4" y="609.9">TAHA</text><text x="473.6" y="609.9">SU</text><text x="556.9" y="609.9">EFE</text><text x="664.9" y="609.9">HALIL</text><text x="1247.1" y="609.9">KAAN</text><text x="1280.8" y="609.9">ATLAS</text><text x="373.5" y="610.9">SU</text><text x="674.8" y="610.9">SENA</text><text x="796.4" y="610.9">SU</text><text x="1086.8" y="610.9">SU</text><text x="379.0" y="611.9">SENA</text><text x="684.4" y="611.9">EFE</text><text x="586.1" y="612.9">EDA</text><text x="961.8" y="612.9">YÜSRA</text><text x="976.8" y="612.9">YIĞIT</text><text x="998.5" y="612.9">SU</text><text x="360.0" y="613.9">EMRE</text><text x="665.3" y="613.9">SENA</text><text x="676.2" y="614.9">SU</text><text x="1087.8" y="614.9">SU</text><text x="852.1" y="615.9">TAHA</text><text x="486.0" y="616.9">GÖKAY</text><text x="961.8" y="616.9">ALYA</text><text x="970.6" y="616.9">ELIF</text><text x="980.5" y="616.9">SU</text><text x="1349.1" y="616.9">EFE</text><text x="360.0" y="617.9">GÖKAY</text><text x="684.6" y="617.9">SU</text><text x="795.5" y="617.9">EDA</text><text x="486.3" y="620.9">KAAN</text><text x="665.3" y="620.9">SU</text><text x="968.9" y="620.9">SÜLEYMAN</text><text x="360.4" y="621.9">SU</text><text x="366.0" y="621.9">SU</text><text x="1351.9" y="621.9">SU</text><text x="371.5" y="622.9">SENA</text><text x="598.0" y="622.9">SU</text><text x="1086.5" y="622.9">SU</text><text x="683.9" y="623.9">SU</text><text x="852.3" y="623.9">SENA</text><text x="486.2" y="624.9">ALYA</text><text x="570.4" y="624.9">SU</text><text x="226.5" y="625.9">METEHAN</text><text x="495.2" y="625.9">SU</text><text x="1348.8" y="625.9">EFE</text><text x="557.2" y="626.9">EMRE</text><text x="597.4" y="626.9">SU</text><text x="665.3" y="626.9">ATLAS</text><text x="795.6" y="626.9">SU</text><text x="852.1" y="627.9">ALYA</text><text x="1086.6" y="627.9">HALIL</text><text x="1096.1" y="627.9">METEHAN</text><text x="567.2" y="628.9">ATLAS</text><text x="980.7" y="628.9">SU</text><text x="225.6" y="629.9">GÖKAY</text><text x="486.0" y="629.9">ELIF</text><text x="596.5" y="630.9">EFE</text><text x="968.5" y="630.9">ATLAS</text><text x="852.4" y="631.9">ARAS</text><text x="796.4" y="632.9">SU</text><text x="981.6" y="632.9">EDA</text><text x="989.7" y="632.9">ATLAS</text><text x="962.8" y="633.9">SU</text><text x="224.9" y="634.9">YÜSRA</text><text x="1128.3" y="635.9">SU</text><text x="852.3" y="636.9">SU</text><text x="981.6" y="636.9">ELIF</text><text x="990.7" y="636.9">EMRE</text><text x="1087.8" y="636.9">SU</text><text x="1115.2" y="636.9">ATLAS</text><text x="363.0" y="637.9">SU</text><text x="681.3" y="638.9">ALYA</text><text x="795.5" y="638.9">EFE</text><text x="1093.5" y="639.9">KAAN</text><text x="1358.7" y="639.9">ARAS</text><text x="852.2" y="640.9">TAHA</text><text x="983.6" y="640.9">TAHA</text><text x="1350.2" y="640.9">EFE</text><text x="993.1" y="641.9">YIĞIT</text><text x="1087.8" y="642.9">SU</text><text x="381.7" y="643.9">EFE</text><text x="486.0" y="643.9">ELIF</text><text x="361.3" y="644.9">SU</text><text x="852.0" y="644.9">DEFNE</text><text x="1093.6" y="644.9">HALIL</text><text x="1349.1" y="645.9">HALIL</text><text x="379.9" y="647.9">ATLAS</text><text x="597.9" y="647.9">SU</text><text x="486.3" y="648.9">SU</text><text x="666.1" y="648.9">SU</text><text x="795.3" y="648.9">EFE</text><text x="851.8" y="648.9">ELIF</text><text x="963.4" y="648.9">SU</text><text x="981.3" y="648.9">SU</text><text x="1098.3" y="648.9">SU</text><text x="372.0" y="649.9">EFE</text><text x="1086.3" y="649.9">EFE</text><text x="1348.9" y="649.9">SEHER</text><text x="724.0" y="651.9">MEHMETHAN</text><text x="752.2" y="651.9">SENA</text><text x="778.5" y="651.9">SENA</text><text x="986.9" y="651.9">METEHAN</text><text x="587.1" y="652.9">EFE</text><text x="595.5" y="652.9">SU</text><text x="666.2" y="652.9">EDA</text><text x="689.9" y="652.9">SU</text><text x="713.7" y="652.9">YIĞIT</text><text x="788.1" y="652.9">YÜSRA</text><text x="962.8" y="652.9">SU</text><text x="1093.6" y="652.9">SENA</text><text x="1105.4" y="652.9">ATLAS</text><text x="557.2" y="653.9">ALYA</text><text x="852.0" y="653.9">ELIF</text><text x="1116.2" y="653.9">ELIF</text><text x="248.7" y="654.9">ELIF</text><text x="1349.2" y="654.9">KAAN</text><text x="239.2" y="655.9">KAAN</text><text x="486.0" y="655.9">ELIF</text><text x="723.1" y="655.9">ALYA</text><text x="751.9" y="655.9">YIĞIT</text><text x="781.8" y="655.9">SU</text><text x="977.9" y="655.9">ATLAS</text><text x="688.1" y="656.9">KAAN</text><text x="787.5" y="656.9">EDA</text><text x="1126.4" y="656.9">SU</text><text x="510.3" y="657.9">ELIF</text><text x="563.4" y="657.9">HALIL</text><text x="574.4" y="657.9">EMRE</text><text x="586.3" y="657.9">EFE</text><text x="596.2" y="657.9">SU</text><text x="732.0" y="657.9">ELIF</text><text x="1096.5" y="657.9">SENA</text><text x="1107.8" y="657.9">EDA</text><text x="1116.9" y="657.9">SU</text><text x="666.3" y="658.9">SU</text><text x="759.8" y="659.9">ATLAS</text><text x="1122.7" y="660.9">ELIF</text><text x="508.8" y="661.9">ALYA</text><text x="557.9" y="661.9">SU</text><text x="597.2" y="661.9">SU</text><text x="852.9" y="661.9">EMRE</text><text x="1087.5" y="661.9">SU</text><text x="1349.3" y="661.9">SU</text><text x="665.3" y="663.9">SU</text><text x="752.0" y="663.9">EDA</text><text x="760.3" y="663.9">EFE</text><text x="1120.0" y="664.9">TAHA</text><text x="486.9" y="665.9">SU</text><text x="594.9" y="665.9">EDA</text><text x="852.0" y="665.9">SEHER</text><text x="1087.4" y="665.9">SU</text><text x="1222.0" y="666.9">ELIF</text><text x="1231.6" y="666.9">YÜSRA</text><text x="503.6" y="667.9">EMRE</text><text x="665.1" y="667.9">SU</text><text x="755.9" y="667.9">EMRE</text><text x="1349.1" y="667.9">DEFNE</text><text x="239.1" y="668.9">TAHA</text><text x="493.3" y="668.9">EMRE</text><text x="771.6" y="668.9">GÖKAY</text><text x="1120.3" y="668.9">SU</text><text x="248.3" y="669.9">HALIL</text><text x="485.9" y="669.9">EFE</text><text x="743.8" y="669.9">ELIF</text><text x="783.2" y="669.9">GÖKAY</text><text x="852.4" y="669.9">TAHA</text><text x="961.4" y="669.9">HALIL</text><text x="688.1" y="670.9">SU</text><text x="732.0" y="670.9">YÜSRA</text><text x="1126.2" y="670.9">EMRE</text><text x="584.6" y="671.9">HALIL</text><text x="597.3" y="671.9">SU</text><text x="240.0" y="672.9">SU</text><text x="1092.9" y="672.9">METEHAN</text><text x="1110.5" y="672.9">ARAS</text><text x="1222.9" y="672.9">EFE</text><text x="1349.1" y="672.9">YÜSRA</text><text x="557.3" y="673.9">TAHA</text><text x="775.6" y="673.9">MEHMETHAN</text><text x="794.9" y="673.9">EFE</text><text x="852.1" y="673.9">SEHER</text><text x="486.1" y="674.9">HALIL</text><text x="498.6" y="674.9">SU</text><text x="239.1" y="676.9">SU</text><text x="593.8" y="676.9">EDA</text><text x="666.2" y="676.9">SU</text><text x="1224.4" y="676.9">SU</text><text x="512.3" y="677.9">SU</text><text x="775.8" y="677.9">SU</text><text x="784.1" y="677.9">YIĞIT</text><text x="998.6" y="677.9">SU</text><text x="1113.6" y="678.9">EFE</text><text x="1229.9" y="678.9">KAAN</text><text x="1238.8" y="678.9">ELIF</text><text x="556.9" y="679.9">ELIF</text><text x="794.5" y="679.9">YIĞIT</text><text x="852.2" y="679.9">EMRE</text><text x="255.0" y="680.9">SU</text><text x="770.3" y="680.9">SU</text><text x="776.2" y="681.9">ATLAS</text><text x="485.9" y="682.9">DEFNE</text><text x="786.5" y="683.9">ALYA</text><text x="851.9" y="683.9">EMRE</text><text x="1350.1" y="683.9">SU</text><text x="573.2" y="684.9">TAHA</text><text x="998.6" y="684.9">SU</text><text x="1369.7" y="684.9">SU</text><text x="332.5" y="685.9">EMRE</text><text x="583.8" y="685.9">SU</text><text x="724.7" y="685.9">SU</text><text x="761.1" y="685.9">ARAS</text><text x="278.7" y="686.9">SU</text><text x="310.1" y="686.9">ALYA</text><text x="488.3" y="686.9">SU</text><text x="557.1" y="686.9">SU</text><text x="665.2" y="686.9">ELIF</text><text x="770.9" y="686.9">ALYA</text><text x="239.3" y="687.9">ATLAS</text><text x="711.4" y="687.9">DEFNE</text><text x="1257.6" y="687.9">EDA</text><text x="1265.5" y="687.9">GÖKAY</text><text x="1279.4" y="687.9">EDA</text><text x="1287.5" y="687.9">ARAS</text><text x="1299.5" y="687.9">SENA</text><text x="1341.0" y="687.9">ALYA</text><text x="572.8" y="688.9">ELIF</text><text x="688.6" y="688.9">TAHA</text><text x="730.6" y="688.9">ARAS</text><text x="741.2" y="688.9">SÜLEYMAN</text><text x="779.7" y="688.9">TAHA</text><text x="789.3" y="688.9">TAHA</text><text x="852.0" y="688.9">DEFNE</text><text x="1350.4" y="688.9">EMRE</text><text x="284.6" y="689.9">KAAN</text><text x="1311.7" y="689.9">TAHA</text><text x="343.2" y="690.9">SÜLEYMAN</text><text x="998.7" y="690.9">SU</text><text x="1113.5" y="690.9">SU</text><text x="485.9" y="691.9">SU</text><text x="557.2" y="691.9">SU</text><text x="583.1" y="691.9">METEHAN</text><text x="359.8" y="692.9">HALIL</text><text x="491.6" y="692.9">ATLAS</text><text x="665.1" y="692.9">YÜSRA</text><text x="796.2" y="692.9">SU</text><text x="1257.4" y="692.9">DEFNE</text><text x="239.2" y="693.9">ARAS</text><text x="278.6" y="693.9">SÜLEYMAN</text><text x="326.1" y="693.9">SU</text><text x="676.4" y="693.9">SU</text><text x="852.1" y="693.9">YIĞIT</text><text x="1310.7" y="693.9">HALIL</text><text x="304.8" y="694.9">ARAS</text><text x="347.6" y="694.9">SU</text><text x="501.8" y="694.9">ELIF</text><text x="509.7" y="694.9">SU</text><text x="682.9" y="694.9">EDA</text><text x="997.5" y="694.9">SU</text><text x="248.9" y="695.9">ALYA</text><text x="271.2" y="695.9">SU</text><text x="1086.7" y="695.9">SU</text><text x="226.4" y="696.9">ELIF</text><text x="486.3" y="696.9">SEHER</text><text x="556.9" y="696.9">SU</text><text x="673.4" y="697.9">EDA</text><text x="998.6" y="698.9">SU</text><text x="1310.4" y="698.9">EFE</text><text x="1342.5" y="698.9">HALIL</text><text x="501.1" y="699.9">SENA</text><text x="852.3" y="699.9">GÖKAY</text><text x="1113.3" y="699.9">ELIF</text><text x="1087.6" y="700.9">SU</text><text x="1120.9" y="700.9">SENA</text><text x="796.0" y="701.9">SU</text><text x="1365.1" y="701.9">KAAN</text><text x="385.2" y="702.9">EFE</text><text x="225.5" y="703.9">ALYA</text><text x="501.2" y="704.9">YÜSRA</text><text x="558.2" y="704.9">SU</text><text x="852.0" y="704.9">SENA</text><text x="1365.1" y="705.9">YIĞIT</text><text x="483.2" y="706.9">SENA</text><text x="494.7" y="706.9">SU</text><text x="796.3" y="706.9">EFE</text><text x="363.0" y="707.9">TAHA</text><text x="1087.6" y="707.9">SU</text><text x="507.5" y="709.9">TAHA</text><text x="852.0" y="709.9">EMRE</text><text x="1278.5" y="709.9">SU</text><text x="1364.8" y="709.9">DEFNE</text><text x="225.3" y="710.9">EFE</text><text x="588.5" y="710.9">HALIL</text><text x="1120.1" y="710.9">SENA</text><text x="364.2" y="711.9">SU</text><text x="797.3" y="712.9">SU</text><text x="1113.5" y="712.9">SU</text><text x="1129.8" y="712.9">TAHA</text><text x="1087.8" y="713.9">SU</text><text x="588.6" y="714.9">TAHA</text><text x="1365.5" y="714.9">ALYA</text><text x="363.2" y="715.9">EFE</text><text x="1277.4" y="715.9">ELIF</text><text x="1285.6" y="715.9">DEFNE</text><text x="1113.8" y="716.9">DEFNE</text><text x="269.2" y="717.9">ATLAS</text><text x="279.7" y="717.9">METEHAN</text><text x="295.6" y="717.9">SENA</text><text x="307.0" y="717.9">YÜSRA</text><text x="330.7" y="717.9">YIĞIT</text><text x="511.4" y="717.9">SU</text><text x="997.8" y="717.9">SU</text><text x="347.1" y="718.9">ARAS</text><text x="377.4" y="718.9">EMRE</text><text x="567.0" y="718.9">YIĞIT</text><text x="594.0" y="718.9">ELIF</text><text x="1365.2" y="718.9">SEHER</text><text x="356.5" y="719.9">SENA</text><text x="368.2" y="719.9">EFE</text><text x="798.3" y="719.9">SU</text><text x="1277.6" y="719.9">YÜSRA</text><text x="673.6" y="720.9">KAAN</text><text x="1289.3" y="720.9">SU</text><text x="1305.5" y="720.9">DEFNE</text><text x="1325.4" y="720.9">HALIL</text><text x="491.8" y="721.9">TAHA</text><text x="502.0" y="721.9">YÜSRA</text><text x="683.0" y="722.9">EFE</text><text x="1257.7" y="722.9">ARAS</text><text x="1362.9" y="722.9">ALYA</text><text x="795.8" y="723.9">ELIF</text><text x="1266.9" y="723.9">GÖKAY</text><text x="1350.9" y="723.9">GÖKAY</text><text x="226.1" y="724.9">EFE</text><text x="348.6" y="725.9">ARAS</text><text x="385.6" y="725.9">SU</text><text x="491.6" y="725.9">ALYA</text><text x="594.2" y="725.9">SENA</text><text x="508.6" y="726.9">EFE</text><text x="1362.6" y="726.9">SEHER</text><text x="664.9" y="727.9">SEHER</text><text x="997.8" y="727.9">SU</text><text x="1341.0" y="727.9">EDA</text><text x="500.5" y="728.9">EFE</text><text x="676.9" y="728.9">SENA</text><text x="961.4" y="728.9">SU</text><text x="225.7" y="729.9">EFE</text><text x="385.8" y="729.9">SU</text><text x="597.1" y="729.9">SU</text><text x="796.0" y="729.9">EDA</text><text x="1113.6" y="729.9">ELIF</text><text x="348.6" y="730.9">ATLAS</text><text x="508.0" y="730.9">ATLAS</text><text x="567.1" y="730.9">YIĞIT</text><text x="591.0" y="730.9">SU</text><text x="491.4" y="731.9">EDA</text><text x="557.1" y="731.9">ALYA</text><text x="576.7" y="731.9">EDA</text><text x="997.7" y="732.9">SU</text><text x="1087.4" y="732.9">SU</text><text x="1121.5" y="732.9">ALYA</text><text x="224.7" y="733.9">EFE</text><text x="359.1" y="733.9">SENA</text><text x="368.8" y="733.9">ARAS</text><text x="499.4" y="733.9">SU</text><text x="798.0" y="733.9">SU</text><text x="1132.1" y="733.9">SU</text><text x="1344.0" y="733.9">ALYA</text><text x="377.9" y="734.9">EFE</text><text x="584.6" y="734.9">METEHAN</text><text x="557.1" y="735.9">SÜLEYMAN</text><text x="579.2" y="735.9">SU</text><text x="1114.6" y="735.9">SU</text><text x="1268.0" y="736.9">EDA</text><text x="349.5" y="737.9">SU</text><text x="666.3" y="737.9">SU</text><text x="1341.0" y="738.9">SU</text><text x="796.1" y="739.9">ELIF</text><text x="1290.6" y="739.9">SU</text><text x="1308.8" y="739.9">YIĞIT</text><text x="1320.3" y="739.9">ATLAS</text><text x="1257.6" y="740.9">SEHER</text><text x="1270.0" y="740.9">YÜSRA</text><text x="852.4" y="741.9">YÜSRA</text><text x="1113.9" y="741.9">SENA</text><text x="961.4" y="742.9">METEHAN</text><text x="978.7" y="742.9">MEHMETHAN</text><text x="998.8" y="742.9">SU</text><text x="1296.5" y="742.9">KAAN</text><text x="348.5" y="743.9">SU</text><text x="665.2" y="743.9">EDA</text><text x="1286.0" y="743.9">ALYA</text><text x="491.3" y="744.9">EFE</text><text x="508.8" y="744.9">ALYA</text><text x="568.7" y="744.9">SU</text><text x="795.9" y="744.9">EDA</text><text x="501.8" y="745.9">SU</text><text x="852.2" y="745.9">ARAS</text><text x="1321.3" y="745.9">TAHA</text><text x="226.0" y="746.9">SEHER</text><text x="585.0" y="746.9">SÜLEYMAN</text><text x="861.8" y="746.9">SÜLEYMAN</text><text x="891.8" y="746.9">YÜSRA</text><text x="927.2" y="746.9">YÜSRA</text><text x="1087.5" y="746.9">SU</text><text x="1294.4" y="746.9">EFE</text><text x="237.7" y="747.9">HALIL</text><text x="687.8" y="747.9">YIĞIT</text><text x="697.2" y="747.9">ELIF</text><text x="707.2" y="747.9">SU</text><text x="767.1" y="747.9">YIĞIT</text><text x="938.9" y="747.9">EDA</text><text x="988.7" y="747.9">ARAS</text><text x="1286.8" y="747.9">EFE</text><text x="348.6" y="748.9">ALYA</text><text x="557.4" y="748.9">YÜSRA</text><text x="721.3" y="748.9">SU</text><text x="916.2" y="748.9">EMRE</text><text x="1301.6" y="748.9">ALYA</text><text x="665.1" y="749.9">YÜSRA</text><text x="715.1" y="749.9">SU</text><text x="1321.0" y="749.9">ARAS</text><text x="227.0" y="750.9">HALIL</text><text x="318.8" y="750.9">GÖKAY</text><text x="578.6" y="750.9">ELIF</text><text x="330.3" y="751.9">HALIL</text><text x="586.4" y="751.9">SÜLEYMAN</text><text x="703.6" y="751.9">SEHER</text><text x="988.6" y="751.9">EFE</text><text x="997.6" y="751.9">SU</text><text x="236.6" y="752.9">ELIF</text><text x="259.2" y="752.9">YIĞIT</text><text x="271.5" y="752.9">SU</text><text x="340.3" y="752.9">SU</text><text x="351.6" y="752.9">SU</text><text x="693.3" y="752.9">EMRE</text><text x="722.9" y="752.9">SU</text><text x="1285.7" y="752.9">EMRE</text><text x="1295.9" y="752.9">SÜLEYMAN</text><text x="665.1" y="753.9">TAHA</text><text x="728.4" y="753.9">GÖKAY</text><text x="797.5" y="753.9">SU</text><text x="228.6" y="754.9">SU</text><text x="739.9" y="754.9">ELIF</text><text x="771.1" y="754.9">TAHA</text><text x="966.7" y="754.9">YIĞIT</text><text x="976.1" y="754.9">GÖKAY</text><text x="987.9" y="755.9">SU</text><text x="365.1" y="756.9">ALYA</text><text x="557.0" y="756.9">ALYA</text><text x="1257.4" y="756.9">MEHMETHAN</text><text x="322.1" y="757.9">GÖKAY</text><text x="797.4" y="757.9">SÜLEYMAN</text><text x="847.8" y="757.9">HALIL</text><text x="225.4" y="758.9">ELIF</text><text x="763.9" y="758.9">YIĞIT</text><text x="1291.1" y="758.9">TAHA</text><text x="365.0" y="760.9">ARAS</text><text x="1257.7" y="760.9">SÜLEYMAN</text><text x="1300.3" y="760.9">METEHAN</text><text x="332.1" y="761.9">SU</text><text x="836.9" y="761.9">DEFNE</text><text x="999.2" y="761.9">DEFNE</text><text x="1010.7" y="761.9">EMRE</text><text x="1020.4" y="761.9">SENA</text><text x="1332.6" y="761.9">YIĞIT</text><text x="227.3" y="762.9">SU</text><text x="559.2" y="762.9">SU</text><text x="707.4" y="762.9">KAAN</text><text x="717.2" y="762.9">ATLAS</text><text x="730.3" y="762.9">SEHER</text><text x="797.4" y="762.9">DEFNE</text><text x="1030.2" y="762.9">YIĞIT</text><text x="1054.4" y="762.9">ELIF</text><text x="374.6" y="763.9">YÜSRA</text><text x="1343.0" y="763.9">ELIF</text><text x="251.1" y="764.9">SEHER</text><text x="741.8" y="764.9">EDA</text><text x="1081.0" y="764.9">MEHMETHAN</text><text x="1116.0" y="764.9">YIĞIT</text><text x="386.1" y="766.9">SU</text><text x="779.8" y="766.9">MEHMETHAN</text><text x="819.4" y="766.9">TAHA</text><text x="374.0" y="767.9">ARAS</text><text x="558.1" y="767.9">SU</text><text x="670.4" y="767.9">MEHMETHAN</text><text x="829.8" y="767.9">SU</text><text x="251.0" y="768.9">SU</text><text x="360.2" y="768.9">ELIF</text><text x="1349.4" y="768.9">SEHER</text><text x="770.9" y="769.9">SU</text><text x="1088.6" y="769.9">DEFNE</text><text x="1365.1" y="769.9">DEFNE</text><text x="835.4" y="770.9">SU</text><text x="1057.6" y="770.9">HALIL</text><text x="1221.9" y="770.9">TAHA</text><text x="1231.9" y="770.9">ARAS</text><text x="224.4" y="771.9">EDA</text><text x="670.7" y="771.9">ATLAS</text><text x="743.6" y="771.9">KAAN</text><text x="244.9" y="772.9">SEHER</text><text x="359.8" y="772.9">EMRE</text><text x="371.5" y="772.9">KAAN</text><text x="804.9" y="773.9">EMRE</text><text x="841.1" y="773.9">ELIF</text><text x="1366.1" y="773.9">ALYA</text><text x="560.3" y="774.9">SU</text><text x="718.7" y="774.9">TAHA</text><text x="834.0" y="774.9">SU</text><text x="1078.7" y="774.9">SENA</text><text x="1090.5" y="774.9">ARAS</text><text x="1222.2" y="774.9">HALIL</text><text x="381.1" y="775.9">KAAN</text><text x="737.3" y="775.9">KAAN</text><text x="225.6" y="776.9">SU</text><text x="244.9" y="776.9">SEHER</text><text x="683.1" y="777.9">ELIF</text><text x="806.0" y="777.9">ELIF</text><text x="374.4" y="778.9">SU</text><text x="718.5" y="778.9">EDA</text><text x="725.9" y="778.9">DEFNE</text><text x="834.2" y="778.9">YÜSRA</text><text x="1078.8" y="778.9">SENA</text><text x="1359.4" y="778.9">KAAN</text><text x="224.1" y="780.9">ALYA</text><text x="245.2" y="780.9">EMRE</text><text x="737.3" y="780.9">EFE</text><text x="1057.9" y="780.9">SU</text><text x="813.2" y="781.9">TAHA</text><text x="1222.9" y="781.9">EFE</text><text x="256.1" y="782.9">SU</text><text x="744.7" y="782.9">EFE</text><text x="837.4" y="782.9">GÖKAY</text><text x="806.0" y="783.9">SU</text><text x="665.1" y="784.9">HALIL</text><text x="1057.8" y="784.9">TAHA</text><text x="1370.3" y="784.9">SU</text><text x="245.3" y="785.9">HALIL</text><text x="558.2" y="785.9">EFE</text><text x="782.3" y="785.9">MEHMETHAN</text><text x="763.8" y="786.9">SU</text><text x="1079.8" y="786.9">ELIF</text><text x="1222.1" y="786.9">SU</text><text x="1087.6" y="787.9">EDA</text><text x="256.2" y="788.9">SU</text><text x="664.9" y="788.9">KAAN</text><text x="1350.0" y="788.9">ELIF</text><text x="223.8" y="789.9">EFE</text><text x="249.3" y="789.9">SU</text><text x="792.3" y="789.9">HALIL</text><text x="1057.7" y="789.9">KAAN</text><text x="1071.1" y="789.9">SU</text><text x="718.4" y="790.9">EDA</text><text x="749.8" y="790.9">SEHER</text><text x="782.4" y="790.9">EFE</text><text x="803.1" y="790.9">SENA</text><text x="726.1" y="791.9">ARAS</text><text x="736.8" y="791.9">ALYA</text><text x="1091.5" y="791.9">YIĞIT</text><text x="1222.2" y="792.9">KAAN</text><text x="1351.1" y="792.9">DEFNE</text><text x="224.9" y="793.9">ELIF</text><text x="371.4" y="793.9">ARAS</text><text x="244.9" y="794.9">SU</text><text x="361.2" y="794.9">HALIL</text><text x="558.2" y="794.9">SU</text><text x="250.5" y="796.9">SEHER</text><text x="688.2" y="796.9">ELIF</text><text x="840.3" y="796.9">HALIL</text><text x="1091.6" y="796.9">KAAN</text><text x="1348.8" y="796.9">METEHAN</text><text x="1364.4" y="796.9">KAAN</text><text x="995.5" y="797.9">SEHER</text><text x="1022.6" y="797.9">SU</text><text x="557.0" y="798.9">EFE</text><text x="851.3" y="798.9">ELIF</text><text x="1224.9" y="798.9">SU</text><text x="385.2" y="799.9">SU</text><text x="780.2" y="800.9">ARAS</text><text x="1091.8" y="801.9">SU</text><text x="1348.9" y="801.9">KAAN</text><text x="666.3" y="802.9">SU</text><text x="1225.0" y="802.9">SU</text><text x="385.0" y="803.9">SU</text><text x="558.2" y="803.9">SU</text><text x="371.5" y="805.9">GÖKAY</text><text x="722.2" y="805.9">EFE</text><text x="959.1" y="805.9">SEHER</text><text x="990.2" y="805.9">SENA</text><text x="1349.4" y="805.9">TAHA</text><text x="249.7" y="806.9">EFE</text><text x="665.1" y="806.9">EFE</text><text x="950.4" y="806.9">EFE</text><text x="999.6" y="806.9">METEHAN</text><text x="1015.6" y="806.9">EMRE</text><text x="1027.3" y="806.9">YÜSRA</text><text x="558.2" y="807.9">ELIF</text><text x="225.4" y="808.9">ATLAS</text><text x="237.6" y="808.9">EMRE</text><text x="1348.9" y="809.9">EMRE</text><text x="247.6" y="810.9">YIĞIT</text><text x="665.4" y="810.9">YIĞIT</text><text x="1239.6" y="810.9">ELIF</text><text x="560.1" y="811.9">SU</text><text x="862.7" y="811.9">KAAN</text><text x="855.8" y="812.9">SU</text><text x="892.3" y="812.9">EFE</text><text x="1091.7" y="812.9">ELIF</text><text x="1117.4" y="812.9">SU</text><text x="665.2" y="814.9">SENA</text><text x="1221.9" y="814.9">SÜLEYMAN</text><text x="1239.9" y="814.9">ARAS</text><text x="256.6" y="815.9">SU</text><text x="557.1" y="815.9">SU</text><text x="797.5" y="815.9">GÖKAY</text><text x="810.8" y="815.9">YÜSRA</text><text x="360.3" y="816.9">SU</text><text x="822.6" y="816.9">SU</text><text x="1025.0" y="816.9">GÖKAY</text><text x="1349.2" y="816.9">KAAN</text><text x="680.9" y="817.9">YÜSRA</text><text x="707.3" y="817.9">METEHAN</text><text x="1091.7" y="817.9">EMRE</text><text x="1012.2" y="818.9">SU</text><text x="559.2" y="819.9">SU</text><text x="224.4" y="820.9">EMRE</text><text x="246.6" y="820.9">SU</text><text x="252.3" y="820.9">ELIF</text><text x="384.8" y="822.9">EFE</text><text x="1012.3" y="822.9">SU</text><text x="1222.1" y="822.9">MEHMETHAN</text><text x="362.2" y="823.9">ALYA</text><text x="1105.4" y="823.9">ATLAS</text><text x="225.8" y="824.9">SEHER</text><text x="246.4" y="824.9">KAAN</text><text x="560.3" y="824.9">SU</text><text x="1091.8" y="824.9">EDA</text><text x="1099.6" y="825.9">SU</text><text x="1244.4" y="825.9">SU</text><text x="1349.2" y="825.9">SU</text><text x="666.2" y="826.9">SU</text><text x="825.9" y="826.9">EFE</text><text x="1221.8" y="826.9">EDA</text><text x="1231.1" y="826.9">SU</text><text x="1013.2" y="827.9">SU</text><text x="247.5" y="828.9">YÜSRA</text><text x="560.0" y="828.9">SU</text><text x="868.8" y="828.9">SU</text><text x="1349.3" y="829.9">ARAS</text><text x="1094.3" y="830.9">DEFNE</text><text x="247.9" y="832.9">TAHA</text><text x="1012.3" y="832.9">SU</text><text x="824.2" y="833.9">SU</text><text x="665.1" y="834.9">SU</text><text x="672.3" y="834.9">HALIL</text><text x="682.3" y="834.9">YÜSRA</text><text x="1349.2" y="834.9">SENA</text><text x="226.4" y="835.9">HALIL</text><text x="244.6" y="836.9">GÖKAY</text><text x="256.2" y="837.9">SU</text><text x="560.0" y="837.9">SU</text><text x="1012.0" y="837.9">EFE</text><text x="630.2" y="838.9">ALYA</text><text x="640.5" y="838.9">ATLAS</text><text x="653.4" y="838.9">GÖKAY</text><text x="678.0" y="838.9">SENA</text><text x="690.1" y="838.9">SU</text><text x="949.5" y="838.9">TAHA</text><text x="959.9" y="838.9">SEHER</text><text x="971.5" y="838.9">SU</text><text x="979.3" y="838.9">SEHER</text><text x="1002.4" y="838.9">EDA</text><text x="224.7" y="839.9">ALYA</text><text x="385.9" y="839.9">SU</text><text x="824.2" y="839.9">ALYA</text><text x="833.0" y="839.9">SENA</text><text x="874.7" y="839.9">SU</text><text x="990.5" y="839.9">SU</text><text x="1349.3" y="839.9">SEHER</text><text x="292.9" y="840.9">ALYA</text><text x="301.7" y="841.9">EDA</text><text x="312.1" y="841.9">KAAN</text><text x="559.0" y="841.9">SU</text><text x="1225.1" y="842.9">SU</text><text x="1240.4" y="842.9">SU</text><text x="826.3" y="843.9">SU</text><text x="761.8" y="844.9">GÖKAY</text><text x="292.3" y="845.9">HALIL</text><text x="302.2" y="845.9">ALYA</text><text x="324.0" y="845.9">ATLAS</text><text x="557.9" y="845.9">EDA</text><text x="1349.1" y="845.9">EFE</text><text x="1356.7" y="845.9">DEFNE</text><text x="311.3" y="846.9">SU</text><text x="701.5" y="846.9">SU</text><text x="707.3" y="846.9">SU</text><text x="722.5" y="846.9">ATLAS</text><text x="745.0" y="846.9">SU</text><text x="1222.1" y="846.9">SEHER</text><text x="1235.1" y="846.9">HALIL</text><text x="645.0" y="848.9">SU</text><text x="824.0" y="848.9">EFE</text><text x="850.3" y="848.9">EDA</text><text x="1088.2" y="848.9">SU</text><text x="1095.5" y="848.9">EMRE</text><text x="293.9" y="849.9">SU</text><text x="631.6" y="849.9">TAHA</text><text x="226.6" y="850.9">KAAN</text><text x="558.9" y="850.9">SU</text><text x="236.0" y="851.9">SU</text><text x="1369.1" y="851.9">SU</text><text x="292.9" y="853.9">ALYA</text><text x="352.9" y="854.9">TAHA</text><text x="557.2" y="854.9">ELIF</text><text x="255.2" y="855.9">SENA</text><text x="265.2" y="855.9">DEFNE</text><text x="277.1" y="855.9">SENA</text><text x="752.6" y="855.9">SÜLEYMAN</text><text x="286.7" y="856.9">SU</text><text x="955.8" y="856.9">ALYA</text><text x="987.7" y="856.9">SEHER</text><text x="999.5" y="856.9">EMRE</text><text x="1010.8" y="856.9">KAAN</text><text x="343.3" y="857.9">ALYA</text><text x="232.7" y="858.9">ELIF</text><text x="558.2" y="858.9">ELIF</text><text x="726.1" y="858.9">YIĞIT</text><text x="736.9" y="858.9">ELIF</text><text x="974.7" y="858.9">DEFNE</text><text x="598.9" y="859.9">YIĞIT</text><text x="608.1" y="860.9">DEFNE</text><text x="621.8" y="860.9">ELIF</text><text x="829.7" y="864.9">YIĞIT</text><text x="839.0" y="864.9">DEFNE</text><text x="232.6" y="865.9">SU</text><text x="265.0" y="866.9">HALIL</text><text x="290.7" y="866.9">SENA</text><text x="351.4" y="866.9">SENA</text><text x="380.3" y="866.9">SU</text><text x="386.4" y="866.9">SU</text><text x="300.2" y="867.9">YÜSRA</text><text x="312.5" y="867.9">ARAS</text><text x="322.3" y="868.9">METEHAN</text><text x="351.0" y="870.9">YÜSRA</text><text x="558.3" y="870.9">SU</text><text x="991.8" y="870.9">SU</text><text x="338.4" y="871.9">SU</text><text x="975.3" y="871.9">EDA</text><text x="983.1" y="871.9">EFE</text><text x="284.7" y="873.9">SU</text><text x="380.3" y="873.9">YIĞIT</text><text x="271.8" y="874.9">ATLAS</text><text x="558.2" y="874.9">SU</text><text x="351.0" y="875.9">EDA</text><text x="332.7" y="877.9">TAHA</text><text x="379.8" y="877.9">EDA</text><text x="1233.8" y="877.9">GÖKAY</text><text x="1281.7" y="877.9">YIĞIT</text><text x="1333.6" y="877.9">SÜLEYMAN</text><text x="1360.3" y="877.9">HALIL</text><text x="282.9" y="878.9">SU</text><text x="1290.9" y="878.9">EFE</text><text x="351.0" y="879.9">ARAS</text><text x="242.8" y="880.9">DEFNE</text><text x="254.9" y="880.9">KAAN</text><text x="232.6" y="881.9">EFE</text><text x="330.6" y="881.9">GÖKAY</text><text x="1240.4" y="881.9">KAAN</text><text x="284.8" y="882.9">SU</text><text x="514.0" y="882.9">SEHER</text><text x="274.4" y="883.9">HALIL</text><text x="351.1" y="883.9">TAHA</text><text x="315.1" y="884.9">ATLAS</text><text x="261.0" y="885.9">EFE</text><text x="325.6" y="885.9">ELIF</text><text x="333.8" y="885.9">EFE</text><text x="380.1" y="885.9">YIĞIT</text><text x="304.8" y="886.9">SU</text><text x="293.7" y="887.9">YIĞIT</text><text x="232.5" y="888.9">EFE</text><text x="311.6" y="888.9">ATLAS</text><text x="261.0" y="889.9">EDA</text><text x="380.2" y="889.9">TAHA</text><text x="1292.6" y="889.9">EDA</text><text x="1326.3" y="889.9">EDA</text><text x="1313.0" y="890.9">SEHER</text><text x="225.1" y="892.9">EDA</text><text x="233.1" y="893.9">EFE</text><text x="1292.5" y="896.9">YÜSRA</text><text x="1304.4" y="896.9">TAHA</text><text x="269.8" y="897.9">EFE</text><text x="279.0" y="897.9">METEHAN</text><text x="1274.4" y="897.9">SU</text><text x="557.6" y="898.9">ELIF</text><text x="565.6" y="898.9">HALIL</text><text x="576.3" y="898.9">EDA</text><text x="236.0" y="900.9">SU</text><text x="1232.4" y="900.9">SENA</text><text x="1244.0" y="900.9">ELIF</text><text x="278.6" y="901.9">EMRE</text><text x="1222.0" y="901.9">ALYA</text><text x="272.7" y="902.9">SU</text><text x="289.5" y="902.9">SU</text><text x="226.0" y="904.9">GÖKAY</text><text x="351.3" y="904.9">YÜSRA</text><text x="1245.1" y="905.9">SENA</text><text x="1293.9" y="905.9">SU</text><text x="282.5" y="906.9">SEHER</text><text x="225.3" y="908.9">DEFNE</text><text x="351.0" y="908.9">SEHER</text><text x="1254.6" y="908.9">HALIL</text><text x="1292.4" y="909.9">SU</text><text x="1275.0" y="910.9">SU</text><text x="1322.0" y="912.9">SU</text><text x="223.9" y="913.9">HALIL</text><text x="292.8" y="914.9">SU</text><text x="352.3" y="914.9">TAHA</text><text x="1369.9" y="914.9">SU</text><text x="386.3" y="915.9">SU</text><text x="1275.3" y="915.9">SU</text><text x="319.8" y="916.9">ELIF</text><text x="1245.0" y="916.9">EDA</text><text x="1263.5" y="916.9">SEHER</text><text x="1292.7" y="916.9">YIĞIT</text><text x="224.9" y="917.9">SEHER</text><text x="269.4" y="918.9">KAAN</text><text x="280.0" y="918.9">ELIF</text><text x="288.1" y="918.9">YIĞIT</text><text x="338.1" y="918.9">EDA</text><text x="347.0" y="918.9">TAHA</text><text x="306.6" y="919.9">EDA</text><text x="1252.5" y="919.9">TAHA</text><text x="1275.1" y="919.9">SEHER</text><text x="1340.5" y="919.9">HALIL</text><text x="326.0" y="920.9">ATLAS</text><text x="297.6" y="921.9">ALYA</text><text x="314.7" y="921.9">EDA</text><text x="272.4" y="922.9">ARAS</text><text x="283.7" y="922.9">YÜSRA</text><text x="571.8" y="922.9">SEHER</text><text x="306.5" y="923.9">SU</text><text x="336.8" y="923.9">YIĞIT</text><text x="331.1" y="924.9">SU</text><text x="345.9" y="924.9">SU</text><text x="380.2" y="924.9">TAHA</text><text x="223.9" y="925.9">HALIL</text><text x="233.6" y="928.9">SU</text><text x="380.0" y="928.9">ARAS</text><text x="227.0" y="930.9">SU</text><text x="581.9" y="933.9">EMRE</text><text x="224.0" y="934.9">EMRE</text><text x="571.7" y="935.9">SENA</text><text x="1349.0" y="935.9">SU</text><text x="374.5" y="938.9">SU</text><text x="1350.0" y="939.9">SU</text><text x="224.8" y="943.9">ATLAS</text><text x="235.2" y="944.9">SU</text><text x="362.1" y="946.9">SU</text><text x="360.1" y="950.9">SU</text><text x="559.8" y="950.9">EDA</text><text x="366.0" y="951.9">TAHA</text><text x="567.3" y="952.9">MEHMETHAN</text><text x="224.5" y="955.9">GÖKAY</text><text x="236.1" y="956.9">ALYA</text><text x="373.7" y="956.9">ALYA</text><text x="245.0" y="957.9">SENA</text><text x="224.4" y="959.9">TAHA</text><text x="360.2" y="960.9">ELIF</text><text x="368.4" y="961.9">YÜSRA</text><text x="382.6" y="961.9">TAHA</text><text x="658.0" y="961.9">KAAN</text><text x="1359.2" y="963.9">KAAN</text><text x="554.3" y="964.9">EFE</text><text x="576.6" y="964.9">SEHER</text><text x="235.8" y="966.9">SU</text><text x="1349.2" y="966.9">EFE</text><text x="1369.2" y="967.9">EFE</text><text x="361.1" y="968.9">EFE</text><text x="249.1" y="969.9">EMRE</text><text x="1356.7" y="969.9">ELIF</text><text x="240.1" y="970.9">ELIF</text><text x="1349.3" y="970.9">SU</text><text x="1364.6" y="972.9">YIĞIT</text><text x="1355.2" y="973.9">ELIF</text><text x="232.9" y="974.9">YÜSRA</text><text x="385.0" y="974.9">SU</text><text x="1368.9" y="977.9">SU</text><text x="1349.3" y="979.9">SU</text><text x="360.0" y="981.9">SU</text><text x="1362.6" y="982.9">EFE</text><text x="1349.1" y="983.9">KAAN</text><text x="1370.9" y="984.9">SU</text><text x="363.4" y="985.9">SU</text><text x="717.3" y="985.9">SENA</text><text x="1231.4" y="986.9">ELIF</text><text x="1240.8" y="986.9">ELIF</text><text x="590.2" y="987.9">HALIL</text><text x="601.8" y="987.9">YIĞIT</text><text x="1222.3" y="988.9">ALYA</text><text x="1368.8" y="988.9">SU</text><text x="386.3" y="989.9">SU</text><text x="360.1" y="990.9">SEHER</text><text x="371.5" y="990.9">SU</text><text x="672.6" y="990.9">ELIF</text><text x="1264.7" y="990.9">SU</text><text x="1272.4" y="990.9">TAHA</text><text x="1293.3" y="990.9">EMRE</text><text x="1348.1" y="991.9">SU</text><text x="1247.5" y="992.9">ELIF</text><text x="1308.4" y="992.9">GÖKAY</text><text x="683.6" y="993.9">EMRE</text><text x="1283.9" y="993.9">TAHA</text><text x="647.9" y="994.9">ALYA</text><text x="268.7" y="995.9">YÜSRA</text><text x="280.8" y="995.9">KAAN</text><text x="302.9" y="995.9">EMRE</text><text x="325.7" y="995.9">KAAN</text><text x="334.9" y="995.9">EDA</text><text x="1222.0" y="995.9">SU</text><text x="1350.1" y="995.9">EFE</text><text x="1321.3" y="996.9">ALYA</text><text x="1331.6" y="996.9">ALYA</text><text x="1340.6" y="997.9">KAAN</text><text x="290.3" y="998.9">EFE</text><text x="593.5" y="998.9">KAAN</text><text x="683.5" y="998.9">GÖKAY</text><text x="1279.7" y="998.9">DEFNE</text><text x="1308.7" y="998.9">ELIF</text><text x="268.6" y="999.9">YÜSRA</text><text x="280.6" y="999.9">SENA</text><text x="713.3" y="999.9">EDA</text><text x="1291.2" y="999.9">SU</text><text x="1358.6" y="999.9">ARAS</text><text x="1370.5" y="999.9">SU</text><text x="320.3" y="1000.9">SU</text><text x="1342.7" y="1002.9">SU</text><text x="1222.0" y="1003.9">EFE</text><text x="319.2" y="1004.9">SEHER</text><text x="1366.6" y="1004.9">ARAS</text><text x="343.6" y="1005.9">EFE</text><text x="1229.6" y="1005.9">ARAS</text><text x="232.4" y="1006.9">YIĞIT</text><text x="573.1" y="1006.9">SENA</text><text x="714.7" y="1006.9">SU</text><text x="871.6" y="1006.9">ELIF</text><text x="1342.7" y="1006.9">SENA</text><text x="1239.3" y="1008.9">EDA</text><text x="1314.8" y="1008.9">MEHMETHAN</text><text x="296.2" y="1009.9">SENA</text><text x="894.2" y="1009.9">YÜSRA</text><text x="905.7" y="1009.9">ALYA</text><text x="1222.3" y="1009.9">ARAS</text><text x="232.5" y="1010.9">METEHAN</text><text x="305.5" y="1010.9">ELIF</text><text x="326.7" y="1010.9">EMRE</text><text x="1334.5" y="1010.9">ALYA</text><text x="377.1" y="1011.9">SEHER</text><text x="683.7" y="1011.9">HALIL</text><text x="902.3" y="1013.9">EFE</text><text x="1370.6" y="1013.9">SU</text><text x="1223.3" y="1014.9">SU</text><text x="1339.3" y="1014.9">ATLAS</text><text x="1362.2" y="1014.9">EDA</text><text x="232.7" y="1015.9">SEHER</text><text x="869.6" y="1015.9">ARAS</text><text x="244.1" y="1016.9">EFE</text><text x="296.0" y="1016.9">EDA</text><text x="375.9" y="1016.9">GÖKAY</text><text x="894.2" y="1017.9">EDA</text><text x="1340.0" y="1018.9">SU</text><text x="233.5" y="1019.9">SU</text><text x="261.1" y="1019.9">SEHER</text><text x="273.3" y="1019.9">YÜSRA</text><text x="903.2" y="1019.9">SU</text><text x="1237.3" y="1019.9">ATLAS</text><text x="339.8" y="1020.9">GÖKAY</text><text x="683.5" y="1020.9">SU</text><text x="869.7" y="1020.9">EDA</text><text x="1288.8" y="1020.9">SU</text><text x="1295.9" y="1020.9">HALIL</text><text x="1324.7" y="1020.9">GÖKAY</text><text x="1370.4" y="1020.9">SU</text><text x="255.3" y="1021.9">SU</text><text x="313.0" y="1021.9">ELIF</text><text x="321.2" y="1021.9">EFE</text><text x="329.7" y="1021.9">HALIL</text><text x="1257.7" y="1021.9">DEFNE</text><text x="351.7" y="1022.9">HALIL</text><text x="372.5" y="1022.9">METEHAN</text><text x="862.2" y="1022.9">SU</text><text x="1248.1" y="1022.9">SU</text><text x="1268.9" y="1022.9">SENA</text><text x="227.1" y="1023.9">YÜSRA</text><text x="273.2" y="1023.9">SU</text><text x="362.4" y="1023.9">ELIF</text><text x="925.2" y="1023.9">TAHA</text><text x="935.7" y="1023.9">SÜLEYMAN</text><text x="1229.5" y="1023.9">ATLAS</text><text x="1278.8" y="1023.9">ELIF</text><text x="1336.7" y="1023.9">SEHER</text><text x="1349.2" y="1023.9">SU</text><text x="867.8" y="1024.9">EMRE</text><text x="1370.5" y="1024.9">SU</text><text x="683.4" y="1025.9">EFE</text><text x="225.4" y="1027.9">EMRE</text><text x="1222.3" y="1027.9">EMRE</text><text x="1266.2" y="1027.9">SEHER</text><text x="1330.7" y="1027.9">DEFNE</text><text x="354.3" y="1028.9">SU</text><text x="361.4" y="1028.9">ARAS</text><text x="690.8" y="1028.9">DEFNE</text><text x="1232.1" y="1028.9">EFE</text><text x="242.9" y="1029.9">ATLAS</text><text x="371.1" y="1029.9">SEHER</text><text x="384.1" y="1029.9">SU</text><text x="226.7" y="1031.9">SU</text><text x="1264.7" y="1032.9">DEFNE</text><text x="1331.8" y="1032.9">SU</text><text x="872.5" y="1034.9">ATLAS</text><text x="1238.8" y="1034.9">YÜSRA</text><text x="1252.8" y="1034.9">SU</text><text x="1358.6" y="1034.9">EMRE</text><text x="225.8" y="1036.9">GÖKAY</text><text x="598.4" y="1036.9">EDA</text><text x="1351.8" y="1036.9">SU</text><text x="1222.0" y="1038.9">EFE</text><text x="1289.5" y="1038.9">SÜLEYMAN</text><text x="1307.5" y="1038.9">ATLAS</text><text x="1319.6" y="1038.9">DEFNE</text><text x="1229.4" y="1039.9">YIĞIT</text><text x="224.2" y="1040.9">METEHAN</text><text x="646.7" y="1040.9">SEHER</text><text x="1238.5" y="1040.9">HALIL</text><text x="340.0" y="1041.9">SU</text><text x="1249.2" y="1041.9">KAAN</text><text x="672.0" y="1042.9">KAAN</text><text x="924.0" y="1042.9">YIĞIT</text><text x="933.6" y="1042.9">ELIF</text><text x="226.4" y="1044.9">SENA</text><text x="1246.1" y="1045.9">TAHA</text><text x="293.9" y="1047.9">YIĞIT</text><text x="303.9" y="1047.9">EMRE</text><text x="315.2" y="1047.9">EMRE</text><text x="386.8" y="1048.9">SU</text><text x="313.5" y="1051.9">SU</text><text x="246.4" y="1052.9">SU</text><text x="339.7" y="1053.9">EFE</text><text x="350.7" y="1054.9">DEFNE</text><text x="1223.3" y="1054.9">ELIF</text><text x="1290.3" y="1056.9">HALIL</text><text x="1318.4" y="1056.9">EMRE</text><text x="247.1" y="1057.9">SU</text><text x="1277.2" y="1057.9">ARAS</text><text x="1300.3" y="1058.9">SU</text><text x="374.5" y="1059.9">ARAS</text><text x="1222.3" y="1059.9">EFE</text><text x="1259.3" y="1060.9">GÖKAY</text><text x="1286.5" y="1060.9">ARAS</text><text x="1348.1" y="1060.9">TAHA</text><text x="1271.0" y="1061.9">SU</text><text x="225.2" y="1062.9">ELIF</text><text x="233.3" y="1062.9">SEHER</text><text x="313.6" y="1062.9">HALIL</text><text x="1279.5" y="1062.9">SU</text><text x="1357.7" y="1062.9">DEFNE</text><text x="374.3" y="1063.9">SU</text><text x="381.2" y="1063.9">ELIF</text><text x="1257.1" y="1064.9">ATLAS</text><text x="1368.9" y="1064.9">SU</text><text x="313.3" y="1066.9">KAAN</text><text x="1267.0" y="1068.9">EFE</text><text x="1340.7" y="1070.9">ELIF</text><text x="1328.9" y="1071.9">ATLAS</text><text x="1370.9" y="1071.9">SU</text><text x="226.6" y="1072.9">SU</text><text x="1263.1" y="1072.9">SU</text><text x="1289.8" y="1072.9">KAAN</text><text x="1312.3" y="1072.9">HALIL</text><text x="1269.3" y="1073.9">SU</text><text x="1276.6" y="1073.9">ATLAS</text><text x="1339.7" y="1074.9">TAHA</text><text x="1350.5" y="1074.9">HALIL</text><text x="1322.3" y="1075.9">ARAS</text><text x="1333.3" y="1076.9">SU</text><text x="1360.0" y="1076.9">KAAN</text><text x="226.5" y="1077.9">ARAS</text><text x="1353.2" y="1078.9">SU</text><text x="1222.0" y="1079.9">TAHA</text><text x="1232.7" y="1079.9">EFE</text><text x="1240.0" y="1080.9">SENA</text><text x="1359.3" y="1080.9">GÖKAY</text><text x="940.9" y="1082.9">SEHER</text><text x="1348.9" y="1082.9">KAAN</text><text x="225.3" y="1083.9">EDA</text><text x="1234.4" y="1084.9">SEHER</text><text x="234.3" y="1086.9">SU</text><text x="1222.0" y="1086.9">SEHER</text><text x="225.6" y="1087.9">ELIF</text><text x="1349.3" y="1087.9">YÜSRA</text><text x="1361.9" y="1087.9">ATLAS</text><text x="249.6" y="1089.9">ATLAS</text><text x="596.6" y="1089.9">KAAN</text><text x="994.0" y="1089.9">SU</text><text x="895.0" y="1090.9">TAHA</text><text x="972.6" y="1090.9">ELIF</text><text x="807.2" y="1092.9">EFE</text><text x="824.6" y="1092.9">DEFNE</text><text x="857.8" y="1092.9">KAAN</text><text x="867.1" y="1092.9">SEHER</text><text x="958.2" y="1092.9">ELIF</text><text x="1359.1" y="1092.9">SEHER</text><text x="247.3" y="1093.9">SU</text><text x="879.4" y="1093.9">SU</text><text x="1348.9" y="1093.9">ELIF</text><text x="596.7" y="1094.9">DEFNE</text><text x="957.0" y="1096.9">KAAN</text><text x="613.0" y="1098.9">GÖKAY</text><text x="873.4" y="1098.9">SU</text><text x="881.2" y="1099.9">SU</text><text x="940.9" y="1099.9">METEHAN</text><text x="1222.0" y="1099.9">SEHER</text><text x="225.3" y="1100.9">ARAS</text><text x="234.3" y="1100.9">EDA</text><text x="902.3" y="1100.9">ELIF</text><text x="911.2" y="1100.9">SÜLEYMAN</text><text x="955.9" y="1100.9">EFE</text><text x="977.5" y="1102.9">METEHAN</text><text x="995.3" y="1102.9">HALIL</text><text x="226.3" y="1104.9">EDA</text><text x="873.5" y="1104.9">EDA</text><text x="1222.0" y="1104.9">EMRE</text><text x="234.0" y="1106.9">SENA</text><text x="1361.1" y="1106.9">SEHER</text><text x="617.7" y="1109.9">SU</text><text x="1223.1" y="1109.9">EDA</text><text x="226.2" y="1110.9">EMRE</text><text x="1366.5" y="1111.9">EMRE</text><text x="875.4" y="1112.9">SU</text><text x="1234.7" y="1114.9">YIĞIT</text><text x="361.0" y="1116.9">DEFNE</text><text x="225.3" y="1117.9">SU</text><text x="800.6" y="1117.9">SU</text><text x="854.9" y="1117.9">SEHER</text><text x="1349.0" y="1118.9">ARAS</text><text x="1360.7" y="1118.9">KAAN</text><text x="385.2" y="1119.9">EFE</text><text x="903.4" y="1119.9">SENA</text><text x="913.0" y="1119.9">METEHAN</text><text x="893.4" y="1120.9">SU</text><text x="226.1" y="1122.9">SU</text><text x="385.9" y="1123.9">SU</text><text x="899.1" y="1123.9">METEHAN</text><text x="1349.1" y="1123.9">TAHA</text><text x="914.5" y="1124.9">ELIF</text><text x="1222.0" y="1124.9">ELIF</text><text x="893.8" y="1125.9">SU</text><text x="1229.6" y="1125.9">SÜLEYMAN</text><text x="360.3" y="1126.9">SEHER</text><text x="372.0" y="1126.9">EDA</text><text x="597.5" y="1126.9">SENA</text><text x="619.7" y="1126.9">ALYA</text><text x="628.8" y="1126.9">SEHER</text><text x="641.3" y="1126.9">SENA</text><text x="653.3" y="1126.9">EDA</text><text x="1221.9" y="1128.9">SU</text><text x="223.8" y="1129.9">METEHAN</text><text x="1227.5" y="1129.9">SENA</text><text x="1238.6" y="1129.9">EMRE</text><text x="1349.0" y="1129.9">SU</text><text x="802.5" y="1131.9">SÜLEYMAN</text><text x="821.9" y="1131.9">ELIF</text><text x="1354.6" y="1131.9">SU</text><text x="239.3" y="1132.9">YÜSRA</text><text x="253.7" y="1132.9">EFE</text><text x="658.5" y="1132.9">GÖKAY</text><text x="670.2" y="1132.9">SENA</text><text x="884.6" y="1133.9">SENA</text><text x="616.6" y="1134.9">EFE</text><text x="911.1" y="1134.9">YIĞIT</text><text x="252.4" y="1136.9">ARAS</text><text x="1222.2" y="1136.9">EDA</text><text x="379.2" y="1138.9">EDA</text><text x="360.1" y="1139.9">EDA</text><text x="637.8" y="1139.9">MEHMETHAN</text><text x="1349.2" y="1139.9">EDA</text><text x="1221.9" y="1140.9">SENA</text><text x="253.0" y="1142.9">YIĞIT</text><text x="377.3" y="1143.9">KAAN</text><text x="1349.4" y="1143.9">TAHA</text><text x="224.0" y="1146.9">EFE</text><text x="233.6" y="1146.9">EDA</text><text x="906.2" y="1146.9">TAHA</text><text x="1234.9" y="1147.9">EDA</text><text x="1349.1" y="1147.9">SENA</text><text x="377.5" y="1148.9">YIĞIT</text><text x="1304.8" y="1148.9">HALIL</text><text x="1268.0" y="1149.9">YIĞIT</text><text x="1342.8" y="1149.9">SU</text><text x="1242.5" y="1150.9">ALYA</text><text x="1251.9" y="1150.9">GÖKAY</text><text x="1324.4" y="1150.9">DEFNE</text><text x="227.8" y="1151.9">YIĞIT</text><text x="683.2" y="1151.9">ATLAS</text><text x="745.3" y="1151.9">ATLAS</text><text x="1314.6" y="1151.9">YIĞIT</text><text x="330.0" y="1152.9">ALYA</text><text x="339.6" y="1152.9">EDA</text><text x="372.9" y="1152.9">KAAN</text><text x="632.3" y="1152.9">EFE</text><text x="246.0" y="1153.9">ALYA</text><text x="360.6" y="1153.9">SU</text><text x="382.1" y="1153.9">KAAN</text><text x="237.2" y="1154.9">EFE</text><text x="619.2" y="1154.9">ARAS</text><text x="882.7" y="1154.9">ARAS</text><text x="224.9" y="1155.9">SEHER</text><text x="366.2" y="1155.9">SU</text><text x="330.0" y="1156.9">YIĞIT</text><text x="1274.4" y="1156.9">KAAN</text><text x="244.8" y="1157.9">YIĞIT</text><text x="385.1" y="1157.9">SU</text><text x="881.4" y="1158.9">EFE</text><text x="867.3" y="1159.9">KAAN</text><text x="226.6" y="1160.9">SU</text><text x="282.5" y="1160.9">SU</text><text x="903.3" y="1160.9">SEHER</text><text x="914.9" y="1160.9">EDA</text><text x="1274.7" y="1160.9">HALIL</text><text x="246.1" y="1161.9">TAHA</text><text x="273.2" y="1161.9">SU</text><text x="735.3" y="1162.9">ALYA</text><text x="754.2" y="1162.9">SU</text><text x="761.2" y="1164.9">SU</text><text x="227.6" y="1165.9">SU</text><text x="244.9" y="1165.9">SU</text><text x="250.7" y="1165.9">SU</text><text x="727.0" y="1165.9">SU</text><text x="744.0" y="1165.9">EFE</text><text x="767.0" y="1165.9">SEHER</text><text x="1273.6" y="1165.9">ALYA</text><text x="609.4" y="1167.9">ATLAS</text><text x="1231.4" y="1167.9">SENA</text><text x="619.9" y="1168.9">GÖKAY</text><text x="1222.0" y="1168.9">TAHA</text><text x="597.5" y="1169.9">YÜSRA</text><text x="1267.0" y="1169.9">ELIF</text><text x="226.3" y="1170.9">HALIL</text><text x="272.9" y="1170.9">EFE</text><text x="280.3" y="1170.9">SU</text><text x="649.7" y="1170.9">DEFNE</text><text x="674.4" y="1170.9">KAAN</text><text x="286.4" y="1171.9">SU</text><text x="690.9" y="1171.9">SU</text><text x="1231.1" y="1171.9">KAAN</text><text x="661.1" y="1172.9">ATLAS</text><text x="1221.9" y="1172.9">ELIF</text><text x="1240.6" y="1172.9">ELIF</text><text x="1248.7" y="1172.9">GÖKAY</text><text x="651.6" y="1174.9">SU</text><text x="867.7" y="1174.9">EDA</text><text x="877.8" y="1174.9">GÖKAY</text><text x="280.2" y="1175.9">YÜSRA</text><text x="627.2" y="1176.9">EDA</text><text x="657.9" y="1176.9">ALYA</text><text x="684.8" y="1176.9">SENA</text><text x="694.7" y="1176.9">ELIF</text><text x="702.8" y="1176.9">METEHAN</text><text x="720.2" y="1176.9">SU</text><text x="1248.8" y="1176.9">ALYA</text><text x="310.2" y="1180.9">HALIL</text><text x="321.8" y="1180.9">SU</text><text x="328.2" y="1180.9">ALYA</text><text x="615.0" y="1180.9">EDA</text><text x="1223.0" y="1180.9">SU</text><text x="1273.7" y="1180.9">SU</text><text x="289.3" y="1181.9">METEHAN</text><text x="715.1" y="1181.9">ALYA</text><text x="1248.6" y="1181.9">EFE</text><text x="248.3" y="1182.9">ARAS</text><text x="350.4" y="1182.9">GÖKAY</text><text x="625.5" y="1182.9">SU</text><text x="724.0" y="1182.9">YÜSRA</text><text x="767.2" y="1182.9">ELIF</text><text x="1291.2" y="1182.9">SU</text><text x="337.1" y="1183.9">EMRE</text><text x="1311.9" y="1183.9">YIĞIT</text><text x="1361.2" y="1183.9">KAAN</text><text x="735.8" y="1184.9">EMRE</text><text x="1221.9" y="1184.9">EDA</text><text x="1273.5" y="1184.9">ALYA</text><text x="1283.1" y="1184.9">EDA</text><text x="1321.1" y="1184.9">SENA</text><text x="238.7" y="1185.9">EDA</text><text x="281.0" y="1185.9">SENA</text><text x="361.9" y="1185.9">SU</text><text x="367.5" y="1185.9">EMRE</text><text x="745.5" y="1185.9">SÜLEYMAN</text><text x="1248.9" y="1185.9">ALYA</text><text x="246.6" y="1186.9">ELIF</text><text x="378.0" y="1186.9">ALYA</text><text x="615.4" y="1186.9">YIĞIT</text><text x="715.3" y="1186.9">EFE</text><text x="763.4" y="1186.9">SU</text><text x="722.8" y="1187.9">EDA</text><text x="596.5" y="1188.9">DEFNE</text><text x="239.6" y="1189.9">SU</text><text x="280.4" y="1189.9">YIĞIT</text><text x="289.6" y="1189.9">SU</text><text x="1248.9" y="1189.9">SU</text><text x="246.4" y="1190.9">ARAS</text><text x="1255.4" y="1190.9">SU</text><text x="1304.6" y="1190.9">HALIL</text><text x="1366.4" y="1190.9">ALYA</text><text x="725.2" y="1191.9">EFE</text><text x="716.1" y="1192.9">SU</text><text x="1221.8" y="1192.9">ELIF</text><text x="280.2" y="1194.9">SENA</text><text x="1303.9" y="1194.9">ARAS</text><text x="1366.1" y="1194.9">ARAS</text><text x="605.4" y="1195.9">SU</text><text x="753.5" y="1196.9">YIĞIT</text><text x="289.7" y="1197.9">EFE</text><text x="611.2" y="1197.9">TAHA</text><text x="621.1" y="1197.9">YIĞIT</text><text x="727.9" y="1197.9">TAHA</text><text x="739.9" y="1197.9">ELIF</text><text x="765.4" y="1197.9">SU</text><text x="1223.1" y="1197.9">ELIF</text><text x="1340.8" y="1197.9">ATLAS</text><text x="273.1" y="1198.9">SU</text><text x="279.2" y="1198.9">ALYA</text><text x="378.2" y="1198.9">SU</text><text x="1312.0" y="1198.9">SENA</text><text x="1351.2" y="1198.9">MEHMETHAN</text><text x="356.6" y="1199.9">METEHAN</text><text x="597.5" y="1199.9">SENA</text><text x="673.5" y="1199.9">KAAN</text><text x="696.9" y="1199.9">EMRE</text><text x="716.5" y="1199.9">SENA</text><text x="747.8" y="1199.9">SU</text><text x="1321.7" y="1199.9">ATLAS</text><text x="237.7" y="1200.9">SENA</text><text x="372.3" y="1200.9">SU</text><text x="630.7" y="1200.9">YÜSRA</text><text x="642.9" y="1200.9">HALIL</text><text x="682.8" y="1200.9">KAAN</text><text x="789.9" y="1200.9">SENA</text><text x="1341.0" y="1201.9">ALYA</text><text x="305.5" y="1203.9">GÖKAY</text><text x="316.9" y="1204.9">GÖKAY</text><text x="328.6" y="1204.9">SENA</text><text x="339.1" y="1204.9">SU</text><text x="1222.3" y="1204.9">SU</text><text x="1273.5" y="1204.9">ELIF</text><text x="273.1" y="1205.9">SU</text><text x="1341.9" y="1205.9">YIĞIT</text><text x="278.7" y="1206.9">EMRE</text><text x="380.6" y="1206.9">EDA</text><text x="1248.4" y="1207.9">DEFNE</text><text x="1224.1" y="1208.9">SU</text><text x="323.0" y="1209.9">SU</text><text x="1340.7" y="1209.9">HALIL</text><text x="380.6" y="1210.9">EMRE</text><text x="273.1" y="1211.9">SU</text><text x="281.6" y="1211.9">ELIF</text><text x="1274.7" y="1212.9">EFE</text><text x="309.1" y="1214.9">SÜLEYMAN</text><text x="343.5" y="1214.9">METEHAN</text><text x="359.6" y="1214.9">EMRE</text><text x="380.8" y="1214.9">YÜSRA</text><text x="1223.3" y="1214.9">SU</text><text x="1292.6" y="1214.9">ELIF</text><text x="1302.6" y="1214.9">HALIL</text><text x="1314.9" y="1214.9">YIĞIT</text><text x="369.5" y="1215.9">ELIF</text><text x="1326.1" y="1215.9">SU</text><text x="1340.9" y="1215.9">SU</text><text x="1349.1" y="1215.9">ARAS</text><text x="1358.7" y="1215.9">KAAN</text><text x="795.2" y="1217.9">YIĞIT</text><text x="806.6" y="1217.9">TAHA</text><text x="1369.1" y="1217.9">ELIF</text><text x="378.3" y="1218.9">YÜSRA</text><text x="1222.2" y="1218.9">SU</text><text x="1292.5" y="1218.9">ELIF</text><text x="360.3" y="1219.9">SU</text><text x="1317.0" y="1219.9">ATLAS</text><text x="1351.3" y="1219.9">TAHA</text><text x="1273.5" y="1220.9">SU</text><text x="1310.3" y="1220.9">SU</text><text x="1343.4" y="1220.9">SU</text><text x="256.1" y="1221.9">SU</text><text x="225.4" y="1222.9">SU</text><text x="232.4" y="1222.9">ELIF</text><text x="1224.0" y="1223.9">SU</text><text x="1348.9" y="1226.9">DEFNE</text><text x="595.9" y="1228.9">SU</text><text x="795.1" y="1228.9">KAAN</text><text x="256.0" y="1229.9">SU</text><text x="805.6" y="1229.9">DEFNE</text><text x="385.7" y="1230.9">SU</text><text x="837.6" y="1231.9">SENA</text><text x="846.9" y="1231.9">KAAN</text><text x="226.0" y="1233.9">ELIF</text><text x="386.4" y="1235.9">SU</text><text x="1360.7" y="1235.9">TAHA</text><text x="1230.6" y="1236.9">GÖKAY</text><text x="225.3" y="1237.9">HALIL</text><text x="569.1" y="1238.9">SENA</text><text x="581.3" y="1238.9">ARAS</text><text x="980.3" y="1238.9">SEHER</text><text x="993.9" y="1238.9">EFE</text><text x="1244.3" y="1238.9">SU</text><text x="1349.1" y="1238.9">TAHA</text><text x="381.4" y="1239.9">TAHA</text><text x="867.6" y="1239.9">ATLAS</text><text x="1222.2" y="1239.9">EFE</text><text x="1358.8" y="1240.9">ALYA</text><text x="224.5" y="1241.9">SENA</text><text x="949.4" y="1241.9">ELIF</text><text x="570.6" y="1242.9">KAAN</text><text x="813.2" y="1242.9">ATLAS</text><text x="850.9" y="1242.9">ATLAS</text><text x="382.1" y="1243.9">SENA</text><text x="1222.4" y="1243.9">ALYA</text><text x="580.0" y="1244.9">KAAN</text><text x="590.7" y="1244.9">ALYA</text><text x="226.5" y="1246.9">SU</text><text x="374.9" y="1246.9">SU</text><text x="814.2" y="1246.9">SEHER</text><text x="850.6" y="1246.9">ATLAS</text><text x="232.0" y="1248.9">EFE</text><text x="940.6" y="1249.9">YIĞIT</text><text x="960.5" y="1249.9">ATLAS</text><text x="994.0" y="1249.9">SU</text><text x="597.7" y="1250.9">MEHMETHAN</text><text x="619.0" y="1250.9">GÖKAY</text><text x="631.0" y="1250.9">SU</text><text x="680.6" y="1250.9">ELIF</text><text x="754.4" y="1250.9">HALIL</text><text x="764.4" y="1250.9">YIĞIT</text><text x="774.8" y="1250.9">SÜLEYMAN</text><text x="794.2" y="1250.9">ELIF</text><text x="1239.0" y="1250.9">DEFNE</text><text x="724.9" y="1251.9">DEFNE</text><text x="246.1" y="1252.9">YÜSRA</text><text x="360.1" y="1252.9">ATLAS</text><text x="653.1" y="1252.9">EMRE</text><text x="851.4" y="1252.9">YIĞIT</text><text x="235.4" y="1253.9">ATLAS</text><text x="228.7" y="1254.9">SU</text><text x="566.3" y="1254.9">YÜSRA</text><text x="627.6" y="1255.9">EDA</text><text x="703.6" y="1255.9">EDA</text><text x="756.7" y="1255.9">EDA</text><text x="867.4" y="1255.9">ELIF</text><text x="246.1" y="1256.9">YÜSRA</text><text x="374.2" y="1256.9">EMRE</text><text x="635.7" y="1256.9">EFE</text><text x="644.3" y="1257.9">TAHA</text><text x="676.7" y="1257.9">SEHER</text><text x="724.9" y="1257.9">SENA</text><text x="1237.0" y="1257.9">YIĞIT</text><text x="384.8" y="1258.9">EDA</text><text x="671.1" y="1258.9">SU</text><text x="746.4" y="1258.9">EMRE</text><text x="230.2" y="1259.9">ARAS</text><text x="711.4" y="1259.9">EDA</text><text x="884.5" y="1259.9">DEFNE</text><text x="1222.1" y="1260.9">TAHA</text><text x="239.6" y="1262.9">GÖKAY</text><text x="254.5" y="1262.9">ELIF</text><text x="1224.9" y="1264.9">SU</text><text x="1348.8" y="1265.9">KAAN</text><text x="243.1" y="1266.9">SENA</text><text x="360.1" y="1266.9">METEHAN</text><text x="254.6" y="1267.9">EFE</text><text x="898.7" y="1267.9">SU</text><text x="917.2" y="1267.9">ARAS</text><text x="927.0" y="1267.9">ALYA</text><text x="937.8" y="1267.9">KAAN</text><text x="991.7" y="1267.9">SU</text><text x="904.4" y="1268.9">KAAN</text><text x="677.5" y="1269.9">SU</text><text x="1222.1" y="1269.9">EFE</text><text x="243.2" y="1270.9">HALIL</text><text x="683.0" y="1270.9">METEHAN</text><text x="359.9" y="1271.9">EFE</text><text x="698.7" y="1271.9">KAAN</text><text x="710.5" y="1271.9">SU</text><text x="931.9" y="1271.9">ELIF</text><text x="991.7" y="1271.9">EFE</text><text x="253.9" y="1272.9">SU</text><text x="950.7" y="1272.9">METEHAN</text><text x="966.9" y="1272.9">EFE</text><text x="924.2" y="1273.9">EFE</text><text x="939.7" y="1273.9">SENA</text><text x="244.9" y="1274.9">ELIF</text><text x="368.2" y="1274.9">SU</text><text x="612.9" y="1274.9">TAHA</text><text x="798.9" y="1274.9">MEHMETHAN</text><text x="847.5" y="1274.9">SÜLEYMAN</text><text x="1222.2" y="1274.9">EDA</text><text x="662.4" y="1275.9">SENA</text><text x="674.5" y="1275.9">ALYA</text><text x="964.5" y="1276.9">KAAN</text><text x="638.2" y="1277.9">SENA</text><text x="885.5" y="1277.9">YIĞIT</text><text x="245.0" y="1278.9">YÜSRA</text><text x="952.5" y="1278.9">ELIF</text><text x="1348.8" y="1278.9">HALIL</text><text x="556.1" y="1279.9">GÖKAY</text><text x="674.5" y="1279.9">SEHER</text><text x="1222.2" y="1279.9">EDA</text><text x="662.6" y="1280.9">YÜSRA</text><text x="718.8" y="1280.9">DEFNE</text><text x="732.5" y="1280.9">EDA</text><text x="758.1" y="1280.9">GÖKAY</text><text x="971.2" y="1280.9">SU</text><text x="1348.9" y="1282.9">SU</text><text x="1223.1" y="1283.9">ELIF</text><text x="359.9" y="1284.9">SENA</text><text x="621.9" y="1285.9">KAAN</text><text x="614.6" y="1286.9">EFE</text><text x="817.5" y="1286.9">EFE</text><text x="840.5" y="1286.9">METEHAN</text><text x="809.2" y="1287.9">EDA</text><text x="360.4" y="1288.9">ALYA</text><text x="856.1" y="1288.9">YIĞIT</text><text x="1222.2" y="1288.9">SU</text><text x="1349.1" y="1288.9">ARAS</text><text x="226.2" y="1289.9">ALYA</text><text x="369.3" y="1289.9">SU</text><text x="828.8" y="1290.9">YÜSRA</text><text x="808.9" y="1291.9">SU</text><text x="588.2" y="1292.9">SU</text><text x="225.5" y="1293.9">GÖKAY</text><text x="251.3" y="1293.9">ARAS</text><text x="360.2" y="1293.9">SENA</text><text x="1222.3" y="1293.9">SU</text><text x="787.6" y="1294.9">SENA</text><text x="799.4" y="1294.9">EDA</text><text x="831.2" y="1294.9">HALIL</text><text x="808.5" y="1295.9">ELIF</text><text x="303.5" y="1296.9">EMRE</text><text x="322.4" y="1296.9">EMRE</text><text x="333.6" y="1296.9">ELIF</text><text x="613.5" y="1296.9">ATLAS</text><text x="625.5" y="1296.9">METEHAN</text><text x="1246.1" y="1296.9">METEHAN</text><text x="1263.2" y="1296.9">EFE</text><text x="1271.0" y="1296.9">SU</text><text x="1298.1" y="1296.9">YIĞIT</text><text x="224.6" y="1297.9">KAAN</text><text x="279.1" y="1297.9">SENA</text><text x="598.7" y="1297.9">YÜSRA</text><text x="830.3" y="1298.9">SENA</text><text x="1221.8" y="1298.9">EFE</text><text x="375.1" y="1299.9">SÜLEYMAN</text><text x="304.0" y="1300.9">ALYA</text><text x="1271.2" y="1300.9">EMRE</text><text x="1297.9" y="1300.9">EDA</text><text x="224.9" y="1301.9">METEHAN</text><text x="596.5" y="1301.9">GÖKAY</text><text x="610.0" y="1301.9">EFE</text><text x="617.5" y="1301.9">ALYA</text><text x="627.3" y="1301.9">KAAN</text><text x="1333.5" y="1301.9">HALIL</text><text x="1280.8" y="1302.9">EDA</text><text x="807.4" y="1303.9">SENA</text><text x="1222.8" y="1303.9">EDA</text><text x="1288.6" y="1303.9">ALYA</text><text x="325.3" y="1304.9">GÖKAY</text><text x="337.0" y="1304.9">YIĞIT</text><text x="225.8" y="1305.9">EFE</text><text x="346.1" y="1306.9">ALYA</text><text x="787.8" y="1306.9">SU</text><text x="1333.7" y="1306.9">TAHA</text><text x="964.2" y="1307.9">SENA</text><text x="985.0" y="1307.9">SEHER</text><text x="637.3" y="1308.9">SU</text><text x="973.4" y="1308.9">ELIF</text><text x="1342.9" y="1308.9">DEFNE</text><text x="225.9" y="1309.9">SU</text><text x="231.8" y="1309.9">SU</text><text x="801.6" y="1309.9">ARAS</text><text x="341.8" y="1310.9">YIĞIT</text><text x="787.6" y="1310.9">HALIL</text><text x="1271.2" y="1310.9">EDA</text><text x="1295.6" y="1310.9">ELIF</text><text x="351.0" y="1311.9">KAAN</text><text x="373.4" y="1311.9">SU</text><text x="380.4" y="1311.9">ALYA</text><text x="927.7" y="1311.9">TAHA</text><text x="972.8" y="1312.9">KAAN</text><text x="1225.1" y="1312.9">SU</text><text x="224.0" y="1313.9">KAAN</text><text x="360.7" y="1314.9">EMRE</text><text x="1271.9" y="1314.9">ELIF</text><text x="1343.1" y="1314.9">SU</text><text x="650.9" y="1315.9">YÜSRA</text><text x="664.7" y="1315.9">EDA</text><text x="686.1" y="1315.9">ALYA</text><text x="694.9" y="1315.9">MEHMETHAN</text><text x="728.4" y="1315.9">YIĞIT</text><text x="738.6" y="1315.9">EMRE</text><text x="750.6" y="1315.9">EFE</text><text x="759.1" y="1315.9">ARAS</text><text x="780.2" y="1315.9">SENA</text><text x="830.1" y="1315.9">YÜSRA</text><text x="874.3" y="1315.9">ELIF</text><text x="964.4" y="1315.9">SU</text><text x="982.2" y="1315.9">SU</text><text x="923.4" y="1316.9">ARAS</text><text x="303.4" y="1317.9">KAAN</text><text x="1303.0" y="1317.9">SENA</text><text x="1327.8" y="1317.9">SENA</text><text x="250.9" y="1318.9">METEHAN</text><text x="266.2" y="1318.9">YÜSRA</text><text x="369.2" y="1318.9">SENA</text><text x="380.7" y="1318.9">SU</text><text x="714.4" y="1318.9">DEFNE</text><text x="1225.2" y="1318.9">SU</text><text x="1312.5" y="1318.9">TAHA</text><text x="336.4" y="1319.9">SU</text><text x="651.7" y="1319.9">SU</text><text x="677.2" y="1319.9">EFE</text><text x="725.5" y="1319.9">ARAS</text><text x="808.5" y="1319.9">SU</text><text x="899.8" y="1319.9">KAAN</text><text x="605.1" y="1320.9">TAHA</text><text x="615.7" y="1320.9">SU</text><text x="923.4" y="1320.9">YIĞIT</text><text x="1356.1" y="1320.9">GÖKAY</text><text x="597.7" y="1321.9">SU</text><text x="933.9" y="1321.9">SU</text><text x="1271.0" y="1321.9">ALYA</text><text x="1367.5" y="1321.9">KAAN</text><text x="377.7" y="1322.9">ELIF</text><text x="585.2" y="1322.9">ALYA</text><text x="643.1" y="1322.9">SU</text><text x="1222.9" y="1322.9">SU</text><text x="616.4" y="1324.9">TAHA</text><text x="1356.0" y="1324.9">YIĞIT</text><text x="340.9" y="1325.9">SU</text><text x="598.0" y="1325.9">EMRE</text><text x="685.4" y="1325.9">SU</text><text x="809.6" y="1325.9">EFE</text><text x="901.2" y="1325.9">EMRE</text><text x="251.4" y="1326.9">ARAS</text><text x="263.1" y="1326.9">METEHAN</text><text x="291.8" y="1326.9">EFE</text><text x="557.1" y="1326.9">TAHA</text><text x="788.9" y="1326.9">KAAN</text><text x="911.0" y="1326.9">SU</text><text x="929.2" y="1326.9">EMRE</text><text x="1365.2" y="1326.9">YÜSRA</text><text x="241.0" y="1327.9">HALIL</text><text x="346.5" y="1327.9">YÜSRA</text><text x="567.8" y="1327.9">EDA</text><text x="625.3" y="1327.9">HALIL</text><text x="1309.3" y="1327.9">GÖKAY</text><text x="226.4" y="1328.9">ALYA</text><text x="798.0" y="1328.9">YIĞIT</text><text x="612.0" y="1329.9">EMRE</text><text x="939.2" y="1329.9">SEHER</text><text x="972.5" y="1329.9">KAAN</text><text x="985.2" y="1329.9">SU</text><text x="1229.9" y="1329.9">HALIL</text><text x="1240.9" y="1329.9">HALIL</text><text x="1357.2" y="1329.9">EFE</text><text x="266.4" y="1330.9">GÖKAY</text><text x="576.8" y="1330.9">SU</text><text x="910.6" y="1330.9">SÜLEYMAN</text><text x="929.8" y="1330.9">SENA</text><text x="1364.4" y="1330.9">EFE</text><text x="789.8" y="1331.9">EFE</text><text x="844.4" y="1331.9">ARAS</text><text x="856.0" y="1331.9">ELIF</text><text x="865.2" y="1331.9">DEFNE</text><text x="878.7" y="1331.9">ARAS</text><text x="890.8" y="1331.9">ARAS</text><text x="950.5" y="1331.9">METEHAN</text><text x="1322.7" y="1332.9">ELIF</text><text x="226.0" y="1333.9">EFE</text><text x="244.5" y="1333.9">SU</text><text x="569.7" y="1333.9">SU</text><text x="797.1" y="1333.9">SU</text><text x="804.4" y="1333.9">SENA</text><text x="266.7" y="1334.9">KAAN</text><text x="593.1" y="1334.9">SU</text><text x="710.4" y="1334.9">HALIL</text><text x="636.8" y="1336.9">YÜSRA</text><text x="728.7" y="1336.9">ELIF</text><text x="789.9" y="1336.9">SU</text><text x="1271.3" y="1336.9">YÜSRA</text><text x="1284.3" y="1336.9">ARAS</text><text x="226.3" y="1337.9">EDA</text><text x="587.8" y="1338.9">SU</text><text x="648.7" y="1338.9">GÖKAY</text><text x="1293.7" y="1338.9">ARAS</text><text x="1303.7" y="1338.9">SÜLEYMAN</text><text x="1322.2" y="1338.9">TAHA</text><text x="691.2" y="1339.9">SU</text><text x="575.5" y="1340.9">EFE</text><text x="636.9" y="1340.9">ATLAS</text><text x="778.9" y="1340.9">TAHA</text><text x="788.5" y="1340.9">TAHA</text><text x="811.0" y="1340.9">SU</text><text x="1281.2" y="1340.9">ARAS</text><text x="728.7" y="1341.9">TAHA</text><text x="1232.8" y="1341.9">KAAN</text><text x="385.9" y="1342.9">SU</text><text x="583.2" y="1342.9">TAHA</text><text x="594.1" y="1342.9">SENA</text><text x="603.7" y="1342.9">TAHA</text><text x="614.0" y="1342.9">YIĞIT</text><text x="623.7" y="1342.9">KAAN</text><text x="647.6" y="1342.9">SU</text><text x="654.9" y="1342.9">SU</text><text x="1320.8" y="1342.9">DEFNE</text><text x="226.8" y="1343.9">SU</text><text x="554.5" y="1343.9">EFE</text><text x="1300.9" y="1343.9">SU</text><text x="857.5" y="1345.9">YIĞIT</text><text x="1232.5" y="1345.9">YÜSRA</text><text x="621.4" y="1346.9">EFE</text><text x="648.6" y="1346.9">ARAS</text><text x="687.0" y="1346.9">ELIF</text><text x="1320.4" y="1346.9">KAAN</text><text x="386.4" y="1347.9">SU</text><text x="847.3" y="1347.9">SU</text><text x="1330.0" y="1347.9">EDA</text><text x="1349.5" y="1348.9">SÜLEYMAN</text><text x="1337.6" y="1349.9">EDA</text><text x="292.2" y="1350.9">SU</text><text x="648.7" y="1350.9">EMRE</text><text x="766.9" y="1350.9">KAAN</text><text x="1005.2" y="1350.9">EMRE</text><text x="1238.2" y="1350.9">SEHER</text><text x="1271.2" y="1350.9">TAHA</text><text x="1280.8" y="1350.9">EDA</text><text x="685.0" y="1351.9">DEFNE</text><text x="875.7" y="1351.9">ARAS</text><text x="1310.8" y="1351.9">KAAN</text><text x="1222.1" y="1352.9">SEHER</text><text x="1320.3" y="1352.9">YIĞIT</text><text x="722.1" y="1354.9">GÖKAY</text><text x="767.6" y="1354.9">SENA</text><text x="894.7" y="1354.9">ARAS</text><text x="928.1" y="1354.9">EFE</text><text x="960.6" y="1354.9">TAHA</text><text x="1005.3" y="1354.9">EDA</text><text x="1271.1" y="1354.9">SÜLEYMAN</text><text x="647.8" y="1355.9">SENA</text><text x="875.7" y="1355.9">HALIL</text><text x="887.0" y="1355.9">SU</text><text x="1314.0" y="1355.9">SU</text><text x="1013.0" y="1356.9">TAHA</text><text x="1225.3" y="1356.9">SU</text><text x="240.2" y="1357.9">SENA</text><text x="249.3" y="1357.9">MEHMETHAN</text><text x="316.4" y="1357.9">EFE</text><text x="369.8" y="1357.9">SU</text><text x="735.5" y="1357.9">ELIF</text><text x="935.7" y="1357.9">YIĞIT</text><text x="269.1" y="1358.9">SENA</text><text x="335.0" y="1358.9">ARAS</text><text x="685.9" y="1358.9">SU</text><text x="722.2" y="1358.9">YIĞIT</text><text x="892.7" y="1358.9">EDA</text><text x="960.5" y="1358.9">EMRE</text><text x="1006.3" y="1358.9">SU</text><text x="1342.9" y="1358.9">EDA</text><text x="875.7" y="1359.9">SÜLEYMAN</text><text x="583.7" y="1360.9">SU</text><text x="632.0" y="1360.9">ALYA</text><text x="710.4" y="1360.9">EMRE</text><text x="792.6" y="1360.9">GÖKAY</text><text x="946.0" y="1360.9">EDA</text><text x="1307.5" y="1360.9">EDA</text><text x="1350.8" y="1360.9">TAHA</text><text x="316.4" y="1361.9">SU</text><text x="807.7" y="1361.9">YIĞIT</text><text x="1222.2" y="1361.9">ELIF</text><text x="684.9" y="1362.9">SENA</text><text x="856.4" y="1362.9">EMRE</text><text x="934.9" y="1362.9">ELIF</text><text x="953.9" y="1362.9">YIĞIT</text><text x="1230.1" y="1362.9">EMRE</text><text x="1243.6" y="1362.9">SU</text><text x="1272.2" y="1362.9">ELIF</text><text x="614.0" y="1363.9">YÜSRA</text><text x="1360.2" y="1363.9">KAAN</text><text x="226.7" y="1364.9">EDA</text><text x="712.5" y="1364.9">EFE</text><text x="963.0" y="1364.9">TAHA</text><text x="1345.9" y="1364.9">ARAS</text><text x="380.9" y="1365.9">KAAN</text><text x="583.5" y="1365.9">ELIF</text><text x="807.4" y="1365.9">EDA</text><text x="234.9" y="1366.9">YÜSRA</text><text x="258.6" y="1366.9">EFE</text><text x="373.6" y="1366.9">SU</text><text x="684.9" y="1366.9">YIĞIT</text><text x="935.3" y="1366.9">ALYA</text><text x="1229.5" y="1366.9">KAAN</text><text x="1270.8" y="1366.9">HALIL</text><text x="1307.9" y="1366.9">TAHA</text><text x="293.5" y="1367.9">EFE</text><text x="301.0" y="1368.9">EFE</text><text x="592.8" y="1368.9">SU</text><text x="711.5" y="1368.9">EDA</text><text x="998.0" y="1368.9">ALYA</text><text x="1241.4" y="1368.9">TAHA</text><text x="1318.2" y="1368.9">SU</text><text x="226.3" y="1369.9">ALYA</text><text x="1019.8" y="1369.9">ELIF</text><text x="584.7" y="1370.9">SU</text><text x="1006.3" y="1370.9">EDA</text><text x="1222.0" y="1370.9">EFE</text><text x="1231.8" y="1370.9">YIĞIT</text><text x="1307.8" y="1370.9">HALIL</text><text x="685.1" y="1371.9">EDA</text><text x="1252.1" y="1371.9">ATLAS</text><text x="1262.7" y="1371.9">ELIF</text><text x="1271.6" y="1371.9">EDA</text><text x="1368.3" y="1371.9">EFE</text><text x="590.6" y="1372.9">SU</text><text x="808.7" y="1372.9">EDA</text><text x="240.2" y="1374.9">SÜLEYMAN</text><text x="685.1" y="1375.9">METEHAN</text><text x="701.6" y="1375.9">MEHMETHAN</text><text x="583.6" y="1376.9">ALYA</text><text x="907.3" y="1376.9">TAHA</text><text x="998.1" y="1376.9">EFE</text><text x="1222.3" y="1376.9">SU</text><text x="1349.0" y="1376.9">MEHMETHAN</text><text x="594.8" y="1377.9">GÖKAY</text><text x="618.4" y="1377.9">ELIF</text><text x="1369.4" y="1378.9">SU</text><text x="360.1" y="1380.9">ELIF</text><text x="381.0" y="1380.9">ELIF</text><text x="583.4" y="1380.9">EFE</text><text x="626.0" y="1380.9">KAAN</text><text x="810.5" y="1380.9">SU</text><text x="948.0" y="1380.9">EDA</text><text x="967.0" y="1380.9">EDA</text><text x="998.1" y="1380.9">ATLAS</text><text x="226.4" y="1381.9">DEFNE</text><text x="986.7" y="1381.9">KAAN</text><text x="368.2" y="1382.9">EMRE</text><text x="930.9" y="1382.9">SU</text><text x="1008.5" y="1382.9">EMRE</text><text x="1018.9" y="1382.9">KAAN</text><text x="1221.9" y="1382.9">EFE</text><text x="590.7" y="1383.9">TAHA</text><text x="831.2" y="1383.9">YIĞIT</text><text x="959.0" y="1383.9">SU</text><text x="361.0" y="1384.9">EFE</text><text x="807.4" y="1384.9">METEHAN</text><text x="824.6" y="1384.9">SU</text><text x="247.0" y="1386.9">YIĞIT</text><text x="964.6" y="1386.9">ATLAS</text><text x="1222.9" y="1386.9">EDA</text><text x="240.2" y="1387.9">SU</text><text x="583.4" y="1387.9">HALIL</text><text x="830.7" y="1387.9">EMRE</text><text x="926.9" y="1387.9">ALYA</text><text x="1349.2" y="1388.9">SENA</text><text x="360.3" y="1389.9">GÖKAY</text><text x="807.8" y="1389.9">SÜLEYMAN</text><text x="994.9" y="1390.9">SU</text><text x="1222.9" y="1390.9">SU</text><text x="1359.1" y="1390.9">HALIL</text><text x="239.3" y="1391.9">YÜSRA</text><text x="251.2" y="1391.9">DEFNE</text><text x="1370.2" y="1391.9">SU</text><text x="606.1" y="1392.9">TAHA</text><text x="829.3" y="1392.9">ATLAS</text><text x="856.6" y="1392.9">SU</text><text x="615.4" y="1394.9">ELIF</text><text x="907.0" y="1394.9">EFE</text><text x="915.7" y="1394.9">ALYA</text><text x="1224.9" y="1394.9">SU</text><text x="1349.2" y="1394.9">SU</text><text x="244.2" y="1395.9">METEHAN</text><text x="622.9" y="1396.9">SENA</text><text x="633.6" y="1396.9">SU</text><text x="997.8" y="1396.9">EDA</text><text x="373.6" y="1397.9">SU</text><text x="829.4" y="1397.9">TAHA</text><text x="615.6" y="1398.9">SU</text><text x="235.1" y="1399.9">EDA</text><text x="243.1" y="1399.9">SU</text><text x="248.9" y="1399.9">SEHER</text><text x="1222.0" y="1399.9">SU</text><text x="914.7" y="1400.9">ATLAS</text><text x="1367.6" y="1400.9">ALYA</text><text x="370.3" y="1401.9">ARAS</text><text x="982.8" y="1401.9">SU</text><text x="362.1" y="1402.9">SU</text><text x="796.3" y="1402.9">YÜSRA</text><text x="808.3" y="1403.9">ARAS</text><text x="1222.0" y="1403.9">TAHA</text><text x="252.3" y="1404.9">EDA</text><text x="240.9" y="1405.9">EDA</text><text x="940.0" y="1405.9">HALIL</text><text x="950.4" y="1405.9">SU</text><text x="957.5" y="1405.9">SÜLEYMAN</text><text x="982.6" y="1405.9">METEHAN</text><text x="1368.4" y="1405.9">SU</text><text x="795.9" y="1406.9">EFE</text><text x="1349.3" y="1406.9">GÖKAY</text><text x="1222.3" y="1407.9">SU</text><text x="248.3" y="1408.9">ELIF</text><text x="802.9" y="1408.9">EDA</text><text x="829.5" y="1408.9">TAHA</text><text x="242.1" y="1409.9">SU</text><text x="378.8" y="1409.9">EMRE</text><text x="1361.2" y="1409.9">ELIF</text><text x="811.5" y="1410.9">SU</text><text x="1222.2" y="1411.9">ELIF</text><text x="249.1" y="1412.9">SENA</text><text x="1367.5" y="1414.9">KAAN</text><text x="384.8" y="1416.9">SU</text><text x="1222.0" y="1416.9">TAHA</text><text x="1349.4" y="1418.9">SENA</text><text x="1360.0" y="1418.9">ATLAS</text><text x="255.7" y="1419.9">SU</text><text x="717.5" y="1419.9">YÜSRA</text><text x="730.3" y="1419.9">SU</text><text x="1370.8" y="1419.9">SU</text><text x="636.3" y="1420.9">KAAN</text><text x="767.7" y="1420.9">EDA</text><text x="776.5" y="1420.9">EMRE</text><text x="797.5" y="1420.9">GÖKAY</text><text x="1349.2" y="1422.9">EMRE</text><text x="1360.9" y="1422.9">HALIL</text><text x="1222.1" y="1423.9">KAAN</text><text x="1349.0" y="1426.9">TAHA</text><text x="1358.0" y="1426.9">SENA</text><text x="1369.2" y="1426.9">ELIF</text><text x="255.8" y="1427.9">SU</text><text x="245.1" y="1428.9">EDA</text><text x="1223.3" y="1428.9">SU</text><text x="252.9" y="1431.9">KAAN</text><text x="247.3" y="1432.9">SU</text><text x="1221.8" y="1434.9">HALIL</text><text x="1231.5" y="1435.9">TAHA</text><text x="1243.2" y="1435.9">SU</text><text x="244.9" y="1437.9">EFE</text><text x="256.4" y="1437.9">SU</text><text x="273.7" y="1438.9">SENA</text><text x="398.4" y="1438.9">ARAS</text><text x="420.8" y="1438.9">EFE</text><text x="561.7" y="1438.9">ELIF</text><text x="569.6" y="1438.9">SÜLEYMAN</text><text x="600.5" y="1438.9">ATLAS</text><text x="611.8" y="1438.9">EMRE</text><text x="640.7" y="1438.9">ALYA</text><text x="711.8" y="1438.9">ARAS</text><text x="764.5" y="1438.9">EDA</text><text x="773.3" y="1438.9">YÜSRA</text><text x="803.4" y="1438.9">ARAS</text><text x="881.8" y="1438.9">KAAN</text><text x="922.9" y="1438.9">EMRE</text><text x="941.2" y="1438.9">YÜSRA</text><text x="954.1" y="1438.9">SÜLEYMAN</text><text x="984.4" y="1438.9">GÖKAY</text><text x="1052.4" y="1438.9">SENA</text><text x="1062.0" y="1438.9">SENA</text><text x="1071.9" y="1438.9">EDA</text><text x="1080.3" y="1438.9">EDA</text><text x="1102.5" y="1438.9">YIĞIT</text><text x="1123.9" y="1438.9">SENA</text><text x="1183.6" y="1438.9">ALYA</text><text x="1249.2" y="1438.9">SÜLEYMAN</text><text x="1267.9" y="1438.9">GÖKAY</text><text x="1291.4" y="1438.9">TAHA</text><text x="461.2" y="1439.9">ELIF</text><text x="503.8" y="1439.9">HALIL</text><text x="537.3" y="1439.9">EFE</text><text x="586.3" y="1439.9">EDA</text><text x="668.9" y="1439.9">EMRE</text><text x="721.1" y="1439.9">DEFNE</text><text x="821.5" y="1439.9">ARAS</text><text x="841.0" y="1439.9">ALYA</text><text x="1093.4" y="1439.9">ELIF</text><text x="1111.5" y="1439.9">ELIF</text><text x="1153.3" y="1439.9">SENA</text><text x="1192.9" y="1439.9">YÜSRA</text><text x="1280.7" y="1439.9">EMRE</text><text x="1300.4" y="1439.9">KAAN</text><text x="1366.6" y="1439.9">EMRE</text><text x="311.7" y="1440.9">ALYA</text><text x="358.3" y="1440.9">ARAS</text><text x="389.7" y="1440.9">SU</text><text x="468.9" y="1440.9">KAAN</text><text x="649.6" y="1440.9">ARAS</text><text x="662.9" y="1440.9">SU</text><text x="1001.2" y="1440.9">SU</text><text x="1007.6" y="1440.9">ELIF</text><text x="1212.8" y="1440.9">YÜSRA</text><text x="1224.5" y="1440.9">SU</text><text x="1313.9" y="1440.9">ATLAS</text><text x="225.4" y="1441.9">YIĞIT</text><text x="275.7" y="1442.9">HALIL</text><text x="624.8" y="1442.9">SU</text><text x="1290.6" y="1442.9">SU</text><text x="581.7" y="1443.9">MEHMETHAN</text><text x="1113.0" y="1443.9">SENA</text><text x="1257.6" y="1443.9">EFE</text><text x="1267.2" y="1443.9">YÜSRA</text><text x="1280.5" y="1443.9">SENA</text><text x="338.4" y="1444.9">SU</text><text x="387.2" y="1444.9">SU</text><text x="460.9" y="1444.9">HALIL</text><text x="562.5" y="1444.9">YÜSRA</text><text x="887.6" y="1444.9">EMRE</text><text x="966.5" y="1444.9">SU</text><text x="1001.4" y="1444.9">YIĞIT</text><text x="1012.5" y="1444.9">SENA</text><text x="1366.9" y="1444.9">YIĞIT</text><text x="630.5" y="1445.9">SEHER</text><text x="727.7" y="1445.9">TAHA</text><text x="1021.9" y="1445.9">EDA</text><text x="1223.2" y="1445.9">ELIF</text><text x="235.3" y="1446.9">SU</text><text x="242.3" y="1446.9">ALYA</text><text x="275.8" y="1446.9">YIĞIT</text><text x="470.7" y="1446.9">TAHA</text><text x="574.3" y="1446.9">SU</text><text x="621.5" y="1446.9">ELIF</text><text x="897.6" y="1446.9">ELIF</text><text x="1236.7" y="1446.9">TAHA</text><text x="1246.1" y="1446.9">SENA</text><text x="284.9" y="1447.9">SU</text><text x="325.8" y="1447.9">EDA</text><text x="580.2" y="1447.9">ARAS</text><text x="600.4" y="1447.9">SU</text><text x="1029.3" y="1447.9">METEHAN</text><text x="1102.3" y="1447.9">TAHA</text><text x="1112.8" y="1447.9">YÜSRA</text><text x="1212.8" y="1447.9">EDA</text><text x="387.2" y="1448.9">HALIL</text><text x="562.9" y="1448.9">ALYA</text><text x="915.6" y="1448.9">ARAS</text><text x="961.7" y="1448.9">SEHER</text><text x="1014.0" y="1448.9">SU</text><text x="1092.7" y="1448.9">HALIL</text><text x="319.2" y="1449.9">SU</text><text x="427.1" y="1449.9">SU</text><text x="793.6" y="1449.9">ALYA</text><text x="905.4" y="1449.9">HALIL</text><text x="1255.8" y="1449.9">TAHA</text><text x="573.6" y="1450.9">SU</text><text x="590.4" y="1450.9">SU</text><text x="727.4" y="1450.9">TAHA</text><text x="990.3" y="1450.9">TAHA</text><text x="1324.4" y="1450.9">DEFNE</text><text x="324.9" y="1451.9">GÖKAY</text><text x="1300.9" y="1451.9">ARAS</text><text x="455.3" y="1452.9">ELIF</text><text x="888.7" y="1452.9">ALYA</text><text x="915.3" y="1452.9">ATLAS</text><text x="1088.7" y="1452.9">EDA</text><text x="579.6" y="1453.9">HALIL</text><text x="1074.8" y="1453.9">SU</text><text x="1264.7" y="1453.9">SU</text><text x="301.6" y="1454.9">EMRE</text><text x="314.1" y="1454.9">TAHA</text><text x="336.8" y="1454.9">YÜSRA</text><text x="562.3" y="1454.9">HALIL</text><text x="746.0" y="1454.9">EFE</text><text x="790.0" y="1454.9">SEHER</text><text x="897.5" y="1454.9">DEFNE</text><text x="990.3" y="1454.9">ALYA</text><text x="1097.4" y="1454.9">SU</text><text x="1310.7" y="1454.9">YÜSRA</text><text x="1323.3" y="1454.9">EMRE</text><text x="325.3" y="1455.9">EFE</text><text x="1283.8" y="1455.9">ALYA</text><text x="1292.3" y="1455.9">EDA</text><text x="1333.4" y="1455.9">EMRE</text><text x="636.9" y="1456.9">SU</text><text x="919.1" y="1457.9">DEFNE</text><text x="1345.7" y="1457.9">SU</text><text x="562.3" y="1458.9">KAAN</text><text x="789.9" y="1458.9">SU</text><text x="1092.7" y="1458.9">EDA</text><text x="910.1" y="1459.9">ELIF</text><text x="1072.8" y="1459.9">SU</text><text x="1326.1" y="1459.9">YIĞIT</text><text x="1365.2" y="1459.9">ATLAS</text><text x="1213.5" y="1460.9">HALIL</text><text x="635.1" y="1461.9">SU</text><text x="727.6" y="1461.9">EDA</text><text x="795.7" y="1461.9">SU</text><text x="1354.0" y="1461.9">KAAN</text><text x="226.1" y="1462.9">SEHER</text><text x="990.0" y="1462.9">EFE</text><text x="1078.5" y="1462.9">HALIL</text><text x="1088.7" y="1462.9">MEHMETHAN</text><text x="1335.4" y="1462.9">HALIL</text><text x="1347.1" y="1462.9">SU</text><text x="255.9" y="1463.9">SU</text><text x="595.2" y="1463.9">ALYA</text><text x="1326.3" y="1463.9">TAHA</text><text x="1363.9" y="1463.9">SENA</text><text x="325.3" y="1464.9">METEHAN</text><text x="342.9" y="1464.9">SU</text><text x="1213.5" y="1464.9">EFE</text><text x="562.5" y="1465.9">SEHER</text><text x="576.3" y="1465.9">EFE</text><text x="584.3" y="1465.9">ELIF</text><text x="728.7" y="1465.9">ALYA</text><text x="790.1" y="1465.9">YIĞIT</text><text x="887.5" y="1465.9">SENA</text><text x="1108.9" y="1465.9">ARAS</text><text x="1352.6" y="1465.9">SENA</text><text x="225.5" y="1466.9">SEHER</text><text x="271.1" y="1466.9">DEFNE</text><text x="622.9" y="1466.9">EMRE</text><text x="642.3" y="1466.9">ALYA</text><text x="662.6" y="1466.9">SENA</text><text x="674.6" y="1466.9">EMRE</text><text x="685.7" y="1466.9">YIĞIT</text><text x="708.1" y="1466.9">ELIF</text><text x="737.4" y="1466.9">EFE</text><text x="799.6" y="1466.9">YÜSRA</text><text x="811.8" y="1466.9">SEHER</text><text x="846.1" y="1466.9">DEFNE</text><text x="858.5" y="1466.9">EDA</text><text x="867.6" y="1466.9">SÜLEYMAN</text><text x="1092.7" y="1466.9">TAHA</text><text x="1295.6" y="1466.9">SU</text>
</g>
<g font-size="7.99" transform="rotate(90)" stroke="#000" stroke-width="0.22">
<text x="684.4" y="-564.4">ARAS</text><text x="287.7" y="-1233.9">SENA</text><text x="715.2" y="-853.8">HALIL</text><text x="897.0" y="-261.9">ARAS</text>
</g>
<g font-size="5.23" transform="rotate(90)" stroke="#000" stroke-width="0.22">
<text x="439.7" y="-1093.8">KAAN</text><text x="603.3" y="-595.4">SENA</text><text x="557.4" y="-965.6">ATLAS</text><text x="894.7" y="-384.6">SU</text><text x="448.5" y="-996.0">KAAN</text><text x="759.2" y="-665.0">ARAS</text><text x="417.2" y="-990.9">SU</text><text x="430.6" y="-474.4">EDA</text><text x="457.9" y="-1222.7">YIĞIT</text><text x="1391.6" y="-976.6">ELIF</text><text x="542.6" y="-276.4">HALIL</text><text x="455.2" y="-854.9">KAAN</text><text x="135.1" y="-867.7">EFE</text><text x="886.4" y="-354.3">SENA</text><text x="335.1" y="-680.5">SÜLEYMAN</text><text x="1174.4" y="-274.2">DEFNE</text><text x="651.7" y="-746.3">EFE</text><text x="1438.7" y="-1231.1">SENA</text><text x="320.9" y="-719.1">TAHA</text><text x="595.4" y="-852.6">EMRE</text>
</g>
<g font-size="3.78" transform="rotate(90)" stroke="#000" stroke-width="0.12">
<text x="755.5" y="-246.5">ATLAS</text><text x="1193.0" y="-1252.3">EMRE</text><text x="450.2" y="-988.4">KAAN</text><text x="769.9" y="-766.7">TAHA</text><text x="1227.2" y="-1226.2">EFE</text><text x="135.1" y="-232.1">EMRE</text><text x="1169.0" y="-1262.3">SU</text><text x="443.4" y="-671.2">ELIF</text><text x="397.3" y="-544.9">TAHA</text><text x="932.2" y="-383.0">MEHMETHAN</text><text x="583.6" y="-962.2">EFE</text><text x="907.7" y="-381.4">EMRE</text><text x="410.4" y="-981.1">EDA</text><text x="417.8" y="-260.8">ARAS</text><text x="1117.2" y="-234.3">ELIF</text><text x="432.8" y="-685.1">EFE</text><text x="698.5" y="-962.3">YIĞIT</text><text x="656.8" y="-798.3">SEHER</text><text x="674.8" y="-1088.6">YÜSRA</text><text x="1322.5" y="-385.2">DEFNE</text><text x="521.5" y="-1133.3">ELIF</text><text x="1455.8" y="-456.3">YIĞIT</text><text x="542.8" y="-1317.5">SU</text><text x="495.9" y="-1088.9">TAHA</text><text x="1400.7" y="-385.0">SU</text><text x="137.1" y="-727.8">ALYA</text><text x="595.3" y="-1335.8">ALYA</text><text x="1328.3" y="-685.8">DEFNE</text><text x="1260.7" y="-225.4">EDA</text><text x="531.3" y="-857.8">SU</text><text x="737.0" y="-355.9">EFE</text><text x="389.8" y="-1327.2">SEHER</text><text x="300.5" y="-1369.2">ARAS</text><text x="697.4" y="-668.9">MEHMETHAN</text><text x="931.4" y="-1370.2">SENA</text><text x="319.0" y="-873.9">YÜSRA</text><text x="445.6" y="-1275.2">HALIL</text>
</g>
<text class="c" transform="translate(1229.9,1619.8) scale(0.83,1)" font-size="26.3">created by wordificator.com</text>
</svg>
</body></html>
